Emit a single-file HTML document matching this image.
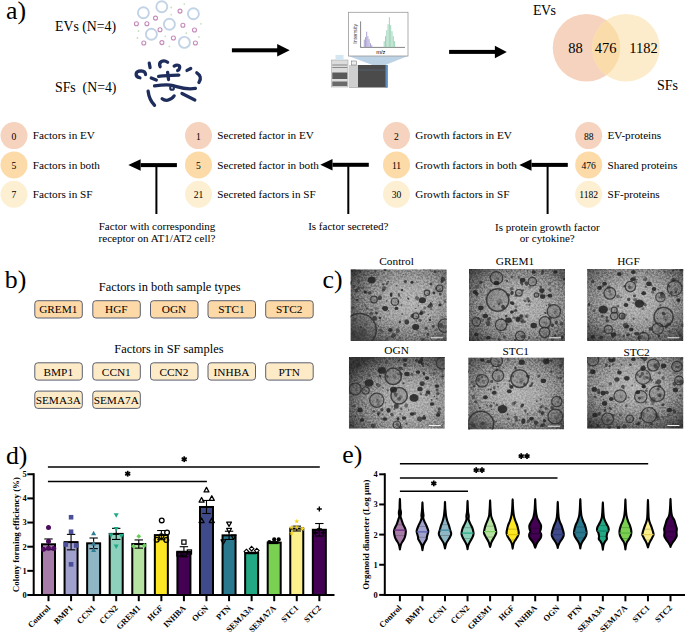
<!DOCTYPE html>
<html><head><meta charset="utf-8"><style>
html,body{margin:0;padding:0;background:#fff;}
body{width:685px;height:632px;overflow:hidden;}
svg{display:block;font-family:"Liberation Serif",serif;}
</style></head><body>
<svg width="685" height="632" viewBox="0 0 685 632">
<text x="6.0" y="19.0" font-size="25.8" text-anchor="start" font-weight="normal" fill="#000" >a)</text>
<text x="55" y="30.8" font-size="13.8" text-anchor="start" font-weight="normal" fill="#000" >EVs (N=4)</text>
<text x="55" y="91.5" font-size="13.8" text-anchor="start" font-weight="normal" fill="#000" >SFs&#160;&#160;(N=4)</text>
<circle cx="143.4" cy="12.8" r="5.5" fill="none" stroke="#c2d3e6" stroke-width="1.9"/>
<circle cx="161.8" cy="6.7" r="5.5" fill="none" stroke="#c2d3e6" stroke-width="1.9"/>
<circle cx="193.4" cy="13.7" r="5.5" fill="none" stroke="#c2d3e6" stroke-width="1.9"/>
<circle cx="169.4" cy="24.3" r="5.5" fill="none" stroke="#c2d3e6" stroke-width="1.9"/>
<circle cx="151.4" cy="34.2" r="5.5" fill="none" stroke="#c2d3e6" stroke-width="1.9"/>
<circle cx="184.4" cy="42.4" r="5.5" fill="none" stroke="#c2d3e6" stroke-width="1.9"/>
<circle cx="155.5" cy="18.1" r="2.0" fill="none" stroke="#c48ab8" stroke-width="1.1"/>
<circle cx="136.4" cy="23.7" r="2.0" fill="none" stroke="#c48ab8" stroke-width="1.1"/>
<circle cx="146.9" cy="23.7" r="2.0" fill="none" stroke="#c48ab8" stroke-width="1.1"/>
<circle cx="180" cy="11.1" r="2.0" fill="none" stroke="#c48ab8" stroke-width="1.1"/>
<circle cx="182.9" cy="25.3" r="2.0" fill="none" stroke="#c48ab8" stroke-width="1.1"/>
<circle cx="194.5" cy="30" r="2.0" fill="none" stroke="#c48ab8" stroke-width="1.1"/>
<circle cx="160" cy="29.8" r="2.0" fill="none" stroke="#c48ab8" stroke-width="1.1"/>
<circle cx="173.4" cy="38" r="2.0" fill="none" stroke="#c48ab8" stroke-width="1.1"/>
<circle cx="143.8" cy="43" r="2.0" fill="none" stroke="#c48ab8" stroke-width="1.1"/>
<circle cx="161.9" cy="42.6" r="2.0" fill="none" stroke="#c48ab8" stroke-width="1.1"/>
<circle cx="195.4" cy="43" r="2.0" fill="none" stroke="#c48ab8" stroke-width="1.1"/>
<circle cx="171.2" cy="7.5" r="0.9" fill="#c5e0bf"/>
<circle cx="184.3" cy="4.1" r="0.9" fill="#c5e0bf"/>
<circle cx="171.2" cy="14.7" r="0.9" fill="#c5e0bf"/>
<circle cx="200.9" cy="23.8" r="0.9" fill="#c5e0bf"/>
<circle cx="138.5" cy="31" r="0.9" fill="#c5e0bf"/>
<circle cx="186.3" cy="33.2" r="0.9" fill="#c5e0bf"/>
<circle cx="165.3" cy="36.3" r="0.9" fill="#c5e0bf"/>
<circle cx="198.9" cy="36.9" r="0.9" fill="#c5e0bf"/>
<circle cx="137.4" cy="38" r="0.9" fill="#c5e0bf"/>
<circle cx="169.4" cy="46.4" r="0.9" fill="#c5e0bf"/>
<g transform="translate(130,55) scale(0.1168)" fill="none" stroke="#1e2d5c" stroke-width="28" stroke-linecap="round">
<path d="M 85 195 C 40 185, 40 135, 95 135 C 120 137, 133 150, 133 168"/>
<path d="M 165 70 L 172 108"/>
<path d="M 258 100 C 240 60, 285 35, 322 62"/>
<path d="M 378 95 C 400 80, 430 85, 425 110 C 422 125, 415 130, 408 133"/>
<path d="M 488 132 L 520 115"/>
<path d="M 572 152 C 600 170, 615 200, 590 235"/>
<path d="M 245 182 C 300 178, 360 172, 418 172"/>
<path d="M 322 148 L 330 210"/>
<path d="M 182 197 L 225 215"/>
<path d="M 210 265 C 260 258, 320 250, 370 262 C 420 275, 470 300, 560 286"/>
<path d="M 155 310 C 160 350, 170 390, 210 430"/>
<path d="M 275 375 C 300 395, 345 395, 378 350"/>
<path d="M 445 330 L 555 385"/>
<circle cx="360" cy="282" r="16" stroke-width="18"/>
</g>
<rect x="231.9" y="48.3" width="46.29999999999998" height="4" fill="#000"/>
<polygon points="277.2,44.05 289.7,50.3 277.2,56.55" fill="#000"/>
<rect x="449.1" y="49.9" width="46.799999999999955" height="4" fill="#000"/>
<polygon points="494.9,45.65 506.8,51.9 494.9,58.15" fill="#000"/>
<g>
<polygon points="348.5,56 408,56 379,67.5" fill="#bcd3e6"/>
<rect x="348.5" y="12.3" width="59.5" height="43.7" fill="#fff" stroke="#9a9a9a" stroke-width="0.8"/>
<line x1="360.6" y1="21.4" x2="360.6" y2="47.6" stroke="#333" stroke-width="0.6"/>
<line x1="360.6" y1="47.4" x2="405" y2="47.4" stroke="#333" stroke-width="0.6"/>
<line x1="364.3" y1="47.2" x2="364.3" y2="39.7" stroke="#a49bd0" stroke-width="0.9"/>
<line x1="365.5" y1="47.2" x2="365.5" y2="37.2" stroke="#a49bd0" stroke-width="0.9"/>
<line x1="366.7" y1="47.2" x2="366.7" y2="31.700000000000003" stroke="#a49bd0" stroke-width="0.9"/>
<line x1="367.9" y1="47.2" x2="367.9" y2="36.2" stroke="#a49bd0" stroke-width="0.9"/>
<line x1="369.1" y1="47.2" x2="369.1" y2="39.2" stroke="#a49bd0" stroke-width="0.9"/>
<line x1="370.5" y1="47.2" x2="370.5" y2="43.2" stroke="#a49bd0" stroke-width="0.9"/>
<line x1="371.8" y1="47.2" x2="371.8" y2="45.2" stroke="#a49bd0" stroke-width="0.9"/>
<line x1="384.2" y1="47.2" x2="384.2" y2="41.2" stroke="#93d0b0" stroke-width="0.9"/>
<line x1="385.5" y1="47.2" x2="385.5" y2="36.2" stroke="#93d0b0" stroke-width="0.9"/>
<line x1="386.8" y1="47.2" x2="386.8" y2="30.200000000000003" stroke="#93d0b0" stroke-width="0.9"/>
<line x1="388.1" y1="47.2" x2="388.1" y2="24.200000000000003" stroke="#93d0b0" stroke-width="0.9"/>
<line x1="389.4" y1="47.2" x2="389.4" y2="17.200000000000003" stroke="#93d0b0" stroke-width="0.9"/>
<line x1="390.7" y1="47.2" x2="390.7" y2="25.200000000000003" stroke="#93d0b0" stroke-width="0.9"/>
<line x1="392.0" y1="47.2" x2="392.0" y2="31.200000000000003" stroke="#93d0b0" stroke-width="0.9"/>
<line x1="393.3" y1="47.2" x2="393.3" y2="36.2" stroke="#93d0b0" stroke-width="0.9"/>
<line x1="394.6" y1="47.2" x2="394.6" y2="41.2" stroke="#93d0b0" stroke-width="0.9"/>
<text x="0" y="0" font-size="5.3" text-anchor="middle" transform="translate(357.4,33.8) rotate(-90)" fill="#333" font-family="Liberation Sans">Intensity</text>
<text x="380.8" y="53.8" font-size="5.8" text-anchor="middle" font-weight="normal" fill="#000" font-family="Liberation Sans" fill="#333">m/z</text>
<rect x="331.5" y="60" width="16.5" height="27" fill="#dcdcdc" stroke="#9a9a9a" stroke-width="0.5"/>
<rect x="332.3" y="64.5" width="15" height="1" fill="#8a8a8a"/>
<rect x="332.3" y="67" width="15" height="1" fill="#8a8a8a"/>
<rect x="332.3" y="72.5" width="15" height="6.5" fill="#5a5a5a"/>
<rect x="332.3" y="81.5" width="15" height="4.5" fill="#6a6a6a"/>
<rect x="335.5" y="55" width="8" height="5" fill="#d3e6f1"/>
<rect x="349" y="65" width="38.5" height="22.5" fill="#4b4b4b"/>
<rect x="349" y="65" width="9" height="22.5" fill="#cfcfcf"/>
<rect x="385.5" y="65" width="2" height="22.5" fill="#5d8fc7"/>
<rect x="351.5" y="61" width="5" height="4" fill="#eee" stroke="#666" stroke-width="0.5"/>
<line x1="358" y1="70" x2="385" y2="70" stroke="#5d7fa8" stroke-width="0.4"/>
</g>
<circle cx="586.5" cy="47.8" r="33.8" fill="#f6d3be"/>
<circle cx="626" cy="47.8" r="33.8" fill="#fdeccb"/>
<clipPath id="vl"><circle cx="586.5" cy="47.8" r="33.8"/></clipPath>
<circle cx="626" cy="47.8" r="33.8" fill="#f9dcaa" clip-path="url(#vl)"/>
<text x="533" y="14.6" font-size="14" text-anchor="start" font-weight="normal" fill="#000" textLength="23">EVs</text>
<text x="575.4" y="53.1" font-size="14.5" text-anchor="middle" font-weight="normal" fill="#000" >88</text>
<text x="605.6" y="53.1" font-size="14.5" text-anchor="middle" font-weight="normal" fill="#000" >476</text>
<text x="643.6" y="53.1" font-size="14.5" text-anchor="middle" font-weight="normal" fill="#000" >1182</text>
<text x="657" y="90.3" font-size="14" text-anchor="start" font-weight="normal" fill="#000" >SFs</text>
<circle cx="14" cy="135.6" r="13.5" fill="#f6d3be"/>
<text x="14" y="139.5" font-size="9.6" text-anchor="middle" font-weight="normal" fill="#000" >0</text>
<text x="32.8" y="139.29999999999998" font-size="11.2" text-anchor="start" font-weight="normal" fill="#000" >Factors in EV</text>
<circle cx="14" cy="164.9" r="13.5" fill="#fcdba9"/>
<text x="14" y="168.8" font-size="9.6" text-anchor="middle" font-weight="normal" fill="#000" >5</text>
<text x="32.8" y="168.6" font-size="11.2" text-anchor="start" font-weight="normal" fill="#000" >Factors in both</text>
<circle cx="14" cy="194.3" r="13.5" fill="#fdf0d2"/>
<text x="14" y="198.20000000000002" font-size="9.6" text-anchor="middle" font-weight="normal" fill="#000" >7</text>
<text x="32.8" y="198.0" font-size="11.2" text-anchor="start" font-weight="normal" fill="#000" >Factors in SF</text>
<circle cx="198.5" cy="135.6" r="13.5" fill="#f6d3be"/>
<text x="198.5" y="139.5" font-size="9.6" text-anchor="middle" font-weight="normal" fill="#000" >1</text>
<text x="217.3" y="139.29999999999998" font-size="11.2" text-anchor="start" font-weight="normal" fill="#000" >Secreted factor in EV</text>
<circle cx="198.5" cy="164.9" r="13.5" fill="#fcdba9"/>
<text x="198.5" y="168.8" font-size="9.6" text-anchor="middle" font-weight="normal" fill="#000" >5</text>
<text x="217.3" y="168.6" font-size="11.2" text-anchor="start" font-weight="normal" fill="#000" >Secreted factor in both</text>
<circle cx="198.5" cy="194.3" r="13.5" fill="#fdf0d2"/>
<text x="198.5" y="198.20000000000002" font-size="9.6" text-anchor="middle" font-weight="normal" fill="#000" >21</text>
<text x="217.3" y="198.0" font-size="11.2" text-anchor="start" font-weight="normal" fill="#000" >Secreted factors in SF</text>
<circle cx="396.5" cy="135.6" r="13.5" fill="#f6d3be"/>
<text x="396.5" y="139.5" font-size="9.6" text-anchor="middle" font-weight="normal" fill="#000" >2</text>
<text x="415.3" y="139.29999999999998" font-size="11.2" text-anchor="start" font-weight="normal" fill="#000" >Growth factors in EV</text>
<circle cx="396.5" cy="164.9" r="13.5" fill="#fcdba9"/>
<text x="396.5" y="168.8" font-size="9.6" text-anchor="middle" font-weight="normal" fill="#000" >11</text>
<text x="415.3" y="168.6" font-size="11.2" text-anchor="start" font-weight="normal" fill="#000" >Growth factors in both</text>
<circle cx="396.5" cy="194.3" r="13.5" fill="#fdf0d2"/>
<text x="396.5" y="198.20000000000002" font-size="9.6" text-anchor="middle" font-weight="normal" fill="#000" >30</text>
<text x="415.3" y="198.0" font-size="11.2" text-anchor="start" font-weight="normal" fill="#000" >Growth factors in SF</text>
<circle cx="588.7" cy="135.6" r="13.5" fill="#f6d3be"/>
<text x="588.7" y="139.5" font-size="9.6" text-anchor="middle" font-weight="normal" fill="#000" >88</text>
<text x="607.5" y="139.29999999999998" font-size="11.2" text-anchor="start" font-weight="normal" fill="#000" >EV-proteins</text>
<circle cx="588.7" cy="164.9" r="13.5" fill="#fcdba9"/>
<text x="588.7" y="168.8" font-size="9.6" text-anchor="middle" font-weight="normal" fill="#000" >476</text>
<text x="607.5" y="168.6" font-size="11.2" text-anchor="start" font-weight="normal" fill="#000" >Shared proteins</text>
<circle cx="588.7" cy="194.3" r="13.5" fill="#fdf0d2"/>
<text x="588.7" y="198.20000000000002" font-size="9.6" text-anchor="middle" font-weight="normal" fill="#000" >1182</text>
<text x="607.5" y="198.0" font-size="11.2" text-anchor="start" font-weight="normal" fill="#000" >SF-proteins</text>
<rect x="140.6" y="163.1" width="36.30000000000001" height="4" fill="#000"/>
<polygon points="140.6,159.35 128.3,165.1 140.6,170.85" fill="#000"/>
<rect x="155.4" y="165.1" width="2" height="48.900000000000006" fill="#000"/>
<rect x="332.5" y="162.8" width="36.30000000000001" height="4" fill="#000"/>
<polygon points="332.5,159.05 320.3,164.8 332.5,170.55" fill="#000"/>
<rect x="347.3" y="164.8" width="2" height="49.19999999999999" fill="#000"/>
<rect x="531.5" y="162.9" width="36.299999999999955" height="4" fill="#000"/>
<polygon points="531.5,159.15 519.3,164.9 531.5,170.65" fill="#000"/>
<rect x="546.6" y="164.9" width="2" height="49.099999999999994" fill="#000"/>
<text x="157" y="230" font-size="11.05" text-anchor="middle" font-weight="normal" fill="#000" >Factor with corresponding</text>
<text x="157" y="242" font-size="11.05" text-anchor="middle" font-weight="normal" fill="#000" >receptor on AT1/AT2 cell?</text>
<text x="348.3" y="230" font-size="11.05" text-anchor="middle" font-weight="normal" fill="#000" >Is factor secreted?</text>
<text x="547.3" y="230.8" font-size="11.05" text-anchor="middle" font-weight="normal" fill="#000" >Is protein growth factor</text>
<text x="547.3" y="242.2" font-size="11.05" text-anchor="middle" font-weight="normal" fill="#000" >or cytokine?</text>
<text x="4.8" y="287.6" font-size="25.8" text-anchor="start" font-weight="normal" fill="#000" >b)</text>
<text x="169.7" y="291.1" font-size="12.4" text-anchor="middle" font-weight="normal" fill="#000" >Factors in both sample types</text>
<text x="168.9" y="353.2" font-size="12.4" text-anchor="middle" font-weight="normal" fill="#000" >Factors in SF samples</text>
<rect x="34.8" y="300.7" width="47.5" height="17.3" rx="3" fill="#fcd9a6" stroke="#5a5f70" stroke-width="1"/>
<text x="58.3" y="313.4" font-size="11.3" text-anchor="middle" font-weight="normal" fill="#000" >GREM1</text>
<rect x="92.8" y="300.7" width="47.5" height="17.3" rx="3" fill="#fcd9a6" stroke="#5a5f70" stroke-width="1"/>
<text x="116.3" y="313.4" font-size="11.3" text-anchor="middle" font-weight="normal" fill="#000" >HGF</text>
<rect x="150.5" y="300.7" width="47.5" height="17.3" rx="3" fill="#fcd9a6" stroke="#5a5f70" stroke-width="1"/>
<text x="174.0" y="313.4" font-size="11.3" text-anchor="middle" font-weight="normal" fill="#000" >OGN</text>
<rect x="208.0" y="300.7" width="47.5" height="17.3" rx="3" fill="#fcd9a6" stroke="#5a5f70" stroke-width="1"/>
<text x="231.5" y="313.4" font-size="11.3" text-anchor="middle" font-weight="normal" fill="#000" >STC1</text>
<rect x="265.7" y="300.7" width="47.5" height="17.3" rx="3" fill="#fcd9a6" stroke="#5a5f70" stroke-width="1"/>
<text x="289.2" y="313.4" font-size="11.3" text-anchor="middle" font-weight="normal" fill="#000" >STC2</text>
<rect x="34.8" y="362.8" width="47.5" height="17.3" rx="3" fill="#fdebc8" stroke="#5a5f70" stroke-width="1"/>
<text x="58.3" y="375.5" font-size="11.3" text-anchor="middle" font-weight="normal" fill="#000" >BMP1</text>
<rect x="92.8" y="362.8" width="47.5" height="17.3" rx="3" fill="#fdebc8" stroke="#5a5f70" stroke-width="1"/>
<text x="116.3" y="375.5" font-size="11.3" text-anchor="middle" font-weight="normal" fill="#000" >CCN1</text>
<rect x="150.5" y="362.8" width="47.5" height="17.3" rx="3" fill="#fdebc8" stroke="#5a5f70" stroke-width="1"/>
<text x="174.0" y="375.5" font-size="11.3" text-anchor="middle" font-weight="normal" fill="#000" >CCN2</text>
<rect x="208.0" y="362.8" width="47.5" height="17.3" rx="3" fill="#fdebc8" stroke="#5a5f70" stroke-width="1"/>
<text x="231.5" y="375.5" font-size="11.3" text-anchor="middle" font-weight="normal" fill="#000" >INHBA</text>
<rect x="265.7" y="362.8" width="47.5" height="17.3" rx="3" fill="#fdebc8" stroke="#5a5f70" stroke-width="1"/>
<text x="289.2" y="375.5" font-size="11.3" text-anchor="middle" font-weight="normal" fill="#000" >PTN</text>
<rect x="34.8" y="391.1" width="47.5" height="17.3" rx="3" fill="#fdebc8" stroke="#5a5f70" stroke-width="1"/>
<text x="58.3" y="403.8" font-size="11.3" text-anchor="middle" font-weight="normal" fill="#000" >SEMA3A</text>
<rect x="92.8" y="391.1" width="47.5" height="17.3" rx="3" fill="#fdebc8" stroke="#5a5f70" stroke-width="1"/>
<text x="116.3" y="403.8" font-size="11.3" text-anchor="middle" font-weight="normal" fill="#000" >SEMA7A</text>
<text x="322.6" y="287.6" font-size="25.8" text-anchor="start" font-weight="normal" fill="#000" >c)</text>
<defs>
<filter id="nz" x="0" y="0" width="100%" height="100%" color-interpolation-filters="sRGB">
<feTurbulence type="fractalNoise" baseFrequency="0.55" numOctaves="2" seed="7" result="t"/>
<feColorMatrix type="matrix" values="2.6 0 0 0 -0.8  2.6 0 0 0 -0.8  2.6 0 0 0 -0.8  0 0 0 0 1" in="t"/>
</filter>
<filter id="bl" x="-5%" y="-5%" width="110%" height="110%"><feGaussianBlur stdDeviation="0.7"/></filter>
<filter id="bl2"><feGaussianBlur stdDeviation="0.45"/></filter>
</defs>
<radialGradient id="g0" cx="0.62" cy="0.45" r="0.74"><stop offset="0" stop-color="#b2b2b2"/><stop offset="0.35" stop-color="#a2a2a2"/><stop offset="0.62" stop-color="#828282"/><stop offset="0.85" stop-color="#575757"/><stop offset="1" stop-color="#333333"/></radialGradient>
<clipPath id="c0"><rect x="350.5" y="269.3" width="96.3" height="71.7"/></clipPath>
<g clip-path="url(#c0)">
<g style="isolation:isolate">
<rect x="350.5" y="269.3" width="96.3" height="71.7" fill="url(#g0)"/>
<rect x="350.5" y="269.3" width="96.3" height="71.7" filter="url(#nz)" style="mix-blend-mode:overlay" opacity="0.22"/>
</g>
<g filter="url(#bl2)">
<circle cx="363.4" cy="330.1" r="1.32" fill="#2a2a2a" fill-opacity="0.46"/>
<circle cx="398.2" cy="301.5" r="1.09" fill="#2a2a2a" fill-opacity="0.70"/>
<circle cx="359.5" cy="271.3" r="1.48" fill="#2a2a2a" fill-opacity="0.54"/>
<circle cx="423.9" cy="269.5" r="0.78" fill="#2a2a2a" fill-opacity="0.67"/>
<circle cx="372.5" cy="337.1" r="1.64" fill="#2a2a2a" fill-opacity="0.36"/>
<circle cx="353.0" cy="308.1" r="1.73" fill="#2a2a2a" fill-opacity="0.52"/>
<circle cx="371.4" cy="299.6" r="0.50" fill="#2a2a2a" fill-opacity="0.45"/>
<circle cx="392.7" cy="304.8" r="0.58" fill="#2a2a2a" fill-opacity="0.45"/>
<circle cx="371.6" cy="302.3" r="0.62" fill="#2a2a2a" fill-opacity="0.36"/>
<circle cx="431.2" cy="309.2" r="1.08" fill="#2a2a2a" fill-opacity="0.43"/>
<circle cx="446.1" cy="331.0" r="0.52" fill="#2a2a2a" fill-opacity="0.50"/>
<circle cx="420.0" cy="320.3" r="1.73" fill="#2a2a2a" fill-opacity="0.54"/>
<circle cx="430.4" cy="317.4" r="0.63" fill="#2a2a2a" fill-opacity="0.61"/>
<circle cx="435.5" cy="330.0" r="0.86" fill="#2a2a2a" fill-opacity="0.62"/>
<circle cx="353.8" cy="286.7" r="1.39" fill="#2a2a2a" fill-opacity="0.54"/>
<circle cx="367.2" cy="308.6" r="1.19" fill="#2a2a2a" fill-opacity="0.65"/>
<circle cx="386.6" cy="300.8" r="0.86" fill="#2a2a2a" fill-opacity="0.70"/>
<circle cx="400.7" cy="297.5" r="0.84" fill="#2a2a2a" fill-opacity="0.36"/>
<circle cx="354.7" cy="319.7" r="1.85" fill="#2a2a2a" fill-opacity="0.62"/>
<circle cx="388.4" cy="281.5" r="0.85" fill="#2a2a2a" fill-opacity="0.79"/>
<circle cx="424.7" cy="308.0" r="1.54" fill="#2a2a2a" fill-opacity="0.45"/>
<circle cx="400.0" cy="337.6" r="0.97" fill="#2a2a2a" fill-opacity="0.56"/>
<circle cx="376.4" cy="308.6" r="1.78" fill="#2a2a2a" fill-opacity="0.35"/>
<circle cx="426.0" cy="328.1" r="1.60" fill="#2a2a2a" fill-opacity="0.68"/>
<circle cx="428.4" cy="306.5" r="0.94" fill="#2a2a2a" fill-opacity="0.54"/>
<circle cx="355.9" cy="331.7" r="0.95" fill="#2a2a2a" fill-opacity="0.44"/>
<circle cx="399.1" cy="304.1" r="0.68" fill="#2a2a2a" fill-opacity="0.51"/>
<circle cx="402.4" cy="314.0" r="1.03" fill="#2a2a2a" fill-opacity="0.56"/>
<circle cx="353.2" cy="285.8" r="0.54" fill="#2a2a2a" fill-opacity="0.61"/>
<circle cx="433.4" cy="326.5" r="1.39" fill="#2a2a2a" fill-opacity="0.72"/>
<circle cx="375.1" cy="329.7" r="1.13" fill="#2a2a2a" fill-opacity="0.39"/>
<circle cx="352.1" cy="270.3" r="1.30" fill="#2a2a2a" fill-opacity="0.46"/>
<circle cx="361.0" cy="314.1" r="0.67" fill="#2a2a2a" fill-opacity="0.38"/>
<circle cx="365.9" cy="307.1" r="0.54" fill="#2a2a2a" fill-opacity="0.47"/>
<circle cx="419.0" cy="301.9" r="0.65" fill="#2a2a2a" fill-opacity="0.56"/>
<circle cx="352.8" cy="297.0" r="0.75" fill="#2a2a2a" fill-opacity="0.43"/>
<circle cx="361.0" cy="333.8" r="0.86" fill="#2a2a2a" fill-opacity="0.44"/>
<circle cx="408.8" cy="327.9" r="0.50" fill="#2a2a2a" fill-opacity="0.36"/>
<circle cx="364.6" cy="320.8" r="0.54" fill="#2a2a2a" fill-opacity="0.67"/>
<circle cx="415.8" cy="308.4" r="0.57" fill="#2a2a2a" fill-opacity="0.79"/>
<circle cx="427.3" cy="306.3" r="0.57" fill="#2a2a2a" fill-opacity="0.64"/>
<circle cx="388.5" cy="310.6" r="0.64" fill="#2a2a2a" fill-opacity="0.63"/>
<circle cx="356.2" cy="290.7" r="1.81" fill="#2a2a2a" fill-opacity="0.74"/>
<circle cx="380.0" cy="330.9" r="0.63" fill="#2a2a2a" fill-opacity="0.77"/>
<circle cx="422.1" cy="299.1" r="0.59" fill="#2a2a2a" fill-opacity="0.35"/>
<circle cx="435.1" cy="272.0" r="1.44" fill="#2a2a2a" fill-opacity="0.78"/>
<circle cx="405.4" cy="281.6" r="1.55" fill="#2a2a2a" fill-opacity="0.79"/>
<circle cx="418.3" cy="305.8" r="0.70" fill="#2a2a2a" fill-opacity="0.51"/>
<circle cx="370.3" cy="317.6" r="0.76" fill="#2a2a2a" fill-opacity="0.44"/>
<circle cx="360.6" cy="317.0" r="0.62" fill="#2a2a2a" fill-opacity="0.57"/>
<circle cx="381.8" cy="331.8" r="1.63" fill="#2a2a2a" fill-opacity="0.36"/>
<circle cx="369.8" cy="292.8" r="1.86" fill="#2a2a2a" fill-opacity="0.70"/>
<circle cx="383.2" cy="284.6" r="1.14" fill="#2a2a2a" fill-opacity="0.73"/>
<circle cx="440.3" cy="294.0" r="1.59" fill="#2a2a2a" fill-opacity="0.66"/>
<circle cx="397.2" cy="340.0" r="0.58" fill="#2a2a2a" fill-opacity="0.68"/>
<circle cx="358.7" cy="281.5" r="1.66" fill="#2a2a2a" fill-opacity="0.45"/>
<circle cx="423.6" cy="312.3" r="1.49" fill="#2a2a2a" fill-opacity="0.52"/>
<circle cx="383.3" cy="290.2" r="1.55" fill="#2a2a2a" fill-opacity="0.62"/>
<circle cx="442.4" cy="332.9" r="0.53" fill="#2a2a2a" fill-opacity="0.60"/>
<circle cx="360.5" cy="272.1" r="0.51" fill="#2a2a2a" fill-opacity="0.74"/>
<circle cx="426.4" cy="328.7" r="0.66" fill="#2a2a2a" fill-opacity="0.63"/>
<circle cx="425.8" cy="296.4" r="0.96" fill="#2a2a2a" fill-opacity="0.45"/>
<circle cx="358.4" cy="288.4" r="1.61" fill="#2a2a2a" fill-opacity="0.60"/>
<circle cx="439.6" cy="302.1" r="0.61" fill="#2a2a2a" fill-opacity="0.70"/>
<circle cx="430.2" cy="270.2" r="1.13" fill="#2a2a2a" fill-opacity="0.39"/>
<circle cx="361.6" cy="332.8" r="0.50" fill="#2a2a2a" fill-opacity="0.46"/>
<circle cx="445.7" cy="299.5" r="0.52" fill="#2a2a2a" fill-opacity="0.43"/>
<circle cx="373.7" cy="322.6" r="0.51" fill="#2a2a2a" fill-opacity="0.76"/>
<circle cx="386.9" cy="338.9" r="1.66" fill="#2a2a2a" fill-opacity="0.48"/>
<circle cx="374.9" cy="303.5" r="0.51" fill="#2a2a2a" fill-opacity="0.64"/>
<circle cx="354.3" cy="270.1" r="1.85" fill="#2a2a2a" fill-opacity="0.48"/>
<circle cx="407.9" cy="301.6" r="0.64" fill="#2a2a2a" fill-opacity="0.38"/>
<circle cx="438.5" cy="338.8" r="1.82" fill="#2a2a2a" fill-opacity="0.40"/>
<circle cx="371.2" cy="313.6" r="1.84" fill="#2a2a2a" fill-opacity="0.59"/>
<circle cx="416.8" cy="316.8" r="0.59" fill="#2a2a2a" fill-opacity="0.59"/>
<circle cx="380.1" cy="287.0" r="0.51" fill="#2a2a2a" fill-opacity="0.48"/>
<circle cx="445.2" cy="301.4" r="1.10" fill="#2a2a2a" fill-opacity="0.64"/>
<circle cx="441.1" cy="297.3" r="0.63" fill="#2a2a2a" fill-opacity="0.50"/>
<circle cx="381.0" cy="330.0" r="1.62" fill="#2a2a2a" fill-opacity="0.49"/>
<circle cx="382.7" cy="308.3" r="0.97" fill="#2a2a2a" fill-opacity="0.62"/>
<circle cx="374.1" cy="270.8" r="0.58" fill="#2a2a2a" fill-opacity="0.38"/>
<circle cx="403.6" cy="274.4" r="0.51" fill="#2a2a2a" fill-opacity="0.64"/>
<circle cx="378.5" cy="326.1" r="0.84" fill="#2a2a2a" fill-opacity="0.74"/>
<circle cx="365.3" cy="305.3" r="1.38" fill="#2a2a2a" fill-opacity="0.38"/>
<circle cx="441.9" cy="281.7" r="1.34" fill="#2a2a2a" fill-opacity="0.79"/>
<circle cx="429.6" cy="292.2" r="0.52" fill="#2a2a2a" fill-opacity="0.58"/>
<circle cx="439.0" cy="290.3" r="1.62" fill="#2a2a2a" fill-opacity="0.41"/>
<circle cx="438.2" cy="271.6" r="0.64" fill="#2a2a2a" fill-opacity="0.76"/>
<circle cx="427.9" cy="334.3" r="1.49" fill="#2a2a2a" fill-opacity="0.69"/>
<circle cx="416.9" cy="282.1" r="0.76" fill="#2a2a2a" fill-opacity="0.42"/>
<circle cx="419.3" cy="317.2" r="0.59" fill="#2a2a2a" fill-opacity="0.38"/>
<circle cx="443.3" cy="327.3" r="0.92" fill="#2a2a2a" fill-opacity="0.59"/>
<circle cx="432.5" cy="301.8" r="0.72" fill="#2a2a2a" fill-opacity="0.50"/>
<circle cx="375.3" cy="271.1" r="1.09" fill="#2a2a2a" fill-opacity="0.54"/>
<circle cx="405.4" cy="273.8" r="0.68" fill="#2a2a2a" fill-opacity="0.41"/>
<circle cx="362.5" cy="287.9" r="1.46" fill="#2a2a2a" fill-opacity="0.53"/>
<circle cx="389.1" cy="313.2" r="0.58" fill="#2a2a2a" fill-opacity="0.35"/>
<circle cx="401.4" cy="305.2" r="1.09" fill="#2a2a2a" fill-opacity="0.55"/>
<circle cx="416.6" cy="321.7" r="0.58" fill="#2a2a2a" fill-opacity="0.57"/>
<circle cx="396.6" cy="285.4" r="0.74" fill="#2a2a2a" fill-opacity="0.60"/>
<circle cx="437.8" cy="335.1" r="0.61" fill="#2a2a2a" fill-opacity="0.64"/>
<circle cx="355.1" cy="274.4" r="0.87" fill="#2a2a2a" fill-opacity="0.74"/>
<circle cx="365.9" cy="324.2" r="1.59" fill="#2a2a2a" fill-opacity="0.49"/>
<circle cx="417.2" cy="330.2" r="0.69" fill="#2a2a2a" fill-opacity="0.67"/>
<circle cx="421.4" cy="311.9" r="1.53" fill="#2a2a2a" fill-opacity="0.75"/>
<circle cx="443.0" cy="310.3" r="0.54" fill="#2a2a2a" fill-opacity="0.46"/>
<circle cx="371.5" cy="310.1" r="1.30" fill="#2a2a2a" fill-opacity="0.37"/>
<circle cx="416.1" cy="320.7" r="0.67" fill="#2a2a2a" fill-opacity="0.58"/>
<circle cx="366.4" cy="321.6" r="0.50" fill="#2a2a2a" fill-opacity="0.79"/>
<circle cx="428.3" cy="314.4" r="0.60" fill="#2a2a2a" fill-opacity="0.76"/>
<ellipse cx="442.9" cy="279.3" rx="2.42" ry="2.27" transform="rotate(119 442.9 279.3)" fill="#262626" fill-opacity="0.78"/>
<ellipse cx="393.4" cy="335.6" rx="2.75" ry="2.07" transform="rotate(144 393.4 335.6)" fill="#262626" fill-opacity="0.67"/>
<ellipse cx="366.4" cy="292.6" rx="1.31" ry="1.27" transform="rotate(173 366.4 292.6)" fill="#262626" fill-opacity="0.55"/>
<ellipse cx="408.3" cy="298.6" rx="1.30" ry="0.93" transform="rotate(45 408.3 298.6)" fill="#262626" fill-opacity="0.80"/>
<ellipse cx="350.9" cy="282.9" rx="1.85" ry="1.12" transform="rotate(113 350.9 282.9)" fill="#262626" fill-opacity="0.74"/>
<ellipse cx="430.9" cy="284.1" rx="1.58" ry="1.29" transform="rotate(49 430.9 284.1)" fill="#262626" fill-opacity="0.73"/>
<ellipse cx="374.7" cy="318.3" rx="2.44" ry="2.26" transform="rotate(175 374.7 318.3)" fill="#262626" fill-opacity="0.72"/>
<ellipse cx="397.8" cy="330.7" rx="2.41" ry="1.99" transform="rotate(69 397.8 330.7)" fill="#262626" fill-opacity="0.61"/>
<ellipse cx="360.9" cy="327.2" rx="1.30" ry="1.17" transform="rotate(98 360.9 327.2)" fill="#262626" fill-opacity="0.89"/>
<ellipse cx="423.8" cy="339.1" rx="1.33" ry="1.07" transform="rotate(103 423.8 339.1)" fill="#262626" fill-opacity="0.62"/>
<ellipse cx="398.9" cy="294.9" rx="2.00" ry="1.20" transform="rotate(80 398.9 294.9)" fill="#262626" fill-opacity="0.68"/>
<ellipse cx="379.9" cy="297.9" rx="2.43" ry="2.12" transform="rotate(89 379.9 297.9)" fill="#262626" fill-opacity="0.76"/>
<ellipse cx="386.9" cy="283.9" rx="1.11" ry="0.79" transform="rotate(108 386.9 283.9)" fill="#262626" fill-opacity="0.85"/>
<ellipse cx="430.4" cy="305.9" rx="2.78" ry="2.18" transform="rotate(150 430.4 305.9)" fill="#262626" fill-opacity="0.66"/>
<ellipse cx="422.2" cy="340.1" rx="1.62" ry="1.08" transform="rotate(112 422.2 340.1)" fill="#262626" fill-opacity="0.71"/>
<ellipse cx="385.1" cy="269.6" rx="1.76" ry="1.36" transform="rotate(73 385.1 269.6)" fill="#262626" fill-opacity="0.84"/>
<ellipse cx="406.8" cy="321.9" rx="2.63" ry="2.36" transform="rotate(89 406.8 321.9)" fill="#262626" fill-opacity="0.80"/>
<ellipse cx="412.2" cy="315.8" rx="2.17" ry="1.66" transform="rotate(113 412.2 315.8)" fill="#262626" fill-opacity="0.75"/>
<ellipse cx="440.7" cy="325.4" rx="2.54" ry="2.30" transform="rotate(147 440.7 325.4)" fill="#262626" fill-opacity="0.74"/>
<ellipse cx="384.2" cy="288.3" rx="2.30" ry="2.19" transform="rotate(98 384.2 288.3)" fill="#262626" fill-opacity="0.56"/>
<ellipse cx="430.7" cy="304.0" rx="1.89" ry="1.17" transform="rotate(92 430.7 304.0)" fill="#262626" fill-opacity="0.80"/>
<ellipse cx="391.2" cy="294.8" rx="2.22" ry="1.35" transform="rotate(91 391.2 294.8)" fill="#262626" fill-opacity="0.88"/>
<ellipse cx="417.0" cy="298.1" rx="2.27" ry="1.91" transform="rotate(38 417.0 298.1)" fill="#262626" fill-opacity="0.58"/>
<ellipse cx="435.8" cy="288.6" rx="1.23" ry="1.14" transform="rotate(94 435.8 288.6)" fill="#262626" fill-opacity="0.65"/>
<ellipse cx="399.8" cy="322.1" rx="1.39" ry="1.19" transform="rotate(128 399.8 322.1)" fill="#262626" fill-opacity="0.83"/>
<ellipse cx="376.5" cy="313.0" rx="1.49" ry="1.23" transform="rotate(31 376.5 313.0)" fill="#262626" fill-opacity="0.82"/>
<ellipse cx="434.0" cy="292.9" rx="1.48" ry="1.46" transform="rotate(127 434.0 292.9)" fill="#262626" fill-opacity="0.84"/>
<ellipse cx="353.4" cy="333.8" rx="2.16" ry="1.57" transform="rotate(78 353.4 333.8)" fill="#262626" fill-opacity="0.80"/>
</g>
<g filter="url(#bl)">
<circle cx="359.9" cy="330" r="16.4" fill="#5a5a5a" fill-opacity="0.25" stroke="#2a2a2a" stroke-opacity="0.8" stroke-width="1.5"/>
<circle cx="363.2" cy="332.5" r="4.1" fill="#333" fill-opacity="0.35"/>
<circle cx="444.8" cy="325.6" r="6.7" fill="#5a5a5a" fill-opacity="0.25" stroke="#2a2a2a" stroke-opacity="0.8" stroke-width="1.2"/>
<circle cx="446.1" cy="326.6" r="1.7" fill="#333" fill-opacity="0.35"/>
<circle cx="374" cy="299.5" r="3.3" fill="#5a5a5a" fill-opacity="0.25" stroke="#2a2a2a" stroke-opacity="0.8" stroke-width="1.2"/>
<circle cx="374.7" cy="300.0" r="0.8" fill="#333" fill-opacity="0.35"/>
<circle cx="394.9" cy="301.7" r="3.7" fill="#5a5a5a" fill-opacity="0.25" stroke="#2a2a2a" stroke-opacity="0.8" stroke-width="1.2"/>
<circle cx="395.6" cy="302.3" r="0.9" fill="#333" fill-opacity="0.35"/>
<circle cx="415.7" cy="315.9" r="3" fill="#5a5a5a" fill-opacity="0.25" stroke="#2a2a2a" stroke-opacity="0.8" stroke-width="1.2"/>
<circle cx="416.3" cy="316.3" r="0.8" fill="#333" fill-opacity="0.35"/>
<circle cx="439.6" cy="288.3" r="3.3" fill="#5a5a5a" fill-opacity="0.25" stroke="#2a2a2a" stroke-opacity="0.8" stroke-width="1.2"/>
<circle cx="440.3" cy="288.8" r="0.8" fill="#333" fill-opacity="0.35"/>
<circle cx="426.9" cy="292.8" r="2.7" fill="#5a5a5a" fill-opacity="0.25" stroke="#2a2a2a" stroke-opacity="0.8" stroke-width="1.2"/>
<circle cx="427.4" cy="293.2" r="0.7" fill="#333" fill-opacity="0.35"/>
<ellipse cx="371.8" cy="280.1" rx="4.00" ry="3.40" fill="#1e1e1e" fill-opacity="0.85"/>
<ellipse cx="422.4" cy="300.2" rx="3.56" ry="3.04" fill="#1e1e1e" fill-opacity="0.85"/>
<ellipse cx="385.2" cy="308.4" rx="2.92" ry="2.48" fill="#1e1e1e" fill-opacity="0.85"/>
<ellipse cx="421" cy="313.6" rx="1.94" ry="1.66" fill="#1e1e1e" fill-opacity="0.85"/>
<ellipse cx="415.7" cy="327" rx="3.56" ry="3.04" fill="#1e1e1e" fill-opacity="0.85"/>
<ellipse cx="390.4" cy="330" rx="2.38" ry="2.02" fill="#1e1e1e" fill-opacity="0.85"/>
<ellipse cx="412" cy="282.4" rx="1.62" ry="1.38" fill="#1e1e1e" fill-opacity="0.85"/>
<ellipse cx="396.4" cy="308.4" rx="1.94" ry="1.66" fill="#1e1e1e" fill-opacity="0.85"/>
<ellipse cx="365" cy="292" rx="1.62" ry="1.38" fill="#1e1e1e" fill-opacity="0.85"/>
<ellipse cx="380" cy="318" rx="1.30" ry="1.10" fill="#1e1e1e" fill-opacity="0.85"/>
<ellipse cx="402" cy="290" rx="1.30" ry="1.10" fill="#1e1e1e" fill-opacity="0.85"/>
<ellipse cx="430" cy="320" rx="1.30" ry="1.10" fill="#1e1e1e" fill-opacity="0.85"/>
<ellipse cx="357" cy="300" rx="1.30" ry="1.10" fill="#1e1e1e" fill-opacity="0.85"/>
<ellipse cx="440" cy="305" rx="1.62" ry="1.38" fill="#1e1e1e" fill-opacity="0.85"/>
</g>
<line x1="430.8" y1="337.8" x2="442.8" y2="337.8" stroke="#f0f0f0" stroke-width="1"/>
</g>
<text x="396.6" y="264.7" font-size="11.3" text-anchor="middle" font-weight="normal" fill="#000" >Control</text>
<radialGradient id="g1" cx="0.55" cy="0.5" r="0.74"><stop offset="0" stop-color="#b2b2b2"/><stop offset="0.35" stop-color="#a2a2a2"/><stop offset="0.62" stop-color="#828282"/><stop offset="0.85" stop-color="#575757"/><stop offset="1" stop-color="#333333"/></radialGradient>
<clipPath id="c1"><rect x="468.9" y="269" width="96.2" height="72"/></clipPath>
<g clip-path="url(#c1)">
<g style="isolation:isolate">
<rect x="468.9" y="269" width="96.2" height="72" fill="url(#g1)"/>
<rect x="468.9" y="269" width="96.2" height="72" filter="url(#nz)" style="mix-blend-mode:overlay" opacity="0.22"/>
</g>
<g filter="url(#bl2)">
<circle cx="490.7" cy="338.3" r="0.52" fill="#2a2a2a" fill-opacity="0.67"/>
<circle cx="477.1" cy="286.8" r="1.90" fill="#2a2a2a" fill-opacity="0.44"/>
<circle cx="530.6" cy="302.1" r="0.79" fill="#2a2a2a" fill-opacity="0.57"/>
<circle cx="487.4" cy="328.8" r="0.51" fill="#2a2a2a" fill-opacity="0.46"/>
<circle cx="470.8" cy="288.2" r="0.73" fill="#2a2a2a" fill-opacity="0.76"/>
<circle cx="505.4" cy="277.2" r="0.59" fill="#2a2a2a" fill-opacity="0.80"/>
<circle cx="475.0" cy="313.7" r="0.70" fill="#2a2a2a" fill-opacity="0.65"/>
<circle cx="501.5" cy="318.8" r="0.85" fill="#2a2a2a" fill-opacity="0.64"/>
<circle cx="555.6" cy="310.9" r="0.53" fill="#2a2a2a" fill-opacity="0.38"/>
<circle cx="559.9" cy="304.2" r="0.55" fill="#2a2a2a" fill-opacity="0.78"/>
<circle cx="524.6" cy="321.5" r="1.59" fill="#2a2a2a" fill-opacity="0.48"/>
<circle cx="503.2" cy="332.2" r="0.53" fill="#2a2a2a" fill-opacity="0.69"/>
<circle cx="478.3" cy="318.7" r="1.19" fill="#2a2a2a" fill-opacity="0.78"/>
<circle cx="550.0" cy="305.3" r="0.55" fill="#2a2a2a" fill-opacity="0.42"/>
<circle cx="519.8" cy="305.7" r="0.51" fill="#2a2a2a" fill-opacity="0.76"/>
<circle cx="517.7" cy="319.5" r="0.57" fill="#2a2a2a" fill-opacity="0.46"/>
<circle cx="470.0" cy="293.7" r="0.60" fill="#2a2a2a" fill-opacity="0.54"/>
<circle cx="505.2" cy="329.1" r="1.61" fill="#2a2a2a" fill-opacity="0.43"/>
<circle cx="507.0" cy="281.0" r="1.12" fill="#2a2a2a" fill-opacity="0.79"/>
<circle cx="488.3" cy="324.2" r="0.63" fill="#2a2a2a" fill-opacity="0.36"/>
<circle cx="542.4" cy="293.6" r="0.54" fill="#2a2a2a" fill-opacity="0.55"/>
<circle cx="491.2" cy="298.5" r="0.78" fill="#2a2a2a" fill-opacity="0.54"/>
<circle cx="525.5" cy="289.8" r="0.51" fill="#2a2a2a" fill-opacity="0.39"/>
<circle cx="479.1" cy="306.5" r="0.68" fill="#2a2a2a" fill-opacity="0.71"/>
<circle cx="517.5" cy="320.0" r="1.84" fill="#2a2a2a" fill-opacity="0.38"/>
<circle cx="470.5" cy="279.1" r="0.71" fill="#2a2a2a" fill-opacity="0.61"/>
<circle cx="540.4" cy="294.3" r="1.80" fill="#2a2a2a" fill-opacity="0.35"/>
<circle cx="549.3" cy="284.1" r="1.57" fill="#2a2a2a" fill-opacity="0.36"/>
<circle cx="561.7" cy="323.7" r="1.87" fill="#2a2a2a" fill-opacity="0.61"/>
<circle cx="486.0" cy="338.8" r="0.77" fill="#2a2a2a" fill-opacity="0.39"/>
<circle cx="527.1" cy="304.8" r="0.81" fill="#2a2a2a" fill-opacity="0.42"/>
<circle cx="480.6" cy="310.8" r="0.79" fill="#2a2a2a" fill-opacity="0.41"/>
<circle cx="511.2" cy="321.2" r="1.22" fill="#2a2a2a" fill-opacity="0.56"/>
<circle cx="506.8" cy="295.0" r="0.57" fill="#2a2a2a" fill-opacity="0.44"/>
<circle cx="511.8" cy="276.8" r="1.24" fill="#2a2a2a" fill-opacity="0.67"/>
<circle cx="527.7" cy="270.6" r="0.69" fill="#2a2a2a" fill-opacity="0.54"/>
<circle cx="477.9" cy="338.7" r="1.30" fill="#2a2a2a" fill-opacity="0.58"/>
<circle cx="536.7" cy="283.4" r="0.57" fill="#2a2a2a" fill-opacity="0.59"/>
<circle cx="540.5" cy="315.6" r="0.50" fill="#2a2a2a" fill-opacity="0.63"/>
<circle cx="556.3" cy="322.5" r="1.70" fill="#2a2a2a" fill-opacity="0.79"/>
<circle cx="490.4" cy="290.3" r="0.92" fill="#2a2a2a" fill-opacity="0.79"/>
<circle cx="504.4" cy="336.8" r="1.51" fill="#2a2a2a" fill-opacity="0.58"/>
<circle cx="529.0" cy="337.9" r="1.36" fill="#2a2a2a" fill-opacity="0.48"/>
<circle cx="550.3" cy="283.1" r="0.69" fill="#2a2a2a" fill-opacity="0.78"/>
<circle cx="550.4" cy="291.5" r="0.62" fill="#2a2a2a" fill-opacity="0.63"/>
<circle cx="550.0" cy="318.3" r="1.73" fill="#2a2a2a" fill-opacity="0.68"/>
<circle cx="547.9" cy="312.6" r="0.68" fill="#2a2a2a" fill-opacity="0.54"/>
<circle cx="516.0" cy="307.1" r="1.48" fill="#2a2a2a" fill-opacity="0.47"/>
<circle cx="475.5" cy="321.8" r="0.60" fill="#2a2a2a" fill-opacity="0.54"/>
<circle cx="480.2" cy="328.7" r="0.61" fill="#2a2a2a" fill-opacity="0.48"/>
<circle cx="546.3" cy="305.3" r="0.61" fill="#2a2a2a" fill-opacity="0.75"/>
<circle cx="508.5" cy="295.0" r="1.80" fill="#2a2a2a" fill-opacity="0.71"/>
<circle cx="540.8" cy="287.0" r="1.43" fill="#2a2a2a" fill-opacity="0.62"/>
<circle cx="548.7" cy="295.5" r="1.35" fill="#2a2a2a" fill-opacity="0.71"/>
<circle cx="506.2" cy="316.1" r="1.35" fill="#2a2a2a" fill-opacity="0.80"/>
<circle cx="557.4" cy="325.6" r="0.53" fill="#2a2a2a" fill-opacity="0.62"/>
<circle cx="534.8" cy="275.3" r="0.80" fill="#2a2a2a" fill-opacity="0.74"/>
<circle cx="556.0" cy="335.6" r="0.51" fill="#2a2a2a" fill-opacity="0.62"/>
<circle cx="552.1" cy="316.0" r="0.64" fill="#2a2a2a" fill-opacity="0.37"/>
<circle cx="557.4" cy="330.9" r="1.10" fill="#2a2a2a" fill-opacity="0.51"/>
<circle cx="548.6" cy="327.7" r="1.24" fill="#2a2a2a" fill-opacity="0.62"/>
<circle cx="499.6" cy="290.4" r="0.68" fill="#2a2a2a" fill-opacity="0.50"/>
<circle cx="518.9" cy="277.2" r="1.23" fill="#2a2a2a" fill-opacity="0.51"/>
<circle cx="484.3" cy="287.4" r="0.71" fill="#2a2a2a" fill-opacity="0.54"/>
<circle cx="544.1" cy="276.2" r="0.57" fill="#2a2a2a" fill-opacity="0.48"/>
<circle cx="485.9" cy="323.0" r="0.52" fill="#2a2a2a" fill-opacity="0.37"/>
<circle cx="522.4" cy="322.0" r="1.45" fill="#2a2a2a" fill-opacity="0.60"/>
<circle cx="500.3" cy="332.5" r="1.26" fill="#2a2a2a" fill-opacity="0.57"/>
<circle cx="523.0" cy="336.4" r="1.89" fill="#2a2a2a" fill-opacity="0.77"/>
<circle cx="481.7" cy="292.5" r="0.73" fill="#2a2a2a" fill-opacity="0.43"/>
<circle cx="542.2" cy="273.4" r="1.60" fill="#2a2a2a" fill-opacity="0.61"/>
<circle cx="527.9" cy="298.9" r="1.73" fill="#2a2a2a" fill-opacity="0.61"/>
<circle cx="555.1" cy="335.4" r="1.17" fill="#2a2a2a" fill-opacity="0.79"/>
<circle cx="516.0" cy="295.4" r="1.50" fill="#2a2a2a" fill-opacity="0.59"/>
<circle cx="498.6" cy="318.0" r="0.82" fill="#2a2a2a" fill-opacity="0.41"/>
<circle cx="549.5" cy="305.0" r="1.82" fill="#2a2a2a" fill-opacity="0.59"/>
<circle cx="559.0" cy="289.8" r="0.57" fill="#2a2a2a" fill-opacity="0.59"/>
<circle cx="542.7" cy="328.4" r="1.09" fill="#2a2a2a" fill-opacity="0.41"/>
<circle cx="506.8" cy="271.5" r="0.69" fill="#2a2a2a" fill-opacity="0.78"/>
<circle cx="502.3" cy="319.3" r="1.04" fill="#2a2a2a" fill-opacity="0.41"/>
<circle cx="535.1" cy="274.7" r="0.55" fill="#2a2a2a" fill-opacity="0.61"/>
<circle cx="481.2" cy="338.4" r="0.75" fill="#2a2a2a" fill-opacity="0.63"/>
<circle cx="561.7" cy="276.8" r="1.90" fill="#2a2a2a" fill-opacity="0.37"/>
<circle cx="526.7" cy="316.2" r="1.86" fill="#2a2a2a" fill-opacity="0.51"/>
<circle cx="560.0" cy="315.8" r="0.82" fill="#2a2a2a" fill-opacity="0.43"/>
<circle cx="491.6" cy="295.3" r="0.67" fill="#2a2a2a" fill-opacity="0.52"/>
<circle cx="546.6" cy="296.0" r="1.05" fill="#2a2a2a" fill-opacity="0.37"/>
<circle cx="482.4" cy="320.1" r="1.61" fill="#2a2a2a" fill-opacity="0.49"/>
<circle cx="472.0" cy="285.7" r="0.68" fill="#2a2a2a" fill-opacity="0.51"/>
<circle cx="522.9" cy="290.7" r="1.09" fill="#2a2a2a" fill-opacity="0.70"/>
<circle cx="544.2" cy="322.4" r="0.98" fill="#2a2a2a" fill-opacity="0.47"/>
<circle cx="549.8" cy="289.8" r="1.54" fill="#2a2a2a" fill-opacity="0.55"/>
<circle cx="529.4" cy="304.9" r="1.10" fill="#2a2a2a" fill-opacity="0.50"/>
<circle cx="524.5" cy="322.0" r="0.68" fill="#2a2a2a" fill-opacity="0.62"/>
<circle cx="512.8" cy="302.8" r="0.71" fill="#2a2a2a" fill-opacity="0.60"/>
<circle cx="537.1" cy="281.5" r="0.53" fill="#2a2a2a" fill-opacity="0.72"/>
<circle cx="477.4" cy="326.1" r="1.31" fill="#2a2a2a" fill-opacity="0.45"/>
<circle cx="530.1" cy="287.2" r="1.59" fill="#2a2a2a" fill-opacity="0.44"/>
<circle cx="480.0" cy="271.6" r="1.22" fill="#2a2a2a" fill-opacity="0.45"/>
<circle cx="499.1" cy="339.3" r="1.26" fill="#2a2a2a" fill-opacity="0.68"/>
<circle cx="524.3" cy="315.1" r="0.50" fill="#2a2a2a" fill-opacity="0.72"/>
<circle cx="500.6" cy="330.5" r="0.74" fill="#2a2a2a" fill-opacity="0.76"/>
<circle cx="468.9" cy="339.6" r="0.51" fill="#2a2a2a" fill-opacity="0.58"/>
<circle cx="515.2" cy="340.0" r="1.22" fill="#2a2a2a" fill-opacity="0.79"/>
<circle cx="556.0" cy="299.6" r="0.53" fill="#2a2a2a" fill-opacity="0.42"/>
<circle cx="537.1" cy="337.5" r="1.12" fill="#2a2a2a" fill-opacity="0.51"/>
<circle cx="526.4" cy="316.3" r="0.59" fill="#2a2a2a" fill-opacity="0.66"/>
<circle cx="488.1" cy="271.0" r="0.51" fill="#2a2a2a" fill-opacity="0.57"/>
<circle cx="535.9" cy="285.2" r="0.72" fill="#2a2a2a" fill-opacity="0.66"/>
<circle cx="494.2" cy="306.6" r="1.01" fill="#2a2a2a" fill-opacity="0.53"/>
<ellipse cx="489.0" cy="318.9" rx="2.29" ry="1.55" transform="rotate(145 489.0 318.9)" fill="#262626" fill-opacity="0.76"/>
<ellipse cx="552.3" cy="325.2" rx="1.94" ry="1.72" transform="rotate(57 552.3 325.2)" fill="#262626" fill-opacity="0.76"/>
<ellipse cx="476.8" cy="293.9" rx="1.96" ry="1.87" transform="rotate(123 476.8 293.9)" fill="#262626" fill-opacity="0.86"/>
<ellipse cx="552.5" cy="338.9" rx="2.15" ry="1.82" transform="rotate(84 552.5 338.9)" fill="#262626" fill-opacity="0.59"/>
<ellipse cx="545.5" cy="312.9" rx="1.37" ry="0.96" transform="rotate(40 545.5 312.9)" fill="#262626" fill-opacity="0.79"/>
<ellipse cx="526.4" cy="283.5" rx="2.27" ry="1.87" transform="rotate(48 526.4 283.5)" fill="#262626" fill-opacity="0.68"/>
<ellipse cx="564.4" cy="279.2" rx="1.50" ry="1.26" transform="rotate(151 564.4 279.2)" fill="#262626" fill-opacity="0.87"/>
<ellipse cx="507.3" cy="324.4" rx="1.30" ry="0.98" transform="rotate(154 507.3 324.4)" fill="#262626" fill-opacity="0.77"/>
<ellipse cx="511.9" cy="312.1" rx="1.93" ry="1.58" transform="rotate(159 511.9 312.1)" fill="#262626" fill-opacity="0.89"/>
<ellipse cx="488.2" cy="323.4" rx="2.71" ry="2.28" transform="rotate(90 488.2 323.4)" fill="#262626" fill-opacity="0.65"/>
<ellipse cx="515.5" cy="310.8" rx="2.14" ry="1.38" transform="rotate(180 515.5 310.8)" fill="#262626" fill-opacity="0.61"/>
<ellipse cx="521.6" cy="283.3" rx="2.17" ry="1.37" transform="rotate(60 521.6 283.3)" fill="#262626" fill-opacity="0.65"/>
<ellipse cx="499.0" cy="304.1" rx="1.37" ry="1.09" transform="rotate(143 499.0 304.1)" fill="#262626" fill-opacity="0.75"/>
<ellipse cx="562.2" cy="337.4" rx="1.91" ry="1.50" transform="rotate(137 562.2 337.4)" fill="#262626" fill-opacity="0.85"/>
<ellipse cx="520.9" cy="317.0" rx="2.27" ry="1.83" transform="rotate(91 520.9 317.0)" fill="#262626" fill-opacity="0.66"/>
<ellipse cx="512.1" cy="303.1" rx="2.46" ry="1.64" transform="rotate(21 512.1 303.1)" fill="#262626" fill-opacity="0.87"/>
<ellipse cx="518.0" cy="319.2" rx="2.66" ry="2.38" transform="rotate(102 518.0 319.2)" fill="#262626" fill-opacity="0.88"/>
<ellipse cx="528.9" cy="301.2" rx="1.41" ry="0.94" transform="rotate(143 528.9 301.2)" fill="#262626" fill-opacity="0.86"/>
<ellipse cx="503.2" cy="307.1" rx="2.25" ry="1.90" transform="rotate(50 503.2 307.1)" fill="#262626" fill-opacity="0.86"/>
<ellipse cx="522.0" cy="320.4" rx="2.27" ry="1.76" transform="rotate(126 522.0 320.4)" fill="#262626" fill-opacity="0.58"/>
<ellipse cx="521.6" cy="315.9" rx="2.17" ry="1.56" transform="rotate(33 521.6 315.9)" fill="#262626" fill-opacity="0.54"/>
<ellipse cx="480.8" cy="282.3" rx="1.93" ry="1.59" transform="rotate(127 480.8 282.3)" fill="#262626" fill-opacity="0.68"/>
<ellipse cx="542.8" cy="271.1" rx="1.69" ry="1.10" transform="rotate(93 542.8 271.1)" fill="#262626" fill-opacity="0.73"/>
<ellipse cx="525.0" cy="300.9" rx="1.73" ry="1.26" transform="rotate(19 525.0 300.9)" fill="#262626" fill-opacity="0.58"/>
<ellipse cx="515.7" cy="309.9" rx="1.27" ry="1.19" transform="rotate(5 515.7 309.9)" fill="#262626" fill-opacity="0.55"/>
<ellipse cx="512.0" cy="293.0" rx="1.98" ry="1.74" transform="rotate(107 512.0 293.0)" fill="#262626" fill-opacity="0.81"/>
<ellipse cx="514.1" cy="317.7" rx="1.81" ry="1.18" transform="rotate(13 514.1 317.7)" fill="#262626" fill-opacity="0.57"/>
<ellipse cx="511.6" cy="288.9" rx="2.05" ry="1.78" transform="rotate(165 511.6 288.9)" fill="#262626" fill-opacity="0.56"/>
</g>
<g filter="url(#bl)">
<circle cx="497.7" cy="300" r="11.2" fill="#5a5a5a" fill-opacity="0.25" stroke="#2a2a2a" stroke-opacity="0.8" stroke-width="1.5"/>
<circle cx="499.9" cy="301.7" r="2.8" fill="#333" fill-opacity="0.35"/>
<circle cx="496.5" cy="277.9" r="6.3" fill="#5a5a5a" fill-opacity="0.25" stroke="#2a2a2a" stroke-opacity="0.8" stroke-width="1.2"/>
<circle cx="497.8" cy="278.8" r="1.6" fill="#333" fill-opacity="0.35"/>
<circle cx="532.3" cy="281.6" r="4.2" fill="#5a5a5a" fill-opacity="0.25" stroke="#2a2a2a" stroke-opacity="0.8" stroke-width="1.2"/>
<circle cx="533.1" cy="282.2" r="1.1" fill="#333" fill-opacity="0.35"/>
<circle cx="518.9" cy="292.8" r="3.3" fill="#5a5a5a" fill-opacity="0.25" stroke="#2a2a2a" stroke-opacity="0.8" stroke-width="1.2"/>
<circle cx="519.6" cy="293.3" r="0.8" fill="#333" fill-opacity="0.35"/>
<circle cx="536.4" cy="295" r="2.2" fill="#5a5a5a" fill-opacity="0.25" stroke="#2a2a2a" stroke-opacity="0.8" stroke-width="1.2"/>
<circle cx="536.8" cy="295.3" r="0.6" fill="#333" fill-opacity="0.35"/>
<circle cx="553.9" cy="311.4" r="6.7" fill="#5a5a5a" fill-opacity="0.25" stroke="#2a2a2a" stroke-opacity="0.8" stroke-width="1.2"/>
<circle cx="555.2" cy="312.4" r="1.7" fill="#333" fill-opacity="0.35"/>
<circle cx="544.9" cy="322.3" r="5.7" fill="#5a5a5a" fill-opacity="0.25" stroke="#2a2a2a" stroke-opacity="0.8" stroke-width="1.2"/>
<circle cx="546.0" cy="323.2" r="1.4" fill="#333" fill-opacity="0.35"/>
<circle cx="544.6" cy="332.3" r="5.2" fill="#5a5a5a" fill-opacity="0.25" stroke="#2a2a2a" stroke-opacity="0.8" stroke-width="1.2"/>
<circle cx="545.6" cy="333.1" r="1.3" fill="#333" fill-opacity="0.35"/>
<circle cx="520.3" cy="336" r="4.8" fill="#5a5a5a" fill-opacity="0.25" stroke="#2a2a2a" stroke-opacity="0.8" stroke-width="1.2"/>
<circle cx="521.3" cy="336.7" r="1.2" fill="#333" fill-opacity="0.35"/>
<circle cx="501" cy="324.8" r="5.7" fill="#5a5a5a" fill-opacity="0.25" stroke="#2a2a2a" stroke-opacity="0.8" stroke-width="1.2"/>
<circle cx="502.1" cy="325.7" r="1.4" fill="#333" fill-opacity="0.35"/>
<circle cx="476.4" cy="321.8" r="4.2" fill="#5a5a5a" fill-opacity="0.25" stroke="#2a2a2a" stroke-opacity="0.8" stroke-width="1.2"/>
<circle cx="477.2" cy="322.4" r="1.1" fill="#333" fill-opacity="0.35"/>
<ellipse cx="522.6" cy="280.1" rx="2.70" ry="2.30" fill="#1e1e1e" fill-opacity="0.85"/>
<ellipse cx="541.9" cy="290.6" rx="2.70" ry="2.30" fill="#1e1e1e" fill-opacity="0.85"/>
<ellipse cx="542.7" cy="296.5" rx="2.70" ry="2.30" fill="#1e1e1e" fill-opacity="0.85"/>
<ellipse cx="550.1" cy="295.8" rx="2.38" ry="2.02" fill="#1e1e1e" fill-opacity="0.85"/>
<ellipse cx="480.9" cy="307.7" rx="2.70" ry="2.30" fill="#1e1e1e" fill-opacity="0.85"/>
<ellipse cx="474.9" cy="292" rx="2.38" ry="2.02" fill="#1e1e1e" fill-opacity="0.85"/>
<ellipse cx="508.4" cy="320.3" rx="3.24" ry="2.76" fill="#1e1e1e" fill-opacity="0.85"/>
<ellipse cx="533.7" cy="325.6" rx="3.24" ry="2.76" fill="#1e1e1e" fill-opacity="0.85"/>
<ellipse cx="555.3" cy="272" rx="2.16" ry="1.84" fill="#1e1e1e" fill-opacity="0.85"/>
<ellipse cx="533.7" cy="272" rx="2.16" ry="1.84" fill="#1e1e1e" fill-opacity="0.85"/>
<ellipse cx="488.3" cy="337.5" rx="2.16" ry="1.84" fill="#1e1e1e" fill-opacity="0.85"/>
<ellipse cx="476.4" cy="334.5" rx="2.16" ry="1.84" fill="#1e1e1e" fill-opacity="0.85"/>
<ellipse cx="485.4" cy="316" rx="2.70" ry="2.30" fill="#1e1e1e" fill-opacity="0.85"/>
<ellipse cx="496.5" cy="283" rx="2.70" ry="2.30" fill="#1e1e1e" fill-opacity="0.85"/>
</g>
<line x1="549.1" y1="337.8" x2="561.1" y2="337.8" stroke="#f0f0f0" stroke-width="1"/>
</g>
<text x="515" y="265.0" font-size="11.3" text-anchor="middle" font-weight="normal" fill="#000" >GREM1</text>
<radialGradient id="g2" cx="0.5" cy="0.45" r="0.74"><stop offset="0" stop-color="#b2b2b2"/><stop offset="0.35" stop-color="#a2a2a2"/><stop offset="0.62" stop-color="#828282"/><stop offset="0.85" stop-color="#575757"/><stop offset="1" stop-color="#333333"/></radialGradient>
<clipPath id="c2"><rect x="587.1" y="269" width="96.3" height="72"/></clipPath>
<g clip-path="url(#c2)">
<g style="isolation:isolate">
<rect x="587.1" y="269" width="96.3" height="72" fill="url(#g2)"/>
<rect x="587.1" y="269" width="96.3" height="72" filter="url(#nz)" style="mix-blend-mode:overlay" opacity="0.22"/>
</g>
<g filter="url(#bl2)">
<circle cx="680.1" cy="269.8" r="1.26" fill="#2a2a2a" fill-opacity="0.42"/>
<circle cx="682.1" cy="270.2" r="1.58" fill="#2a2a2a" fill-opacity="0.66"/>
<circle cx="669.7" cy="341.0" r="0.58" fill="#2a2a2a" fill-opacity="0.50"/>
<circle cx="655.3" cy="289.2" r="0.60" fill="#2a2a2a" fill-opacity="0.45"/>
<circle cx="669.7" cy="332.0" r="1.39" fill="#2a2a2a" fill-opacity="0.45"/>
<circle cx="676.2" cy="305.8" r="0.57" fill="#2a2a2a" fill-opacity="0.55"/>
<circle cx="627.5" cy="274.7" r="0.95" fill="#2a2a2a" fill-opacity="0.51"/>
<circle cx="642.0" cy="336.0" r="1.08" fill="#2a2a2a" fill-opacity="0.53"/>
<circle cx="670.3" cy="340.7" r="0.84" fill="#2a2a2a" fill-opacity="0.78"/>
<circle cx="588.9" cy="279.1" r="0.54" fill="#2a2a2a" fill-opacity="0.77"/>
<circle cx="653.6" cy="320.8" r="0.62" fill="#2a2a2a" fill-opacity="0.57"/>
<circle cx="672.5" cy="276.2" r="0.52" fill="#2a2a2a" fill-opacity="0.37"/>
<circle cx="632.2" cy="329.5" r="0.93" fill="#2a2a2a" fill-opacity="0.53"/>
<circle cx="635.4" cy="281.9" r="1.76" fill="#2a2a2a" fill-opacity="0.51"/>
<circle cx="609.8" cy="291.4" r="1.45" fill="#2a2a2a" fill-opacity="0.49"/>
<circle cx="674.2" cy="293.2" r="0.77" fill="#2a2a2a" fill-opacity="0.38"/>
<circle cx="674.5" cy="326.3" r="0.82" fill="#2a2a2a" fill-opacity="0.40"/>
<circle cx="634.5" cy="296.1" r="1.49" fill="#2a2a2a" fill-opacity="0.77"/>
<circle cx="658.5" cy="289.7" r="0.50" fill="#2a2a2a" fill-opacity="0.75"/>
<circle cx="678.1" cy="280.4" r="0.85" fill="#2a2a2a" fill-opacity="0.57"/>
<circle cx="681.1" cy="272.1" r="0.51" fill="#2a2a2a" fill-opacity="0.73"/>
<circle cx="642.0" cy="302.3" r="1.35" fill="#2a2a2a" fill-opacity="0.62"/>
<circle cx="653.8" cy="287.4" r="0.51" fill="#2a2a2a" fill-opacity="0.35"/>
<circle cx="619.2" cy="315.7" r="0.70" fill="#2a2a2a" fill-opacity="0.51"/>
<circle cx="646.7" cy="319.8" r="1.00" fill="#2a2a2a" fill-opacity="0.49"/>
<circle cx="666.2" cy="326.7" r="1.62" fill="#2a2a2a" fill-opacity="0.75"/>
<circle cx="588.5" cy="317.2" r="0.67" fill="#2a2a2a" fill-opacity="0.52"/>
<circle cx="637.0" cy="279.4" r="0.59" fill="#2a2a2a" fill-opacity="0.79"/>
<circle cx="619.0" cy="334.7" r="1.16" fill="#2a2a2a" fill-opacity="0.49"/>
<circle cx="617.8" cy="312.5" r="1.19" fill="#2a2a2a" fill-opacity="0.50"/>
<circle cx="592.8" cy="281.4" r="1.54" fill="#2a2a2a" fill-opacity="0.68"/>
<circle cx="597.5" cy="329.1" r="0.96" fill="#2a2a2a" fill-opacity="0.50"/>
<circle cx="673.2" cy="278.3" r="0.51" fill="#2a2a2a" fill-opacity="0.50"/>
<circle cx="658.1" cy="308.4" r="0.83" fill="#2a2a2a" fill-opacity="0.76"/>
<circle cx="625.0" cy="325.7" r="0.50" fill="#2a2a2a" fill-opacity="0.70"/>
<circle cx="602.1" cy="316.2" r="1.48" fill="#2a2a2a" fill-opacity="0.65"/>
<circle cx="642.8" cy="308.6" r="1.29" fill="#2a2a2a" fill-opacity="0.52"/>
<circle cx="609.6" cy="309.1" r="0.88" fill="#2a2a2a" fill-opacity="0.40"/>
<circle cx="638.1" cy="302.6" r="0.53" fill="#2a2a2a" fill-opacity="0.67"/>
<circle cx="662.1" cy="293.4" r="1.55" fill="#2a2a2a" fill-opacity="0.79"/>
<circle cx="650.9" cy="298.4" r="0.60" fill="#2a2a2a" fill-opacity="0.41"/>
<circle cx="613.4" cy="340.9" r="0.51" fill="#2a2a2a" fill-opacity="0.76"/>
<circle cx="654.2" cy="325.4" r="0.51" fill="#2a2a2a" fill-opacity="0.64"/>
<circle cx="606.9" cy="317.7" r="1.38" fill="#2a2a2a" fill-opacity="0.67"/>
<circle cx="638.7" cy="332.7" r="0.57" fill="#2a2a2a" fill-opacity="0.42"/>
<circle cx="670.4" cy="273.0" r="0.74" fill="#2a2a2a" fill-opacity="0.54"/>
<circle cx="671.6" cy="295.8" r="0.95" fill="#2a2a2a" fill-opacity="0.58"/>
<circle cx="633.2" cy="303.1" r="0.81" fill="#2a2a2a" fill-opacity="0.62"/>
<circle cx="628.7" cy="299.5" r="1.70" fill="#2a2a2a" fill-opacity="0.79"/>
<circle cx="610.9" cy="337.2" r="0.50" fill="#2a2a2a" fill-opacity="0.50"/>
<circle cx="673.7" cy="281.2" r="1.13" fill="#2a2a2a" fill-opacity="0.80"/>
<circle cx="646.0" cy="302.1" r="0.50" fill="#2a2a2a" fill-opacity="0.55"/>
<circle cx="631.8" cy="325.8" r="0.71" fill="#2a2a2a" fill-opacity="0.71"/>
<circle cx="626.1" cy="314.7" r="1.31" fill="#2a2a2a" fill-opacity="0.42"/>
<circle cx="678.9" cy="301.4" r="0.82" fill="#2a2a2a" fill-opacity="0.79"/>
<circle cx="642.1" cy="306.4" r="0.56" fill="#2a2a2a" fill-opacity="0.45"/>
<circle cx="660.3" cy="305.4" r="1.11" fill="#2a2a2a" fill-opacity="0.66"/>
<circle cx="652.8" cy="292.3" r="1.54" fill="#2a2a2a" fill-opacity="0.55"/>
<circle cx="604.0" cy="331.4" r="1.64" fill="#2a2a2a" fill-opacity="0.40"/>
<circle cx="672.3" cy="318.6" r="0.60" fill="#2a2a2a" fill-opacity="0.61"/>
<circle cx="675.9" cy="279.9" r="1.11" fill="#2a2a2a" fill-opacity="0.46"/>
<circle cx="601.5" cy="337.4" r="1.89" fill="#2a2a2a" fill-opacity="0.64"/>
<circle cx="663.4" cy="297.4" r="0.76" fill="#2a2a2a" fill-opacity="0.63"/>
<circle cx="665.5" cy="319.5" r="0.81" fill="#2a2a2a" fill-opacity="0.63"/>
<circle cx="625.9" cy="327.3" r="1.56" fill="#2a2a2a" fill-opacity="0.70"/>
<circle cx="618.1" cy="296.4" r="1.84" fill="#2a2a2a" fill-opacity="0.52"/>
<circle cx="651.1" cy="275.9" r="0.52" fill="#2a2a2a" fill-opacity="0.45"/>
<circle cx="651.9" cy="285.4" r="1.10" fill="#2a2a2a" fill-opacity="0.38"/>
<circle cx="653.7" cy="319.6" r="0.59" fill="#2a2a2a" fill-opacity="0.46"/>
<circle cx="611.3" cy="304.6" r="0.55" fill="#2a2a2a" fill-opacity="0.46"/>
<circle cx="664.6" cy="336.4" r="0.54" fill="#2a2a2a" fill-opacity="0.58"/>
<circle cx="650.5" cy="337.3" r="0.94" fill="#2a2a2a" fill-opacity="0.59"/>
<circle cx="661.4" cy="325.8" r="1.21" fill="#2a2a2a" fill-opacity="0.63"/>
<circle cx="665.2" cy="272.0" r="1.32" fill="#2a2a2a" fill-opacity="0.45"/>
<circle cx="621.1" cy="297.3" r="0.88" fill="#2a2a2a" fill-opacity="0.62"/>
<circle cx="643.6" cy="291.8" r="0.68" fill="#2a2a2a" fill-opacity="0.65"/>
<circle cx="676.8" cy="296.4" r="0.50" fill="#2a2a2a" fill-opacity="0.73"/>
<circle cx="672.5" cy="329.5" r="1.07" fill="#2a2a2a" fill-opacity="0.54"/>
<circle cx="593.4" cy="335.3" r="0.77" fill="#2a2a2a" fill-opacity="0.41"/>
<circle cx="647.3" cy="272.2" r="0.71" fill="#2a2a2a" fill-opacity="0.62"/>
<circle cx="664.4" cy="294.9" r="0.55" fill="#2a2a2a" fill-opacity="0.50"/>
<circle cx="666.1" cy="275.5" r="0.53" fill="#2a2a2a" fill-opacity="0.51"/>
<circle cx="678.8" cy="332.6" r="1.81" fill="#2a2a2a" fill-opacity="0.37"/>
<circle cx="635.4" cy="279.5" r="0.98" fill="#2a2a2a" fill-opacity="0.71"/>
<circle cx="633.5" cy="318.7" r="1.15" fill="#2a2a2a" fill-opacity="0.58"/>
<circle cx="624.6" cy="286.3" r="1.23" fill="#2a2a2a" fill-opacity="0.79"/>
<circle cx="680.3" cy="335.5" r="1.51" fill="#2a2a2a" fill-opacity="0.65"/>
<circle cx="634.8" cy="277.7" r="1.39" fill="#2a2a2a" fill-opacity="0.43"/>
<circle cx="676.7" cy="330.7" r="0.61" fill="#2a2a2a" fill-opacity="0.76"/>
<circle cx="659.9" cy="327.5" r="0.52" fill="#2a2a2a" fill-opacity="0.47"/>
<circle cx="602.0" cy="336.8" r="0.58" fill="#2a2a2a" fill-opacity="0.55"/>
<circle cx="659.5" cy="297.6" r="1.06" fill="#2a2a2a" fill-opacity="0.63"/>
<circle cx="623.6" cy="335.8" r="1.13" fill="#2a2a2a" fill-opacity="0.68"/>
<circle cx="657.6" cy="313.6" r="0.54" fill="#2a2a2a" fill-opacity="0.76"/>
<circle cx="677.9" cy="276.4" r="0.69" fill="#2a2a2a" fill-opacity="0.43"/>
<circle cx="599.8" cy="310.7" r="0.76" fill="#2a2a2a" fill-opacity="0.41"/>
<circle cx="633.5" cy="319.1" r="0.53" fill="#2a2a2a" fill-opacity="0.64"/>
<circle cx="650.6" cy="328.9" r="1.90" fill="#2a2a2a" fill-opacity="0.75"/>
<circle cx="623.1" cy="275.0" r="0.66" fill="#2a2a2a" fill-opacity="0.43"/>
<circle cx="669.2" cy="295.4" r="0.94" fill="#2a2a2a" fill-opacity="0.68"/>
<circle cx="631.5" cy="340.9" r="1.11" fill="#2a2a2a" fill-opacity="0.62"/>
<circle cx="603.1" cy="286.3" r="1.16" fill="#2a2a2a" fill-opacity="0.55"/>
<circle cx="642.9" cy="332.3" r="1.14" fill="#2a2a2a" fill-opacity="0.73"/>
<circle cx="622.4" cy="273.9" r="0.61" fill="#2a2a2a" fill-opacity="0.76"/>
<circle cx="610.2" cy="277.8" r="0.51" fill="#2a2a2a" fill-opacity="0.80"/>
<circle cx="607.3" cy="274.5" r="0.68" fill="#2a2a2a" fill-opacity="0.37"/>
<circle cx="657.4" cy="318.6" r="0.75" fill="#2a2a2a" fill-opacity="0.68"/>
<circle cx="588.8" cy="326.4" r="1.08" fill="#2a2a2a" fill-opacity="0.69"/>
<circle cx="600.8" cy="337.6" r="1.86" fill="#2a2a2a" fill-opacity="0.57"/>
<circle cx="617.9" cy="306.2" r="1.20" fill="#2a2a2a" fill-opacity="0.56"/>
<ellipse cx="639.5" cy="337.6" rx="2.30" ry="1.74" transform="rotate(164 639.5 337.6)" fill="#262626" fill-opacity="0.82"/>
<ellipse cx="589.1" cy="304.5" rx="1.61" ry="1.16" transform="rotate(67 589.1 304.5)" fill="#262626" fill-opacity="0.83"/>
<ellipse cx="645.9" cy="286.7" rx="1.21" ry="0.80" transform="rotate(68 645.9 286.7)" fill="#262626" fill-opacity="0.72"/>
<ellipse cx="635.1" cy="299.7" rx="2.00" ry="1.45" transform="rotate(171 635.1 299.7)" fill="#262626" fill-opacity="0.59"/>
<ellipse cx="622.6" cy="316.4" rx="2.53" ry="1.92" transform="rotate(114 622.6 316.4)" fill="#262626" fill-opacity="0.60"/>
<ellipse cx="588.2" cy="338.8" rx="1.21" ry="1.10" transform="rotate(6 588.2 338.8)" fill="#262626" fill-opacity="0.62"/>
<ellipse cx="636.7" cy="333.7" rx="2.47" ry="1.78" transform="rotate(1 636.7 333.7)" fill="#262626" fill-opacity="0.80"/>
<ellipse cx="658.9" cy="336.2" rx="1.33" ry="1.15" transform="rotate(111 658.9 336.2)" fill="#262626" fill-opacity="0.85"/>
<ellipse cx="668.7" cy="324.3" rx="2.54" ry="1.61" transform="rotate(178 668.7 324.3)" fill="#262626" fill-opacity="0.74"/>
<ellipse cx="673.4" cy="279.8" rx="1.98" ry="1.89" transform="rotate(174 673.4 279.8)" fill="#262626" fill-opacity="0.74"/>
<ellipse cx="673.2" cy="270.7" rx="1.28" ry="0.90" transform="rotate(157 673.2 270.7)" fill="#262626" fill-opacity="0.79"/>
<ellipse cx="628.1" cy="334.9" rx="1.98" ry="1.30" transform="rotate(170 628.1 334.9)" fill="#262626" fill-opacity="0.80"/>
<ellipse cx="682.9" cy="325.2" rx="1.96" ry="1.87" transform="rotate(24 682.9 325.2)" fill="#262626" fill-opacity="0.50"/>
<ellipse cx="612.5" cy="337.5" rx="1.25" ry="1.13" transform="rotate(97 612.5 337.5)" fill="#262626" fill-opacity="0.55"/>
<ellipse cx="607.2" cy="320.8" rx="1.76" ry="1.68" transform="rotate(9 607.2 320.8)" fill="#262626" fill-opacity="0.73"/>
<ellipse cx="669.1" cy="286.2" rx="1.57" ry="1.31" transform="rotate(31 669.1 286.2)" fill="#262626" fill-opacity="0.76"/>
<ellipse cx="675.9" cy="292.0" rx="1.39" ry="1.32" transform="rotate(10 675.9 292.0)" fill="#262626" fill-opacity="0.84"/>
<ellipse cx="627.6" cy="326.5" rx="1.74" ry="1.71" transform="rotate(118 627.6 326.5)" fill="#262626" fill-opacity="0.74"/>
<ellipse cx="594.2" cy="310.8" rx="1.50" ry="1.33" transform="rotate(57 594.2 310.8)" fill="#262626" fill-opacity="0.59"/>
<ellipse cx="600.6" cy="287.3" rx="1.31" ry="0.93" transform="rotate(97 600.6 287.3)" fill="#262626" fill-opacity="0.84"/>
<ellipse cx="661.9" cy="295.1" rx="2.67" ry="1.98" transform="rotate(77 661.9 295.1)" fill="#262626" fill-opacity="0.72"/>
<ellipse cx="644.8" cy="304.5" rx="2.23" ry="1.51" transform="rotate(38 644.8 304.5)" fill="#262626" fill-opacity="0.63"/>
<ellipse cx="629.4" cy="287.2" rx="2.07" ry="1.30" transform="rotate(76 629.4 287.2)" fill="#262626" fill-opacity="0.68"/>
<ellipse cx="645.3" cy="279.3" rx="2.21" ry="1.74" transform="rotate(167 645.3 279.3)" fill="#262626" fill-opacity="0.56"/>
<ellipse cx="625.7" cy="325.4" rx="2.69" ry="2.49" transform="rotate(160 625.7 325.4)" fill="#262626" fill-opacity="0.68"/>
<ellipse cx="608.8" cy="287.6" rx="2.18" ry="1.89" transform="rotate(76 608.8 287.6)" fill="#262626" fill-opacity="0.58"/>
<ellipse cx="671.4" cy="292.4" rx="1.51" ry="1.41" transform="rotate(140 671.4 292.4)" fill="#262626" fill-opacity="0.77"/>
<ellipse cx="663.7" cy="313.7" rx="2.16" ry="1.63" transform="rotate(31 663.7 313.7)" fill="#262626" fill-opacity="0.87"/>
</g>
<g filter="url(#bl)">
<circle cx="674.7" cy="288.1" r="7.4" fill="#5a5a5a" fill-opacity="0.25" stroke="#2a2a2a" stroke-opacity="0.8" stroke-width="1.2"/>
<circle cx="676.2" cy="289.2" r="1.9" fill="#333" fill-opacity="0.35"/>
<circle cx="663.6" cy="316.9" r="9.6" fill="#5a5a5a" fill-opacity="0.25" stroke="#2a2a2a" stroke-opacity="0.8" stroke-width="1.5"/>
<circle cx="665.5" cy="318.3" r="2.4" fill="#333" fill-opacity="0.35"/>
<circle cx="657.7" cy="328.7" r="5.6" fill="#5a5a5a" fill-opacity="0.25" stroke="#2a2a2a" stroke-opacity="0.8" stroke-width="1.2"/>
<circle cx="658.8" cy="329.5" r="1.4" fill="#333" fill-opacity="0.35"/>
<circle cx="660.4" cy="297.3" r="4.7" fill="#5a5a5a" fill-opacity="0.25" stroke="#2a2a2a" stroke-opacity="0.8" stroke-width="1.2"/>
<circle cx="661.3" cy="298.0" r="1.2" fill="#333" fill-opacity="0.35"/>
<circle cx="630.4" cy="286.6" r="5.2" fill="#5a5a5a" fill-opacity="0.25" stroke="#2a2a2a" stroke-opacity="0.8" stroke-width="1.2"/>
<circle cx="631.4" cy="287.4" r="1.3" fill="#333" fill-opacity="0.35"/>
<circle cx="609.8" cy="293.3" r="5.9" fill="#5a5a5a" fill-opacity="0.25" stroke="#2a2a2a" stroke-opacity="0.8" stroke-width="1.2"/>
<circle cx="611.0" cy="294.2" r="1.5" fill="#333" fill-opacity="0.35"/>
<circle cx="614.2" cy="316.1" r="3.7" fill="#5a5a5a" fill-opacity="0.25" stroke="#2a2a2a" stroke-opacity="0.8" stroke-width="1.2"/>
<circle cx="614.9" cy="316.7" r="0.9" fill="#333" fill-opacity="0.35"/>
<circle cx="614.2" cy="310.2" r="3" fill="#5a5a5a" fill-opacity="0.25" stroke="#2a2a2a" stroke-opacity="0.8" stroke-width="1.2"/>
<circle cx="614.8" cy="310.6" r="0.8" fill="#333" fill-opacity="0.35"/>
<circle cx="622" cy="316.1" r="3" fill="#5a5a5a" fill-opacity="0.25" stroke="#2a2a2a" stroke-opacity="0.8" stroke-width="1.2"/>
<circle cx="622.6" cy="316.6" r="0.8" fill="#333" fill-opacity="0.35"/>
<circle cx="608.3" cy="329.4" r="4.1" fill="#5a5a5a" fill-opacity="0.25" stroke="#2a2a2a" stroke-opacity="0.8" stroke-width="1.2"/>
<circle cx="609.1" cy="330.0" r="1.0" fill="#333" fill-opacity="0.35"/>
<circle cx="643.7" cy="337.5" r="5.2" fill="#5a5a5a" fill-opacity="0.25" stroke="#2a2a2a" stroke-opacity="0.8" stroke-width="1.2"/>
<circle cx="644.7" cy="338.3" r="1.3" fill="#333" fill-opacity="0.35"/>
<ellipse cx="639.3" cy="303.6" rx="4.75" ry="4.05" fill="#1e1e1e" fill-opacity="0.85"/>
<ellipse cx="603.2" cy="309.5" rx="4.75" ry="4.05" fill="#1e1e1e" fill-opacity="0.85"/>
<ellipse cx="619.4" cy="274.1" rx="2.38" ry="2.02" fill="#1e1e1e" fill-opacity="0.85"/>
<ellipse cx="633.4" cy="271.9" rx="2.38" ry="2.02" fill="#1e1e1e" fill-opacity="0.85"/>
<ellipse cx="632.7" cy="279.3" rx="2.38" ry="2.02" fill="#1e1e1e" fill-opacity="0.85"/>
<ellipse cx="648.9" cy="283.7" rx="2.70" ry="2.30" fill="#1e1e1e" fill-opacity="0.85"/>
<ellipse cx="654" cy="288.9" rx="2.38" ry="2.02" fill="#1e1e1e" fill-opacity="0.85"/>
<ellipse cx="599.5" cy="288.1" rx="2.38" ry="2.02" fill="#1e1e1e" fill-opacity="0.85"/>
<ellipse cx="604.6" cy="283.7" rx="2.38" ry="2.02" fill="#1e1e1e" fill-opacity="0.85"/>
<ellipse cx="643.7" cy="293.3" rx="2.38" ry="2.02" fill="#1e1e1e" fill-opacity="0.85"/>
<ellipse cx="626" cy="305" rx="2.38" ry="2.02" fill="#1e1e1e" fill-opacity="0.85"/>
<ellipse cx="631.2" cy="329.4" rx="2.16" ry="1.84" fill="#1e1e1e" fill-opacity="0.85"/>
<ellipse cx="592.8" cy="336.8" rx="2.16" ry="1.84" fill="#1e1e1e" fill-opacity="0.85"/>
<ellipse cx="613.5" cy="334.5" rx="2.70" ry="2.30" fill="#1e1e1e" fill-opacity="0.85"/>
<ellipse cx="678.4" cy="300" rx="2.16" ry="1.84" fill="#1e1e1e" fill-opacity="0.85"/>
</g>
<line x1="667.4" y1="337.8" x2="679.4" y2="337.8" stroke="#f0f0f0" stroke-width="1"/>
</g>
<text x="628.5" y="265.0" font-size="11.3" text-anchor="middle" font-weight="normal" fill="#000" >HGF</text>
<radialGradient id="g3" cx="0.62" cy="0.62" r="0.74"><stop offset="0" stop-color="#b2b2b2"/><stop offset="0.35" stop-color="#a2a2a2"/><stop offset="0.62" stop-color="#828282"/><stop offset="0.85" stop-color="#575757"/><stop offset="1" stop-color="#333333"/></radialGradient>
<clipPath id="c3"><rect x="348.9" y="357" width="95.9" height="71.7"/></clipPath>
<g clip-path="url(#c3)">
<g style="isolation:isolate">
<rect x="348.9" y="357" width="95.9" height="71.7" fill="url(#g3)"/>
<rect x="348.9" y="357" width="95.9" height="71.7" filter="url(#nz)" style="mix-blend-mode:overlay" opacity="0.22"/>
</g>
<g filter="url(#bl2)">
<circle cx="440.8" cy="367.1" r="0.50" fill="#2a2a2a" fill-opacity="0.80"/>
<circle cx="366.6" cy="365.6" r="1.09" fill="#2a2a2a" fill-opacity="0.51"/>
<circle cx="434.2" cy="373.6" r="1.79" fill="#2a2a2a" fill-opacity="0.49"/>
<circle cx="406.5" cy="423.8" r="1.16" fill="#2a2a2a" fill-opacity="0.77"/>
<circle cx="416.8" cy="360.5" r="1.59" fill="#2a2a2a" fill-opacity="0.62"/>
<circle cx="378.7" cy="370.6" r="1.51" fill="#2a2a2a" fill-opacity="0.61"/>
<circle cx="438.9" cy="412.5" r="1.79" fill="#2a2a2a" fill-opacity="0.60"/>
<circle cx="415.9" cy="400.9" r="0.59" fill="#2a2a2a" fill-opacity="0.78"/>
<circle cx="378.9" cy="413.0" r="1.78" fill="#2a2a2a" fill-opacity="0.64"/>
<circle cx="362.5" cy="416.2" r="1.12" fill="#2a2a2a" fill-opacity="0.43"/>
<circle cx="353.6" cy="395.1" r="0.50" fill="#2a2a2a" fill-opacity="0.77"/>
<circle cx="397.5" cy="394.1" r="0.73" fill="#2a2a2a" fill-opacity="0.65"/>
<circle cx="436.8" cy="379.0" r="0.70" fill="#2a2a2a" fill-opacity="0.61"/>
<circle cx="377.4" cy="399.7" r="0.91" fill="#2a2a2a" fill-opacity="0.55"/>
<circle cx="413.5" cy="394.9" r="0.51" fill="#2a2a2a" fill-opacity="0.80"/>
<circle cx="383.0" cy="388.0" r="0.73" fill="#2a2a2a" fill-opacity="0.77"/>
<circle cx="440.2" cy="393.7" r="0.72" fill="#2a2a2a" fill-opacity="0.39"/>
<circle cx="434.8" cy="369.3" r="0.92" fill="#2a2a2a" fill-opacity="0.51"/>
<circle cx="380.4" cy="382.6" r="0.55" fill="#2a2a2a" fill-opacity="0.37"/>
<circle cx="400.2" cy="414.1" r="1.09" fill="#2a2a2a" fill-opacity="0.44"/>
<circle cx="415.4" cy="360.7" r="0.74" fill="#2a2a2a" fill-opacity="0.72"/>
<circle cx="437.2" cy="390.0" r="1.50" fill="#2a2a2a" fill-opacity="0.57"/>
<circle cx="399.1" cy="398.9" r="1.88" fill="#2a2a2a" fill-opacity="0.68"/>
<circle cx="394.3" cy="409.1" r="1.08" fill="#2a2a2a" fill-opacity="0.51"/>
<circle cx="424.1" cy="415.8" r="1.02" fill="#2a2a2a" fill-opacity="0.77"/>
<circle cx="350.6" cy="392.9" r="1.06" fill="#2a2a2a" fill-opacity="0.50"/>
<circle cx="365.3" cy="406.6" r="0.76" fill="#2a2a2a" fill-opacity="0.47"/>
<circle cx="352.9" cy="426.3" r="0.67" fill="#2a2a2a" fill-opacity="0.40"/>
<circle cx="369.6" cy="375.3" r="1.55" fill="#2a2a2a" fill-opacity="0.43"/>
<circle cx="375.4" cy="364.0" r="0.81" fill="#2a2a2a" fill-opacity="0.44"/>
<circle cx="381.9" cy="409.7" r="1.70" fill="#2a2a2a" fill-opacity="0.73"/>
<circle cx="352.6" cy="384.1" r="1.51" fill="#2a2a2a" fill-opacity="0.36"/>
<circle cx="368.4" cy="392.1" r="0.70" fill="#2a2a2a" fill-opacity="0.69"/>
<circle cx="417.8" cy="390.3" r="0.59" fill="#2a2a2a" fill-opacity="0.45"/>
<circle cx="374.4" cy="361.7" r="1.12" fill="#2a2a2a" fill-opacity="0.42"/>
<circle cx="434.2" cy="403.3" r="0.50" fill="#2a2a2a" fill-opacity="0.57"/>
<circle cx="406.8" cy="360.0" r="0.83" fill="#2a2a2a" fill-opacity="0.36"/>
<circle cx="422.4" cy="357.3" r="1.06" fill="#2a2a2a" fill-opacity="0.79"/>
<circle cx="430.1" cy="373.7" r="0.90" fill="#2a2a2a" fill-opacity="0.41"/>
<circle cx="381.7" cy="418.9" r="1.44" fill="#2a2a2a" fill-opacity="0.35"/>
<circle cx="385.3" cy="402.9" r="0.54" fill="#2a2a2a" fill-opacity="0.71"/>
<circle cx="434.5" cy="396.5" r="0.68" fill="#2a2a2a" fill-opacity="0.73"/>
<circle cx="398.1" cy="370.5" r="0.61" fill="#2a2a2a" fill-opacity="0.42"/>
<circle cx="429.3" cy="393.6" r="1.18" fill="#2a2a2a" fill-opacity="0.72"/>
<circle cx="442.3" cy="370.7" r="0.73" fill="#2a2a2a" fill-opacity="0.74"/>
<circle cx="421.9" cy="384.7" r="1.10" fill="#2a2a2a" fill-opacity="0.44"/>
<circle cx="364.4" cy="360.6" r="0.70" fill="#2a2a2a" fill-opacity="0.46"/>
<circle cx="398.5" cy="426.5" r="0.53" fill="#2a2a2a" fill-opacity="0.60"/>
<circle cx="431.8" cy="399.9" r="0.89" fill="#2a2a2a" fill-opacity="0.70"/>
<circle cx="351.0" cy="425.0" r="1.16" fill="#2a2a2a" fill-opacity="0.71"/>
<circle cx="428.0" cy="364.1" r="0.51" fill="#2a2a2a" fill-opacity="0.43"/>
<circle cx="397.3" cy="424.3" r="1.66" fill="#2a2a2a" fill-opacity="0.54"/>
<circle cx="408.6" cy="410.0" r="0.65" fill="#2a2a2a" fill-opacity="0.79"/>
<circle cx="439.2" cy="409.1" r="1.64" fill="#2a2a2a" fill-opacity="0.71"/>
<circle cx="411.4" cy="380.0" r="0.61" fill="#2a2a2a" fill-opacity="0.46"/>
<circle cx="354.4" cy="423.4" r="0.62" fill="#2a2a2a" fill-opacity="0.36"/>
<circle cx="379.2" cy="364.4" r="0.78" fill="#2a2a2a" fill-opacity="0.50"/>
<circle cx="365.7" cy="391.2" r="0.74" fill="#2a2a2a" fill-opacity="0.51"/>
<circle cx="426.9" cy="379.0" r="0.91" fill="#2a2a2a" fill-opacity="0.75"/>
<circle cx="440.9" cy="383.9" r="0.50" fill="#2a2a2a" fill-opacity="0.78"/>
<circle cx="398.2" cy="372.6" r="0.52" fill="#2a2a2a" fill-opacity="0.46"/>
<circle cx="378.7" cy="366.9" r="0.50" fill="#2a2a2a" fill-opacity="0.80"/>
<circle cx="427.6" cy="365.1" r="0.82" fill="#2a2a2a" fill-opacity="0.71"/>
<circle cx="397.3" cy="362.0" r="0.66" fill="#2a2a2a" fill-opacity="0.52"/>
<circle cx="436.6" cy="398.8" r="0.79" fill="#2a2a2a" fill-opacity="0.63"/>
<circle cx="353.6" cy="406.2" r="1.41" fill="#2a2a2a" fill-opacity="0.65"/>
<circle cx="383.5" cy="377.5" r="0.50" fill="#2a2a2a" fill-opacity="0.39"/>
<circle cx="363.7" cy="389.5" r="1.35" fill="#2a2a2a" fill-opacity="0.45"/>
<circle cx="394.2" cy="402.6" r="1.05" fill="#2a2a2a" fill-opacity="0.36"/>
<circle cx="437.2" cy="399.0" r="0.63" fill="#2a2a2a" fill-opacity="0.46"/>
<circle cx="415.0" cy="423.9" r="0.66" fill="#2a2a2a" fill-opacity="0.53"/>
<circle cx="402.3" cy="369.5" r="0.73" fill="#2a2a2a" fill-opacity="0.76"/>
<circle cx="402.3" cy="416.0" r="0.60" fill="#2a2a2a" fill-opacity="0.74"/>
<circle cx="424.0" cy="373.2" r="0.89" fill="#2a2a2a" fill-opacity="0.66"/>
<circle cx="403.8" cy="400.2" r="0.58" fill="#2a2a2a" fill-opacity="0.60"/>
<circle cx="382.9" cy="414.2" r="0.69" fill="#2a2a2a" fill-opacity="0.79"/>
<circle cx="404.6" cy="373.3" r="0.74" fill="#2a2a2a" fill-opacity="0.41"/>
<circle cx="419.5" cy="360.3" r="1.01" fill="#2a2a2a" fill-opacity="0.49"/>
<circle cx="423.4" cy="366.1" r="1.15" fill="#2a2a2a" fill-opacity="0.67"/>
<circle cx="371.3" cy="366.3" r="0.69" fill="#2a2a2a" fill-opacity="0.64"/>
<circle cx="373.9" cy="357.6" r="0.77" fill="#2a2a2a" fill-opacity="0.71"/>
<circle cx="364.0" cy="424.4" r="0.86" fill="#2a2a2a" fill-opacity="0.42"/>
<circle cx="358.5" cy="383.6" r="0.82" fill="#2a2a2a" fill-opacity="0.43"/>
<circle cx="357.0" cy="392.9" r="0.59" fill="#2a2a2a" fill-opacity="0.55"/>
<circle cx="392.1" cy="407.0" r="0.97" fill="#2a2a2a" fill-opacity="0.45"/>
<circle cx="366.1" cy="418.6" r="0.50" fill="#2a2a2a" fill-opacity="0.41"/>
<circle cx="355.6" cy="416.2" r="0.91" fill="#2a2a2a" fill-opacity="0.77"/>
<circle cx="409.0" cy="381.0" r="0.76" fill="#2a2a2a" fill-opacity="0.68"/>
<circle cx="371.1" cy="414.6" r="0.73" fill="#2a2a2a" fill-opacity="0.37"/>
<circle cx="381.9" cy="397.2" r="0.53" fill="#2a2a2a" fill-opacity="0.76"/>
<circle cx="437.7" cy="393.7" r="1.65" fill="#2a2a2a" fill-opacity="0.66"/>
<circle cx="400.5" cy="368.3" r="1.77" fill="#2a2a2a" fill-opacity="0.76"/>
<circle cx="392.2" cy="384.6" r="0.51" fill="#2a2a2a" fill-opacity="0.63"/>
<circle cx="430.9" cy="384.9" r="0.62" fill="#2a2a2a" fill-opacity="0.63"/>
<circle cx="425.0" cy="369.2" r="0.61" fill="#2a2a2a" fill-opacity="0.64"/>
<circle cx="352.9" cy="415.6" r="0.64" fill="#2a2a2a" fill-opacity="0.72"/>
<circle cx="392.5" cy="368.9" r="0.50" fill="#2a2a2a" fill-opacity="0.40"/>
<circle cx="373.9" cy="411.3" r="1.38" fill="#2a2a2a" fill-opacity="0.63"/>
<circle cx="378.4" cy="404.6" r="1.25" fill="#2a2a2a" fill-opacity="0.52"/>
<circle cx="356.7" cy="390.6" r="0.57" fill="#2a2a2a" fill-opacity="0.43"/>
<circle cx="386.4" cy="362.4" r="1.63" fill="#2a2a2a" fill-opacity="0.48"/>
<circle cx="435.1" cy="409.9" r="0.50" fill="#2a2a2a" fill-opacity="0.75"/>
<circle cx="426.5" cy="394.7" r="1.59" fill="#2a2a2a" fill-opacity="0.57"/>
<circle cx="351.3" cy="367.8" r="0.64" fill="#2a2a2a" fill-opacity="0.74"/>
<circle cx="428.4" cy="365.5" r="0.67" fill="#2a2a2a" fill-opacity="0.40"/>
<circle cx="370.8" cy="382.2" r="0.74" fill="#2a2a2a" fill-opacity="0.42"/>
<circle cx="412.0" cy="374.4" r="1.61" fill="#2a2a2a" fill-opacity="0.57"/>
<circle cx="390.1" cy="411.9" r="0.67" fill="#2a2a2a" fill-opacity="0.47"/>
<circle cx="360.7" cy="378.1" r="0.58" fill="#2a2a2a" fill-opacity="0.68"/>
<circle cx="382.9" cy="407.7" r="0.61" fill="#2a2a2a" fill-opacity="0.38"/>
<ellipse cx="378.1" cy="385.2" rx="2.65" ry="1.80" transform="rotate(38 378.1 385.2)" fill="#262626" fill-opacity="0.56"/>
<ellipse cx="373.2" cy="425.9" rx="2.68" ry="1.85" transform="rotate(9 373.2 425.9)" fill="#262626" fill-opacity="0.69"/>
<ellipse cx="405.0" cy="365.0" rx="1.81" ry="1.64" transform="rotate(0 405.0 365.0)" fill="#262626" fill-opacity="0.79"/>
<ellipse cx="414.6" cy="413.4" rx="1.93" ry="1.51" transform="rotate(93 414.6 413.4)" fill="#262626" fill-opacity="0.55"/>
<ellipse cx="398.2" cy="374.2" rx="1.65" ry="1.02" transform="rotate(29 398.2 374.2)" fill="#262626" fill-opacity="0.52"/>
<ellipse cx="400.8" cy="373.9" rx="2.04" ry="1.64" transform="rotate(42 400.8 373.9)" fill="#262626" fill-opacity="0.55"/>
<ellipse cx="406.1" cy="405.5" rx="2.27" ry="1.83" transform="rotate(104 406.1 405.5)" fill="#262626" fill-opacity="0.51"/>
<ellipse cx="378.3" cy="414.4" rx="1.74" ry="1.12" transform="rotate(76 378.3 414.4)" fill="#262626" fill-opacity="0.83"/>
<ellipse cx="358.3" cy="365.0" rx="1.95" ry="1.85" transform="rotate(70 358.3 365.0)" fill="#262626" fill-opacity="0.60"/>
<ellipse cx="422.5" cy="363.8" rx="1.60" ry="1.34" transform="rotate(153 422.5 363.8)" fill="#262626" fill-opacity="0.84"/>
<ellipse cx="380.1" cy="376.1" rx="1.72" ry="1.11" transform="rotate(49 380.1 376.1)" fill="#262626" fill-opacity="0.81"/>
<ellipse cx="442.8" cy="376.4" rx="1.22" ry="1.10" transform="rotate(174 442.8 376.4)" fill="#262626" fill-opacity="0.82"/>
<ellipse cx="388.5" cy="410.3" rx="2.39" ry="2.15" transform="rotate(89 388.5 410.3)" fill="#262626" fill-opacity="0.90"/>
<ellipse cx="423.8" cy="373.9" rx="1.83" ry="1.16" transform="rotate(67 423.8 373.9)" fill="#262626" fill-opacity="0.83"/>
<ellipse cx="395.5" cy="394.6" rx="2.42" ry="1.54" transform="rotate(64 395.5 394.6)" fill="#262626" fill-opacity="0.69"/>
<ellipse cx="396.3" cy="406.1" rx="2.69" ry="2.48" transform="rotate(98 396.3 406.1)" fill="#262626" fill-opacity="0.77"/>
<ellipse cx="400.5" cy="427.7" rx="2.11" ry="1.77" transform="rotate(71 400.5 427.7)" fill="#262626" fill-opacity="0.67"/>
<ellipse cx="422.2" cy="383.7" rx="2.64" ry="2.35" transform="rotate(172 422.2 383.7)" fill="#262626" fill-opacity="0.78"/>
<ellipse cx="403.6" cy="383.3" rx="1.13" ry="0.98" transform="rotate(135 403.6 383.3)" fill="#262626" fill-opacity="0.79"/>
<ellipse cx="421.7" cy="359.6" rx="2.26" ry="1.61" transform="rotate(70 421.7 359.6)" fill="#262626" fill-opacity="0.85"/>
<ellipse cx="387.7" cy="390.5" rx="1.19" ry="0.80" transform="rotate(38 387.7 390.5)" fill="#262626" fill-opacity="0.59"/>
<ellipse cx="399.0" cy="360.4" rx="1.25" ry="0.79" transform="rotate(132 399.0 360.4)" fill="#262626" fill-opacity="0.89"/>
<ellipse cx="420.8" cy="393.9" rx="1.32" ry="1.21" transform="rotate(23 420.8 393.9)" fill="#262626" fill-opacity="0.53"/>
<ellipse cx="398.0" cy="418.8" rx="1.63" ry="1.54" transform="rotate(60 398.0 418.8)" fill="#262626" fill-opacity="0.89"/>
<ellipse cx="419.7" cy="419.0" rx="2.77" ry="2.57" transform="rotate(35 419.7 419.0)" fill="#262626" fill-opacity="0.71"/>
<ellipse cx="401.1" cy="408.8" rx="1.49" ry="1.24" transform="rotate(51 401.1 408.8)" fill="#262626" fill-opacity="0.57"/>
<ellipse cx="392.0" cy="414.6" rx="2.04" ry="1.51" transform="rotate(41 392.0 414.6)" fill="#262626" fill-opacity="0.64"/>
<ellipse cx="387.2" cy="376.5" rx="1.63" ry="1.13" transform="rotate(53 387.2 376.5)" fill="#262626" fill-opacity="0.77"/>
</g>
<g filter="url(#bl)">
<circle cx="393.2" cy="376.3" r="8.2" fill="#5a5a5a" fill-opacity="0.25" stroke="#2a2a2a" stroke-opacity="0.8" stroke-width="1.5"/>
<circle cx="394.8" cy="377.5" r="2.0" fill="#333" fill-opacity="0.35"/>
<circle cx="399.1" cy="395.7" r="8.2" fill="#5a5a5a" fill-opacity="0.25" stroke="#2a2a2a" stroke-opacity="0.8" stroke-width="1.5"/>
<circle cx="400.7" cy="396.9" r="2.0" fill="#333" fill-opacity="0.35"/>
<circle cx="376.8" cy="400.2" r="7.1" fill="#5a5a5a" fill-opacity="0.25" stroke="#2a2a2a" stroke-opacity="0.8" stroke-width="1.2"/>
<circle cx="378.2" cy="401.3" r="1.8" fill="#333" fill-opacity="0.35"/>
<circle cx="355.2" cy="389" r="6" fill="#5a5a5a" fill-opacity="0.25" stroke="#2a2a2a" stroke-opacity="0.8" stroke-width="1.2"/>
<circle cx="356.4" cy="389.9" r="1.5" fill="#333" fill-opacity="0.35"/>
<circle cx="365.6" cy="390.5" r="3.7" fill="#5a5a5a" fill-opacity="0.25" stroke="#2a2a2a" stroke-opacity="0.8" stroke-width="1.2"/>
<circle cx="366.3" cy="391.1" r="0.9" fill="#333" fill-opacity="0.35"/>
<circle cx="396.9" cy="424.7" r="3.7" fill="#5a5a5a" fill-opacity="0.25" stroke="#2a2a2a" stroke-opacity="0.8" stroke-width="1.2"/>
<circle cx="397.6" cy="425.3" r="0.9" fill="#333" fill-opacity="0.35"/>
<circle cx="442.3" cy="363" r="6" fill="#5a5a5a" fill-opacity="0.25" stroke="#2a2a2a" stroke-opacity="0.8" stroke-width="1.2"/>
<circle cx="443.5" cy="363.9" r="1.5" fill="#333" fill-opacity="0.35"/>
<ellipse cx="369" cy="383" rx="4.54" ry="3.86" fill="#1e1e1e" fill-opacity="0.85"/>
<ellipse cx="393.5" cy="389.7" rx="3.56" ry="3.04" fill="#1e1e1e" fill-opacity="0.85"/>
<ellipse cx="414" cy="397.9" rx="4.54" ry="3.86" fill="#1e1e1e" fill-opacity="0.85"/>
<ellipse cx="382" cy="370.4" rx="4.00" ry="3.40" fill="#1e1e1e" fill-opacity="0.85"/>
<ellipse cx="407" cy="374" rx="2.70" ry="2.30" fill="#1e1e1e" fill-opacity="0.85"/>
<ellipse cx="420" cy="389" rx="2.70" ry="2.30" fill="#1e1e1e" fill-opacity="0.85"/>
<ellipse cx="428" cy="392" rx="2.16" ry="1.84" fill="#1e1e1e" fill-opacity="0.85"/>
<ellipse cx="437" cy="386" rx="2.16" ry="1.84" fill="#1e1e1e" fill-opacity="0.85"/>
<ellipse cx="418" cy="372" rx="2.16" ry="1.84" fill="#1e1e1e" fill-opacity="0.85"/>
<ellipse cx="427" cy="378" rx="2.16" ry="1.84" fill="#1e1e1e" fill-opacity="0.85"/>
<ellipse cx="432" cy="404" rx="2.16" ry="1.84" fill="#1e1e1e" fill-opacity="0.85"/>
<ellipse cx="412" cy="414" rx="2.16" ry="1.84" fill="#1e1e1e" fill-opacity="0.85"/>
<ellipse cx="404" cy="418" rx="2.16" ry="1.84" fill="#1e1e1e" fill-opacity="0.85"/>
<ellipse cx="424" cy="418" rx="2.16" ry="1.84" fill="#1e1e1e" fill-opacity="0.85"/>
<ellipse cx="385" cy="419" rx="2.16" ry="1.84" fill="#1e1e1e" fill-opacity="0.85"/>
<ellipse cx="362" cy="420" rx="2.16" ry="1.84" fill="#1e1e1e" fill-opacity="0.85"/>
<ellipse cx="438" cy="415" rx="2.16" ry="1.84" fill="#1e1e1e" fill-opacity="0.85"/>
<ellipse cx="405" cy="360" rx="2.16" ry="1.84" fill="#1e1e1e" fill-opacity="0.85"/>
<ellipse cx="420" cy="362" rx="2.16" ry="1.84" fill="#1e1e1e" fill-opacity="0.85"/>
<ellipse cx="360" cy="410" rx="2.70" ry="2.30" fill="#1e1e1e" fill-opacity="0.85"/>
</g>
<line x1="428.79999999999995" y1="425.5" x2="440.79999999999995" y2="425.5" stroke="#f0f0f0" stroke-width="1"/>
</g>
<text x="396.6" y="353.5" font-size="11.3" text-anchor="middle" font-weight="normal" fill="#000" >OGN</text>
<radialGradient id="g4" cx="0.5" cy="0.5" r="0.74"><stop offset="0" stop-color="#b2b2b2"/><stop offset="0.35" stop-color="#a2a2a2"/><stop offset="0.62" stop-color="#828282"/><stop offset="0.85" stop-color="#575757"/><stop offset="1" stop-color="#333333"/></radialGradient>
<clipPath id="c4"><rect x="468.2" y="357.4" width="95.9" height="72"/></clipPath>
<g clip-path="url(#c4)">
<g style="isolation:isolate">
<rect x="468.2" y="357.4" width="95.9" height="72" fill="url(#g4)"/>
<rect x="468.2" y="357.4" width="95.9" height="72" filter="url(#nz)" style="mix-blend-mode:overlay" opacity="0.22"/>
</g>
<g filter="url(#bl2)">
<circle cx="520.8" cy="382.3" r="1.50" fill="#2a2a2a" fill-opacity="0.48"/>
<circle cx="517.1" cy="382.2" r="0.74" fill="#2a2a2a" fill-opacity="0.79"/>
<circle cx="478.1" cy="389.4" r="0.57" fill="#2a2a2a" fill-opacity="0.51"/>
<circle cx="564.0" cy="381.1" r="1.02" fill="#2a2a2a" fill-opacity="0.54"/>
<circle cx="538.3" cy="389.6" r="0.54" fill="#2a2a2a" fill-opacity="0.55"/>
<circle cx="507.3" cy="414.5" r="0.94" fill="#2a2a2a" fill-opacity="0.44"/>
<circle cx="532.8" cy="378.9" r="0.87" fill="#2a2a2a" fill-opacity="0.45"/>
<circle cx="507.6" cy="414.0" r="0.87" fill="#2a2a2a" fill-opacity="0.69"/>
<circle cx="540.8" cy="399.7" r="1.08" fill="#2a2a2a" fill-opacity="0.53"/>
<circle cx="527.5" cy="413.4" r="0.51" fill="#2a2a2a" fill-opacity="0.77"/>
<circle cx="503.4" cy="367.4" r="0.53" fill="#2a2a2a" fill-opacity="0.50"/>
<circle cx="474.8" cy="386.0" r="0.74" fill="#2a2a2a" fill-opacity="0.64"/>
<circle cx="512.9" cy="424.7" r="1.11" fill="#2a2a2a" fill-opacity="0.49"/>
<circle cx="552.1" cy="407.7" r="1.81" fill="#2a2a2a" fill-opacity="0.68"/>
<circle cx="560.8" cy="372.2" r="0.61" fill="#2a2a2a" fill-opacity="0.79"/>
<circle cx="470.3" cy="423.9" r="1.66" fill="#2a2a2a" fill-opacity="0.41"/>
<circle cx="482.7" cy="423.3" r="1.79" fill="#2a2a2a" fill-opacity="0.74"/>
<circle cx="537.7" cy="412.1" r="0.63" fill="#2a2a2a" fill-opacity="0.35"/>
<circle cx="528.4" cy="420.9" r="1.76" fill="#2a2a2a" fill-opacity="0.58"/>
<circle cx="469.0" cy="370.0" r="0.78" fill="#2a2a2a" fill-opacity="0.45"/>
<circle cx="470.9" cy="371.3" r="0.85" fill="#2a2a2a" fill-opacity="0.41"/>
<circle cx="479.0" cy="369.3" r="0.50" fill="#2a2a2a" fill-opacity="0.70"/>
<circle cx="551.2" cy="371.9" r="1.06" fill="#2a2a2a" fill-opacity="0.74"/>
<circle cx="491.6" cy="381.4" r="1.59" fill="#2a2a2a" fill-opacity="0.69"/>
<circle cx="527.8" cy="414.6" r="0.96" fill="#2a2a2a" fill-opacity="0.49"/>
<circle cx="533.9" cy="413.8" r="0.50" fill="#2a2a2a" fill-opacity="0.49"/>
<circle cx="496.4" cy="421.2" r="0.62" fill="#2a2a2a" fill-opacity="0.65"/>
<circle cx="509.9" cy="384.6" r="0.85" fill="#2a2a2a" fill-opacity="0.75"/>
<circle cx="531.3" cy="385.4" r="0.53" fill="#2a2a2a" fill-opacity="0.50"/>
<circle cx="513.4" cy="403.9" r="1.90" fill="#2a2a2a" fill-opacity="0.50"/>
<circle cx="558.4" cy="423.0" r="0.77" fill="#2a2a2a" fill-opacity="0.45"/>
<circle cx="490.6" cy="423.7" r="0.54" fill="#2a2a2a" fill-opacity="0.64"/>
<circle cx="530.8" cy="369.4" r="0.50" fill="#2a2a2a" fill-opacity="0.64"/>
<circle cx="473.3" cy="396.9" r="1.82" fill="#2a2a2a" fill-opacity="0.56"/>
<circle cx="498.1" cy="365.0" r="0.63" fill="#2a2a2a" fill-opacity="0.49"/>
<circle cx="479.4" cy="408.0" r="1.01" fill="#2a2a2a" fill-opacity="0.67"/>
<circle cx="478.5" cy="375.4" r="1.70" fill="#2a2a2a" fill-opacity="0.35"/>
<circle cx="503.7" cy="416.3" r="0.57" fill="#2a2a2a" fill-opacity="0.45"/>
<circle cx="529.3" cy="375.5" r="0.66" fill="#2a2a2a" fill-opacity="0.53"/>
<circle cx="496.8" cy="404.9" r="1.26" fill="#2a2a2a" fill-opacity="0.69"/>
<circle cx="562.2" cy="362.6" r="0.59" fill="#2a2a2a" fill-opacity="0.79"/>
<circle cx="544.7" cy="412.2" r="0.57" fill="#2a2a2a" fill-opacity="0.41"/>
<circle cx="494.6" cy="421.7" r="1.29" fill="#2a2a2a" fill-opacity="0.52"/>
<circle cx="531.4" cy="410.3" r="0.62" fill="#2a2a2a" fill-opacity="0.40"/>
<circle cx="546.0" cy="408.4" r="1.41" fill="#2a2a2a" fill-opacity="0.68"/>
<circle cx="503.2" cy="404.5" r="0.69" fill="#2a2a2a" fill-opacity="0.76"/>
<circle cx="480.1" cy="407.6" r="0.67" fill="#2a2a2a" fill-opacity="0.76"/>
<circle cx="545.3" cy="370.0" r="0.50" fill="#2a2a2a" fill-opacity="0.46"/>
<circle cx="560.4" cy="412.7" r="1.20" fill="#2a2a2a" fill-opacity="0.44"/>
<circle cx="488.6" cy="389.5" r="0.90" fill="#2a2a2a" fill-opacity="0.63"/>
<circle cx="473.9" cy="418.1" r="0.58" fill="#2a2a2a" fill-opacity="0.67"/>
<circle cx="498.6" cy="378.7" r="1.56" fill="#2a2a2a" fill-opacity="0.45"/>
<circle cx="516.5" cy="420.4" r="1.46" fill="#2a2a2a" fill-opacity="0.67"/>
<circle cx="491.5" cy="402.6" r="0.81" fill="#2a2a2a" fill-opacity="0.49"/>
<circle cx="542.2" cy="406.0" r="1.62" fill="#2a2a2a" fill-opacity="0.54"/>
<circle cx="482.0" cy="376.9" r="1.27" fill="#2a2a2a" fill-opacity="0.67"/>
<circle cx="529.9" cy="386.0" r="0.97" fill="#2a2a2a" fill-opacity="0.38"/>
<circle cx="476.9" cy="415.4" r="0.52" fill="#2a2a2a" fill-opacity="0.63"/>
<circle cx="496.9" cy="369.8" r="1.36" fill="#2a2a2a" fill-opacity="0.75"/>
<circle cx="498.6" cy="368.3" r="0.80" fill="#2a2a2a" fill-opacity="0.40"/>
<circle cx="560.3" cy="359.1" r="0.86" fill="#2a2a2a" fill-opacity="0.42"/>
<circle cx="468.4" cy="429.2" r="1.15" fill="#2a2a2a" fill-opacity="0.67"/>
<circle cx="542.0" cy="414.1" r="1.02" fill="#2a2a2a" fill-opacity="0.65"/>
<circle cx="498.5" cy="364.8" r="1.24" fill="#2a2a2a" fill-opacity="0.68"/>
<circle cx="539.0" cy="404.0" r="0.51" fill="#2a2a2a" fill-opacity="0.64"/>
<circle cx="476.4" cy="420.1" r="0.50" fill="#2a2a2a" fill-opacity="0.47"/>
<circle cx="519.4" cy="420.0" r="1.11" fill="#2a2a2a" fill-opacity="0.41"/>
<circle cx="537.7" cy="372.4" r="0.66" fill="#2a2a2a" fill-opacity="0.51"/>
<circle cx="544.8" cy="372.4" r="0.65" fill="#2a2a2a" fill-opacity="0.48"/>
<circle cx="491.4" cy="372.9" r="0.71" fill="#2a2a2a" fill-opacity="0.43"/>
<circle cx="493.0" cy="366.0" r="0.97" fill="#2a2a2a" fill-opacity="0.66"/>
<circle cx="490.9" cy="389.6" r="1.01" fill="#2a2a2a" fill-opacity="0.79"/>
<circle cx="560.9" cy="365.4" r="1.75" fill="#2a2a2a" fill-opacity="0.71"/>
<circle cx="489.8" cy="371.7" r="0.85" fill="#2a2a2a" fill-opacity="0.48"/>
<circle cx="498.1" cy="386.7" r="0.91" fill="#2a2a2a" fill-opacity="0.59"/>
<circle cx="471.6" cy="388.0" r="0.57" fill="#2a2a2a" fill-opacity="0.76"/>
<circle cx="482.0" cy="366.9" r="0.68" fill="#2a2a2a" fill-opacity="0.46"/>
<circle cx="547.2" cy="360.2" r="1.71" fill="#2a2a2a" fill-opacity="0.62"/>
<circle cx="539.1" cy="376.0" r="0.87" fill="#2a2a2a" fill-opacity="0.45"/>
<circle cx="541.1" cy="396.4" r="0.59" fill="#2a2a2a" fill-opacity="0.49"/>
<circle cx="469.8" cy="363.6" r="0.99" fill="#2a2a2a" fill-opacity="0.80"/>
<circle cx="554.6" cy="381.4" r="0.67" fill="#2a2a2a" fill-opacity="0.64"/>
<circle cx="515.0" cy="414.4" r="0.56" fill="#2a2a2a" fill-opacity="0.52"/>
<circle cx="558.5" cy="378.0" r="1.16" fill="#2a2a2a" fill-opacity="0.55"/>
<circle cx="515.8" cy="417.4" r="1.82" fill="#2a2a2a" fill-opacity="0.61"/>
<circle cx="563.3" cy="376.7" r="0.65" fill="#2a2a2a" fill-opacity="0.51"/>
<circle cx="500.8" cy="428.5" r="0.53" fill="#2a2a2a" fill-opacity="0.73"/>
<circle cx="536.8" cy="401.4" r="0.83" fill="#2a2a2a" fill-opacity="0.73"/>
<circle cx="470.7" cy="424.5" r="0.69" fill="#2a2a2a" fill-opacity="0.46"/>
<circle cx="468.2" cy="414.5" r="0.50" fill="#2a2a2a" fill-opacity="0.72"/>
<circle cx="490.2" cy="427.8" r="1.02" fill="#2a2a2a" fill-opacity="0.79"/>
<circle cx="472.8" cy="381.9" r="1.90" fill="#2a2a2a" fill-opacity="0.37"/>
<circle cx="497.3" cy="383.2" r="0.82" fill="#2a2a2a" fill-opacity="0.65"/>
<circle cx="504.9" cy="383.8" r="0.66" fill="#2a2a2a" fill-opacity="0.52"/>
<circle cx="534.2" cy="421.3" r="0.92" fill="#2a2a2a" fill-opacity="0.48"/>
<circle cx="560.9" cy="377.9" r="1.18" fill="#2a2a2a" fill-opacity="0.68"/>
<circle cx="517.0" cy="377.0" r="0.65" fill="#2a2a2a" fill-opacity="0.68"/>
<circle cx="560.9" cy="423.6" r="0.78" fill="#2a2a2a" fill-opacity="0.64"/>
<circle cx="512.7" cy="376.0" r="1.49" fill="#2a2a2a" fill-opacity="0.63"/>
<circle cx="499.8" cy="367.5" r="1.16" fill="#2a2a2a" fill-opacity="0.36"/>
<circle cx="542.6" cy="360.8" r="1.59" fill="#2a2a2a" fill-opacity="0.38"/>
<circle cx="472.5" cy="422.5" r="1.11" fill="#2a2a2a" fill-opacity="0.56"/>
<circle cx="491.5" cy="409.5" r="0.53" fill="#2a2a2a" fill-opacity="0.77"/>
<circle cx="542.6" cy="412.8" r="1.85" fill="#2a2a2a" fill-opacity="0.79"/>
<circle cx="553.2" cy="358.5" r="0.67" fill="#2a2a2a" fill-opacity="0.40"/>
<circle cx="508.6" cy="418.9" r="1.46" fill="#2a2a2a" fill-opacity="0.61"/>
<circle cx="499.2" cy="361.6" r="1.12" fill="#2a2a2a" fill-opacity="0.49"/>
<circle cx="508.3" cy="359.9" r="1.46" fill="#2a2a2a" fill-opacity="0.42"/>
<circle cx="487.0" cy="390.2" r="0.52" fill="#2a2a2a" fill-opacity="0.52"/>
<circle cx="554.2" cy="394.6" r="0.50" fill="#2a2a2a" fill-opacity="0.58"/>
<ellipse cx="536.0" cy="422.9" rx="2.23" ry="2.22" transform="rotate(135 536.0 422.9)" fill="#262626" fill-opacity="0.72"/>
<ellipse cx="542.5" cy="425.2" rx="2.63" ry="1.78" transform="rotate(166 542.5 425.2)" fill="#262626" fill-opacity="0.72"/>
<ellipse cx="540.7" cy="407.4" rx="1.36" ry="1.11" transform="rotate(4 540.7 407.4)" fill="#262626" fill-opacity="0.70"/>
<ellipse cx="488.4" cy="361.7" rx="2.02" ry="1.65" transform="rotate(10 488.4 361.7)" fill="#262626" fill-opacity="0.77"/>
<ellipse cx="559.9" cy="398.0" rx="1.65" ry="1.31" transform="rotate(66 559.9 398.0)" fill="#262626" fill-opacity="0.71"/>
<ellipse cx="539.6" cy="411.5" rx="1.53" ry="1.51" transform="rotate(177 539.6 411.5)" fill="#262626" fill-opacity="0.67"/>
<ellipse cx="509.5" cy="381.0" rx="1.15" ry="1.01" transform="rotate(128 509.5 381.0)" fill="#262626" fill-opacity="0.67"/>
<ellipse cx="494.1" cy="403.0" rx="1.16" ry="0.92" transform="rotate(48 494.1 403.0)" fill="#262626" fill-opacity="0.58"/>
<ellipse cx="544.5" cy="420.7" rx="1.67" ry="1.51" transform="rotate(26 544.5 420.7)" fill="#262626" fill-opacity="0.85"/>
<ellipse cx="523.4" cy="421.2" rx="2.72" ry="2.11" transform="rotate(103 523.4 421.2)" fill="#262626" fill-opacity="0.85"/>
<ellipse cx="525.4" cy="410.9" rx="1.65" ry="1.23" transform="rotate(75 525.4 410.9)" fill="#262626" fill-opacity="0.62"/>
<ellipse cx="473.8" cy="386.4" rx="1.22" ry="1.10" transform="rotate(2 473.8 386.4)" fill="#262626" fill-opacity="0.74"/>
<ellipse cx="478.4" cy="379.7" rx="2.17" ry="1.75" transform="rotate(156 478.4 379.7)" fill="#262626" fill-opacity="0.61"/>
<ellipse cx="475.9" cy="402.0" rx="2.06" ry="1.30" transform="rotate(40 475.9 402.0)" fill="#262626" fill-opacity="0.65"/>
<ellipse cx="524.4" cy="384.0" rx="1.44" ry="1.26" transform="rotate(112 524.4 384.0)" fill="#262626" fill-opacity="0.76"/>
<ellipse cx="538.7" cy="376.2" rx="1.78" ry="1.27" transform="rotate(129 538.7 376.2)" fill="#262626" fill-opacity="0.52"/>
<ellipse cx="515.5" cy="368.1" rx="1.51" ry="1.14" transform="rotate(108 515.5 368.1)" fill="#262626" fill-opacity="0.79"/>
<ellipse cx="527.8" cy="376.5" rx="2.22" ry="1.36" transform="rotate(35 527.8 376.5)" fill="#262626" fill-opacity="0.87"/>
<ellipse cx="468.3" cy="371.7" rx="1.10" ry="0.86" transform="rotate(109 468.3 371.7)" fill="#262626" fill-opacity="0.87"/>
<ellipse cx="487.0" cy="405.5" rx="1.18" ry="0.79" transform="rotate(39 487.0 405.5)" fill="#262626" fill-opacity="0.65"/>
<ellipse cx="532.1" cy="383.4" rx="1.28" ry="1.16" transform="rotate(131 532.1 383.4)" fill="#262626" fill-opacity="0.66"/>
<ellipse cx="490.9" cy="406.0" rx="1.69" ry="1.44" transform="rotate(37 490.9 406.0)" fill="#262626" fill-opacity="0.59"/>
<ellipse cx="551.3" cy="360.6" rx="1.53" ry="1.07" transform="rotate(175 551.3 360.6)" fill="#262626" fill-opacity="0.74"/>
<ellipse cx="494.3" cy="387.8" rx="1.83" ry="1.29" transform="rotate(89 494.3 387.8)" fill="#262626" fill-opacity="0.58"/>
<ellipse cx="531.0" cy="385.6" rx="1.79" ry="1.23" transform="rotate(149 531.0 385.6)" fill="#262626" fill-opacity="0.67"/>
<ellipse cx="515.0" cy="402.6" rx="1.69" ry="1.31" transform="rotate(146 515.0 402.6)" fill="#262626" fill-opacity="0.56"/>
<ellipse cx="522.2" cy="405.5" rx="2.24" ry="1.61" transform="rotate(129 522.2 405.5)" fill="#262626" fill-opacity="0.81"/>
<ellipse cx="473.5" cy="425.5" rx="2.54" ry="1.75" transform="rotate(36 473.5 425.5)" fill="#262626" fill-opacity="0.81"/>
</g>
<g filter="url(#bl)">
<circle cx="519.6" cy="378.6" r="8.9" fill="#5a5a5a" fill-opacity="0.25" stroke="#2a2a2a" stroke-opacity="0.8" stroke-width="1.5"/>
<circle cx="521.4" cy="379.9" r="2.2" fill="#333" fill-opacity="0.35"/>
<circle cx="482.1" cy="380.8" r="6.3" fill="#5a5a5a" fill-opacity="0.25" stroke="#2a2a2a" stroke-opacity="0.8" stroke-width="1.2"/>
<circle cx="483.4" cy="381.7" r="1.6" fill="#333" fill-opacity="0.35"/>
<circle cx="498" cy="375.6" r="5.7" fill="#5a5a5a" fill-opacity="0.25" stroke="#2a2a2a" stroke-opacity="0.8" stroke-width="1.2"/>
<circle cx="499.1" cy="376.5" r="1.4" fill="#333" fill-opacity="0.35"/>
<circle cx="496.5" cy="360.7" r="6" fill="#5a5a5a" fill-opacity="0.25" stroke="#2a2a2a" stroke-opacity="0.8" stroke-width="1.2"/>
<circle cx="497.7" cy="361.6" r="1.5" fill="#333" fill-opacity="0.35"/>
<circle cx="480.9" cy="424" r="12.7" fill="#5a5a5a" fill-opacity="0.25" stroke="#2a2a2a" stroke-opacity="0.8" stroke-width="1.5"/>
<circle cx="483.4" cy="425.9" r="3.2" fill="#333" fill-opacity="0.35"/>
<circle cx="555.3" cy="416.5" r="7.4" fill="#5a5a5a" fill-opacity="0.25" stroke="#2a2a2a" stroke-opacity="0.8" stroke-width="1.2"/>
<circle cx="556.8" cy="417.6" r="1.9" fill="#333" fill-opacity="0.35"/>
<circle cx="556.8" cy="401.6" r="5.2" fill="#5a5a5a" fill-opacity="0.25" stroke="#2a2a2a" stroke-opacity="0.8" stroke-width="1.2"/>
<circle cx="557.8" cy="402.4" r="1.3" fill="#333" fill-opacity="0.35"/>
<ellipse cx="502.5" cy="409.1" rx="4.86" ry="4.14" fill="#1e1e1e" fill-opacity="0.85"/>
<ellipse cx="521.8" cy="362.2" rx="3.02" ry="2.58" fill="#1e1e1e" fill-opacity="0.85"/>
<ellipse cx="546.4" cy="361.4" rx="3.24" ry="2.76" fill="#1e1e1e" fill-opacity="0.85"/>
<ellipse cx="543.4" cy="380.8" rx="2.70" ry="2.30" fill="#1e1e1e" fill-opacity="0.85"/>
<ellipse cx="509.2" cy="391.2" rx="2.38" ry="2.02" fill="#1e1e1e" fill-opacity="0.85"/>
<ellipse cx="494.3" cy="392.7" rx="2.38" ry="2.02" fill="#1e1e1e" fill-opacity="0.85"/>
<ellipse cx="485.4" cy="397.2" rx="2.38" ry="2.02" fill="#1e1e1e" fill-opacity="0.85"/>
<ellipse cx="531.5" cy="418.8" rx="2.38" ry="2.02" fill="#1e1e1e" fill-opacity="0.85"/>
<ellipse cx="511.4" cy="386.8" rx="2.16" ry="1.84" fill="#1e1e1e" fill-opacity="0.85"/>
<ellipse cx="482.4" cy="360" rx="2.16" ry="1.84" fill="#1e1e1e" fill-opacity="0.85"/>
</g>
<line x1="548.1" y1="426.2" x2="560.1" y2="426.2" stroke="#f0f0f0" stroke-width="1"/>
</g>
<text x="515.7" y="355.0" font-size="11.3" text-anchor="middle" font-weight="normal" fill="#000" >STC1</text>
<radialGradient id="g5" cx="0.5" cy="0.4" r="0.74"><stop offset="0" stop-color="#b2b2b2"/><stop offset="0.35" stop-color="#a2a2a2"/><stop offset="0.62" stop-color="#828282"/><stop offset="0.85" stop-color="#575757"/><stop offset="1" stop-color="#333333"/></radialGradient>
<clipPath id="c5"><rect x="587.1" y="357" width="96.3" height="71.7"/></clipPath>
<g clip-path="url(#c5)">
<g style="isolation:isolate">
<rect x="587.1" y="357" width="96.3" height="71.7" fill="url(#g5)"/>
<rect x="587.1" y="357" width="96.3" height="71.7" filter="url(#nz)" style="mix-blend-mode:overlay" opacity="0.22"/>
</g>
<g filter="url(#bl2)">
<circle cx="618.8" cy="427.5" r="1.79" fill="#2a2a2a" fill-opacity="0.76"/>
<circle cx="663.2" cy="419.7" r="0.50" fill="#2a2a2a" fill-opacity="0.63"/>
<circle cx="610.9" cy="409.4" r="0.76" fill="#2a2a2a" fill-opacity="0.60"/>
<circle cx="639.4" cy="398.3" r="1.46" fill="#2a2a2a" fill-opacity="0.79"/>
<circle cx="620.4" cy="414.8" r="1.61" fill="#2a2a2a" fill-opacity="0.53"/>
<circle cx="599.0" cy="392.7" r="1.32" fill="#2a2a2a" fill-opacity="0.59"/>
<circle cx="604.9" cy="407.6" r="0.65" fill="#2a2a2a" fill-opacity="0.75"/>
<circle cx="603.3" cy="399.6" r="0.71" fill="#2a2a2a" fill-opacity="0.79"/>
<circle cx="600.4" cy="420.1" r="0.74" fill="#2a2a2a" fill-opacity="0.52"/>
<circle cx="607.1" cy="392.5" r="1.71" fill="#2a2a2a" fill-opacity="0.80"/>
<circle cx="677.6" cy="400.8" r="0.58" fill="#2a2a2a" fill-opacity="0.58"/>
<circle cx="649.7" cy="378.2" r="1.86" fill="#2a2a2a" fill-opacity="0.39"/>
<circle cx="609.7" cy="371.6" r="0.54" fill="#2a2a2a" fill-opacity="0.38"/>
<circle cx="610.2" cy="383.8" r="1.74" fill="#2a2a2a" fill-opacity="0.60"/>
<circle cx="647.3" cy="382.0" r="0.54" fill="#2a2a2a" fill-opacity="0.60"/>
<circle cx="657.2" cy="363.1" r="1.09" fill="#2a2a2a" fill-opacity="0.44"/>
<circle cx="653.5" cy="382.5" r="0.53" fill="#2a2a2a" fill-opacity="0.41"/>
<circle cx="663.4" cy="395.7" r="0.51" fill="#2a2a2a" fill-opacity="0.76"/>
<circle cx="613.7" cy="377.1" r="0.50" fill="#2a2a2a" fill-opacity="0.49"/>
<circle cx="641.0" cy="421.4" r="0.63" fill="#2a2a2a" fill-opacity="0.57"/>
<circle cx="594.8" cy="406.2" r="0.63" fill="#2a2a2a" fill-opacity="0.52"/>
<circle cx="613.2" cy="415.7" r="1.85" fill="#2a2a2a" fill-opacity="0.41"/>
<circle cx="630.5" cy="364.7" r="1.29" fill="#2a2a2a" fill-opacity="0.76"/>
<circle cx="599.2" cy="405.9" r="0.63" fill="#2a2a2a" fill-opacity="0.55"/>
<circle cx="642.2" cy="384.5" r="1.09" fill="#2a2a2a" fill-opacity="0.50"/>
<circle cx="634.9" cy="382.6" r="0.75" fill="#2a2a2a" fill-opacity="0.41"/>
<circle cx="621.6" cy="364.9" r="1.04" fill="#2a2a2a" fill-opacity="0.54"/>
<circle cx="627.4" cy="421.3" r="0.53" fill="#2a2a2a" fill-opacity="0.59"/>
<circle cx="645.8" cy="402.3" r="1.31" fill="#2a2a2a" fill-opacity="0.51"/>
<circle cx="676.2" cy="404.9" r="0.51" fill="#2a2a2a" fill-opacity="0.62"/>
<circle cx="636.9" cy="424.1" r="1.24" fill="#2a2a2a" fill-opacity="0.65"/>
<circle cx="652.4" cy="407.8" r="0.78" fill="#2a2a2a" fill-opacity="0.57"/>
<circle cx="638.2" cy="358.4" r="0.86" fill="#2a2a2a" fill-opacity="0.54"/>
<circle cx="628.3" cy="397.4" r="1.09" fill="#2a2a2a" fill-opacity="0.53"/>
<circle cx="642.4" cy="373.9" r="1.83" fill="#2a2a2a" fill-opacity="0.65"/>
<circle cx="654.5" cy="409.9" r="0.50" fill="#2a2a2a" fill-opacity="0.43"/>
<circle cx="623.6" cy="388.5" r="0.72" fill="#2a2a2a" fill-opacity="0.58"/>
<circle cx="647.5" cy="410.5" r="1.17" fill="#2a2a2a" fill-opacity="0.53"/>
<circle cx="668.8" cy="415.2" r="1.79" fill="#2a2a2a" fill-opacity="0.36"/>
<circle cx="642.7" cy="369.5" r="1.54" fill="#2a2a2a" fill-opacity="0.78"/>
<circle cx="651.5" cy="380.1" r="1.57" fill="#2a2a2a" fill-opacity="0.58"/>
<circle cx="654.1" cy="370.6" r="0.52" fill="#2a2a2a" fill-opacity="0.73"/>
<circle cx="669.8" cy="384.2" r="0.51" fill="#2a2a2a" fill-opacity="0.48"/>
<circle cx="674.8" cy="372.8" r="1.29" fill="#2a2a2a" fill-opacity="0.49"/>
<circle cx="678.0" cy="381.4" r="1.76" fill="#2a2a2a" fill-opacity="0.58"/>
<circle cx="587.9" cy="385.3" r="0.75" fill="#2a2a2a" fill-opacity="0.42"/>
<circle cx="595.3" cy="397.1" r="1.24" fill="#2a2a2a" fill-opacity="0.68"/>
<circle cx="618.5" cy="369.9" r="0.79" fill="#2a2a2a" fill-opacity="0.67"/>
<circle cx="607.6" cy="420.6" r="1.84" fill="#2a2a2a" fill-opacity="0.50"/>
<circle cx="601.1" cy="396.6" r="0.53" fill="#2a2a2a" fill-opacity="0.75"/>
<circle cx="643.9" cy="386.7" r="1.52" fill="#2a2a2a" fill-opacity="0.70"/>
<circle cx="658.6" cy="364.1" r="0.70" fill="#2a2a2a" fill-opacity="0.50"/>
<circle cx="670.0" cy="375.6" r="0.52" fill="#2a2a2a" fill-opacity="0.55"/>
<circle cx="616.5" cy="404.2" r="0.69" fill="#2a2a2a" fill-opacity="0.41"/>
<circle cx="651.4" cy="423.9" r="1.17" fill="#2a2a2a" fill-opacity="0.61"/>
<circle cx="594.0" cy="371.3" r="1.12" fill="#2a2a2a" fill-opacity="0.78"/>
<circle cx="632.9" cy="426.6" r="0.52" fill="#2a2a2a" fill-opacity="0.48"/>
<circle cx="615.2" cy="406.1" r="0.69" fill="#2a2a2a" fill-opacity="0.64"/>
<circle cx="592.4" cy="405.3" r="1.23" fill="#2a2a2a" fill-opacity="0.43"/>
<circle cx="602.9" cy="386.5" r="0.81" fill="#2a2a2a" fill-opacity="0.56"/>
<circle cx="678.7" cy="366.8" r="1.06" fill="#2a2a2a" fill-opacity="0.58"/>
<circle cx="647.1" cy="377.6" r="1.31" fill="#2a2a2a" fill-opacity="0.72"/>
<circle cx="589.1" cy="381.9" r="0.50" fill="#2a2a2a" fill-opacity="0.62"/>
<circle cx="659.3" cy="386.0" r="1.82" fill="#2a2a2a" fill-opacity="0.70"/>
<circle cx="650.9" cy="364.9" r="0.62" fill="#2a2a2a" fill-opacity="0.72"/>
<circle cx="632.9" cy="373.3" r="0.50" fill="#2a2a2a" fill-opacity="0.68"/>
<circle cx="612.9" cy="364.6" r="0.85" fill="#2a2a2a" fill-opacity="0.67"/>
<circle cx="642.8" cy="357.5" r="1.69" fill="#2a2a2a" fill-opacity="0.53"/>
<circle cx="645.7" cy="376.7" r="0.66" fill="#2a2a2a" fill-opacity="0.40"/>
<circle cx="662.3" cy="368.2" r="0.98" fill="#2a2a2a" fill-opacity="0.69"/>
<circle cx="681.6" cy="358.6" r="1.21" fill="#2a2a2a" fill-opacity="0.49"/>
<circle cx="588.4" cy="397.1" r="0.73" fill="#2a2a2a" fill-opacity="0.55"/>
<circle cx="604.3" cy="367.4" r="0.52" fill="#2a2a2a" fill-opacity="0.57"/>
<circle cx="590.1" cy="421.9" r="1.12" fill="#2a2a2a" fill-opacity="0.77"/>
<circle cx="657.0" cy="415.9" r="1.57" fill="#2a2a2a" fill-opacity="0.69"/>
<circle cx="658.1" cy="389.2" r="1.49" fill="#2a2a2a" fill-opacity="0.74"/>
<circle cx="652.1" cy="424.4" r="1.41" fill="#2a2a2a" fill-opacity="0.44"/>
<circle cx="681.7" cy="372.7" r="0.55" fill="#2a2a2a" fill-opacity="0.66"/>
<circle cx="681.3" cy="409.1" r="0.54" fill="#2a2a2a" fill-opacity="0.50"/>
<circle cx="621.7" cy="410.9" r="0.52" fill="#2a2a2a" fill-opacity="0.69"/>
<circle cx="609.2" cy="359.1" r="1.71" fill="#2a2a2a" fill-opacity="0.72"/>
<circle cx="662.7" cy="417.1" r="0.88" fill="#2a2a2a" fill-opacity="0.75"/>
<circle cx="646.4" cy="390.5" r="1.30" fill="#2a2a2a" fill-opacity="0.70"/>
<circle cx="649.6" cy="382.3" r="0.89" fill="#2a2a2a" fill-opacity="0.42"/>
<circle cx="626.5" cy="405.8" r="1.27" fill="#2a2a2a" fill-opacity="0.58"/>
<circle cx="633.7" cy="418.7" r="0.93" fill="#2a2a2a" fill-opacity="0.59"/>
<circle cx="599.3" cy="413.3" r="1.54" fill="#2a2a2a" fill-opacity="0.79"/>
<circle cx="660.5" cy="360.4" r="0.71" fill="#2a2a2a" fill-opacity="0.45"/>
<circle cx="649.2" cy="369.8" r="0.92" fill="#2a2a2a" fill-opacity="0.78"/>
<circle cx="656.1" cy="382.7" r="1.43" fill="#2a2a2a" fill-opacity="0.53"/>
<circle cx="659.4" cy="372.8" r="1.62" fill="#2a2a2a" fill-opacity="0.55"/>
<circle cx="591.3" cy="376.1" r="0.75" fill="#2a2a2a" fill-opacity="0.45"/>
<circle cx="646.9" cy="373.4" r="0.85" fill="#2a2a2a" fill-opacity="0.70"/>
<circle cx="637.7" cy="374.8" r="1.19" fill="#2a2a2a" fill-opacity="0.62"/>
<circle cx="647.0" cy="388.4" r="0.75" fill="#2a2a2a" fill-opacity="0.73"/>
<circle cx="622.9" cy="386.6" r="1.85" fill="#2a2a2a" fill-opacity="0.70"/>
<circle cx="599.2" cy="414.9" r="0.83" fill="#2a2a2a" fill-opacity="0.67"/>
<circle cx="637.0" cy="380.6" r="0.63" fill="#2a2a2a" fill-opacity="0.58"/>
<circle cx="677.1" cy="371.0" r="0.54" fill="#2a2a2a" fill-opacity="0.72"/>
<circle cx="632.2" cy="385.4" r="0.97" fill="#2a2a2a" fill-opacity="0.55"/>
<circle cx="593.0" cy="396.9" r="0.76" fill="#2a2a2a" fill-opacity="0.68"/>
<circle cx="609.6" cy="366.2" r="1.08" fill="#2a2a2a" fill-opacity="0.80"/>
<circle cx="653.1" cy="403.5" r="1.57" fill="#2a2a2a" fill-opacity="0.38"/>
<circle cx="673.0" cy="424.0" r="0.57" fill="#2a2a2a" fill-opacity="0.40"/>
<circle cx="669.6" cy="422.6" r="0.97" fill="#2a2a2a" fill-opacity="0.51"/>
<circle cx="676.4" cy="417.8" r="0.51" fill="#2a2a2a" fill-opacity="0.44"/>
<circle cx="663.3" cy="378.1" r="1.78" fill="#2a2a2a" fill-opacity="0.56"/>
<circle cx="669.6" cy="366.1" r="0.50" fill="#2a2a2a" fill-opacity="0.54"/>
<circle cx="671.0" cy="406.7" r="0.50" fill="#2a2a2a" fill-opacity="0.76"/>
<circle cx="676.3" cy="366.7" r="1.13" fill="#2a2a2a" fill-opacity="0.78"/>
<ellipse cx="610.2" cy="408.4" rx="1.70" ry="1.04" transform="rotate(35 610.2 408.4)" fill="#262626" fill-opacity="0.76"/>
<ellipse cx="605.0" cy="410.2" rx="1.72" ry="1.11" transform="rotate(117 605.0 410.2)" fill="#262626" fill-opacity="0.76"/>
<ellipse cx="618.3" cy="428.6" rx="2.29" ry="1.64" transform="rotate(75 618.3 428.6)" fill="#262626" fill-opacity="0.75"/>
<ellipse cx="609.3" cy="427.4" rx="2.09" ry="1.56" transform="rotate(170 609.3 427.4)" fill="#262626" fill-opacity="0.60"/>
<ellipse cx="662.9" cy="404.8" rx="1.81" ry="1.32" transform="rotate(147 662.9 404.8)" fill="#262626" fill-opacity="0.81"/>
<ellipse cx="642.4" cy="414.0" rx="2.40" ry="2.15" transform="rotate(43 642.4 414.0)" fill="#262626" fill-opacity="0.54"/>
<ellipse cx="657.9" cy="418.3" rx="2.30" ry="1.70" transform="rotate(18 657.9 418.3)" fill="#262626" fill-opacity="0.58"/>
<ellipse cx="645.2" cy="359.0" rx="2.65" ry="1.77" transform="rotate(134 645.2 359.0)" fill="#262626" fill-opacity="0.72"/>
<ellipse cx="606.3" cy="365.3" rx="2.16" ry="1.37" transform="rotate(121 606.3 365.3)" fill="#262626" fill-opacity="0.66"/>
<ellipse cx="624.4" cy="426.3" rx="2.21" ry="2.05" transform="rotate(162 624.4 426.3)" fill="#262626" fill-opacity="0.62"/>
<ellipse cx="659.9" cy="395.4" rx="1.97" ry="1.75" transform="rotate(107 659.9 395.4)" fill="#262626" fill-opacity="0.80"/>
<ellipse cx="655.9" cy="366.3" rx="2.64" ry="2.09" transform="rotate(54 655.9 366.3)" fill="#262626" fill-opacity="0.73"/>
<ellipse cx="640.3" cy="376.4" rx="1.62" ry="1.38" transform="rotate(148 640.3 376.4)" fill="#262626" fill-opacity="0.73"/>
<ellipse cx="658.7" cy="381.8" rx="2.48" ry="2.48" transform="rotate(109 658.7 381.8)" fill="#262626" fill-opacity="0.66"/>
<ellipse cx="653.0" cy="399.8" rx="2.75" ry="2.73" transform="rotate(16 653.0 399.8)" fill="#262626" fill-opacity="0.58"/>
<ellipse cx="598.6" cy="391.4" rx="2.63" ry="1.66" transform="rotate(85 598.6 391.4)" fill="#262626" fill-opacity="0.62"/>
<ellipse cx="681.7" cy="382.0" rx="2.57" ry="2.41" transform="rotate(37 681.7 382.0)" fill="#262626" fill-opacity="0.75"/>
<ellipse cx="674.5" cy="384.0" rx="2.16" ry="1.99" transform="rotate(57 674.5 384.0)" fill="#262626" fill-opacity="0.59"/>
<ellipse cx="674.3" cy="411.1" rx="2.26" ry="1.67" transform="rotate(56 674.3 411.1)" fill="#262626" fill-opacity="0.68"/>
<ellipse cx="616.9" cy="379.5" rx="2.66" ry="2.24" transform="rotate(177 616.9 379.5)" fill="#262626" fill-opacity="0.81"/>
<ellipse cx="613.8" cy="359.6" rx="2.13" ry="1.63" transform="rotate(83 613.8 359.6)" fill="#262626" fill-opacity="0.87"/>
<ellipse cx="598.1" cy="425.8" rx="1.76" ry="1.27" transform="rotate(65 598.1 425.8)" fill="#262626" fill-opacity="0.90"/>
<ellipse cx="641.6" cy="357.5" rx="2.23" ry="1.40" transform="rotate(24 641.6 357.5)" fill="#262626" fill-opacity="0.77"/>
<ellipse cx="640.2" cy="418.3" rx="1.24" ry="1.23" transform="rotate(34 640.2 418.3)" fill="#262626" fill-opacity="0.87"/>
<ellipse cx="638.6" cy="423.6" rx="2.11" ry="1.33" transform="rotate(99 638.6 423.6)" fill="#262626" fill-opacity="0.89"/>
<ellipse cx="643.1" cy="368.3" rx="2.74" ry="2.45" transform="rotate(144 643.1 368.3)" fill="#262626" fill-opacity="0.86"/>
<ellipse cx="656.0" cy="414.2" rx="1.92" ry="1.52" transform="rotate(164 656.0 414.2)" fill="#262626" fill-opacity="0.60"/>
<ellipse cx="680.5" cy="395.6" rx="1.21" ry="1.06" transform="rotate(83 680.5 395.6)" fill="#262626" fill-opacity="0.67"/>
</g>
<g filter="url(#bl)">
<circle cx="653.3" cy="365.1" r="5.9" fill="#5a5a5a" fill-opacity="0.25" stroke="#2a2a2a" stroke-opacity="0.8" stroke-width="1.2"/>
<circle cx="654.5" cy="366.0" r="1.5" fill="#333" fill-opacity="0.35"/>
<circle cx="643" cy="376.9" r="7.4" fill="#5a5a5a" fill-opacity="0.25" stroke="#2a2a2a" stroke-opacity="0.8" stroke-width="1.2"/>
<circle cx="644.5" cy="378.0" r="1.9" fill="#333" fill-opacity="0.35"/>
<circle cx="657" cy="393.8" r="7.7" fill="#5a5a5a" fill-opacity="0.25" stroke="#2a2a2a" stroke-opacity="0.8" stroke-width="1.2"/>
<circle cx="658.5" cy="395.0" r="1.9" fill="#333" fill-opacity="0.35"/>
<circle cx="640.8" cy="396.8" r="6.2" fill="#5a5a5a" fill-opacity="0.25" stroke="#2a2a2a" stroke-opacity="0.8" stroke-width="1.2"/>
<circle cx="642.0" cy="397.7" r="1.6" fill="#333" fill-opacity="0.35"/>
<circle cx="620.1" cy="396" r="6.2" fill="#5a5a5a" fill-opacity="0.25" stroke="#2a2a2a" stroke-opacity="0.8" stroke-width="1.2"/>
<circle cx="621.3" cy="396.9" r="1.6" fill="#333" fill-opacity="0.35"/>
<circle cx="648.9" cy="415.2" r="7.7" fill="#5a5a5a" fill-opacity="0.25" stroke="#2a2a2a" stroke-opacity="0.8" stroke-width="1.2"/>
<circle cx="650.4" cy="416.4" r="1.9" fill="#333" fill-opacity="0.35"/>
<circle cx="607.6" cy="418.9" r="5.9" fill="#5a5a5a" fill-opacity="0.25" stroke="#2a2a2a" stroke-opacity="0.8" stroke-width="1.2"/>
<circle cx="608.8" cy="419.8" r="1.5" fill="#333" fill-opacity="0.35"/>
<circle cx="629.7" cy="418.9" r="3.7" fill="#5a5a5a" fill-opacity="0.25" stroke="#2a2a2a" stroke-opacity="0.8" stroke-width="1.2"/>
<circle cx="630.4" cy="419.5" r="0.9" fill="#333" fill-opacity="0.35"/>
<circle cx="676.9" cy="366.5" r="5.2" fill="#5a5a5a" fill-opacity="0.25" stroke="#2a2a2a" stroke-opacity="0.8" stroke-width="1.2"/>
<circle cx="677.9" cy="367.3" r="1.3" fill="#333" fill-opacity="0.35"/>
<circle cx="679.1" cy="380.5" r="4.4" fill="#5a5a5a" fill-opacity="0.25" stroke="#2a2a2a" stroke-opacity="0.8" stroke-width="1.2"/>
<circle cx="680.0" cy="381.2" r="1.1" fill="#333" fill-opacity="0.35"/>
<circle cx="592.8" cy="359.9" r="5.9" fill="#5a5a5a" fill-opacity="0.25" stroke="#2a2a2a" stroke-opacity="0.8" stroke-width="1.2"/>
<circle cx="594.0" cy="360.8" r="1.5" fill="#333" fill-opacity="0.35"/>
<ellipse cx="626.8" cy="378.3" rx="2.70" ry="2.30" fill="#1e1e1e" fill-opacity="0.85"/>
<ellipse cx="619.4" cy="372.4" rx="2.38" ry="2.02" fill="#1e1e1e" fill-opacity="0.85"/>
<ellipse cx="611.3" cy="360.6" rx="2.38" ry="2.02" fill="#1e1e1e" fill-opacity="0.85"/>
<ellipse cx="633.4" cy="359.2" rx="2.16" ry="1.84" fill="#1e1e1e" fill-opacity="0.85"/>
<ellipse cx="663.6" cy="365.8" rx="2.70" ry="2.30" fill="#1e1e1e" fill-opacity="0.85"/>
<ellipse cx="592.8" cy="371.7" rx="2.70" ry="2.30" fill="#1e1e1e" fill-opacity="0.85"/>
<ellipse cx="594.3" cy="389.4" rx="2.70" ry="2.30" fill="#1e1e1e" fill-opacity="0.85"/>
<ellipse cx="603.2" cy="393.1" rx="2.70" ry="2.30" fill="#1e1e1e" fill-opacity="0.85"/>
<ellipse cx="604.6" cy="403.4" rx="2.70" ry="2.30" fill="#1e1e1e" fill-opacity="0.85"/>
<ellipse cx="611.3" cy="399" rx="2.38" ry="2.02" fill="#1e1e1e" fill-opacity="0.85"/>
<ellipse cx="669.5" cy="410" rx="2.70" ry="2.30" fill="#1e1e1e" fill-opacity="0.85"/>
<ellipse cx="675.4" cy="390" rx="2.70" ry="2.30" fill="#1e1e1e" fill-opacity="0.85"/>
<ellipse cx="595" cy="415" rx="2.70" ry="2.30" fill="#1e1e1e" fill-opacity="0.85"/>
<ellipse cx="637.8" cy="392.3" rx="2.38" ry="2.02" fill="#1e1e1e" fill-opacity="0.85"/>
<ellipse cx="643.7" cy="386.4" rx="2.16" ry="1.84" fill="#1e1e1e" fill-opacity="0.85"/>
</g>
<line x1="667.4" y1="425.5" x2="679.4" y2="425.5" stroke="#f0f0f0" stroke-width="1"/>
</g>
<text x="636.6" y="355.59999999999997" font-size="11.3" text-anchor="middle" font-weight="normal" fill="#000" >STC2</text>
<text x="5.9" y="463.7" font-size="25.8" text-anchor="start" font-weight="normal" fill="#000" >d)</text>
<g stroke="#000" stroke-width="2" fill="none">
<line x1="33.7" y1="473.25" x2="33.7" y2="596.0"/>
<line x1="32.7" y1="595.0" x2="334.5" y2="595.0"/>
<line x1="27.3" y1="595.0" x2="33.7" y2="595.0"/>
<line x1="27.3" y1="570.85" x2="33.7" y2="570.85"/>
<line x1="27.3" y1="546.7" x2="33.7" y2="546.7"/>
<line x1="27.3" y1="522.55" x2="33.7" y2="522.55"/>
<line x1="27.3" y1="498.4" x2="33.7" y2="498.4"/>
<line x1="27.3" y1="474.25" x2="33.7" y2="474.25"/>
</g>
<text x="26.6" y="597.9" font-size="8.4" text-anchor="end" font-weight="bold" fill="#000" >0</text>
<text x="26.6" y="573.75" font-size="8.4" text-anchor="end" font-weight="bold" fill="#000" >1</text>
<text x="26.6" y="549.6" font-size="8.4" text-anchor="end" font-weight="bold" fill="#000" >2</text>
<text x="26.6" y="525.4499999999999" font-size="8.4" text-anchor="end" font-weight="bold" fill="#000" >3</text>
<text x="26.6" y="501.29999999999995" font-size="8.4" text-anchor="end" font-weight="bold" fill="#000" >4</text>
<text x="26.6" y="477.15" font-size="8.4" text-anchor="end" font-weight="bold" fill="#000" >5</text>
<text x="0" y="0" font-size="8.9" font-weight="bold" text-anchor="middle" transform="translate(18.6,534.6) rotate(-90)">Colony forming efficiency (%)</text>
<rect x="42.0" y="544.285" width="13" height="50.71500000000003" fill="#a77ca9" stroke="#000" stroke-width="2"/>
<line x1="48.5" y1="595.0" x2="48.5" y2="601.2" stroke="#000" stroke-width="2"/>
<rect x="64.57" y="542.1115" width="13" height="52.88850000000002" fill="#a0a1cc" stroke="#000" stroke-width="2"/>
<line x1="71.07" y1="595.0" x2="71.07" y2="601.2" stroke="#000" stroke-width="2"/>
<rect x="87.14" y="543.319" width="13" height="51.68100000000004" fill="#8fb6c5" stroke="#000" stroke-width="2"/>
<line x1="93.64" y1="595.0" x2="93.64" y2="601.2" stroke="#000" stroke-width="2"/>
<rect x="109.71000000000001" y="533.9005" width="13" height="61.099500000000035" fill="#8dd1bd" stroke="#000" stroke-width="2"/>
<line x1="116.21000000000001" y1="595.0" x2="116.21000000000001" y2="601.2" stroke="#000" stroke-width="2"/>
<rect x="132.28" y="544.0435" width="13" height="50.956500000000005" fill="#b6e3a1" stroke="#000" stroke-width="2"/>
<line x1="138.78" y1="595.0" x2="138.78" y2="601.2" stroke="#000" stroke-width="2"/>
<rect x="154.85" y="535.108" width="13" height="59.89200000000005" fill="#fde725" stroke="#000" stroke-width="2"/>
<line x1="161.35" y1="595.0" x2="161.35" y2="601.2" stroke="#000" stroke-width="2"/>
<rect x="177.42000000000002" y="551.7715000000001" width="13" height="43.22849999999994" fill="#440154" stroke="#000" stroke-width="2"/>
<line x1="183.92000000000002" y1="595.0" x2="183.92000000000002" y2="601.2" stroke="#000" stroke-width="2"/>
<rect x="199.99" y="506.97325" width="13" height="88.02674999999999" fill="#3e4a89" stroke="#000" stroke-width="2"/>
<line x1="206.49" y1="595.0" x2="206.49" y2="601.2" stroke="#000" stroke-width="2"/>
<rect x="222.56" y="535.3495" width="13" height="59.650499999999965" fill="#2a788e" stroke="#000" stroke-width="2"/>
<line x1="229.06" y1="595.0" x2="229.06" y2="601.2" stroke="#000" stroke-width="2"/>
<rect x="245.13" y="552.979" width="13" height="42.02099999999996" fill="#22a884" stroke="#000" stroke-width="2"/>
<line x1="251.63" y1="595.0" x2="251.63" y2="601.2" stroke="#000" stroke-width="2"/>
<rect x="267.7" y="542.5945" width="13" height="52.40549999999996" fill="#7ad151" stroke="#000" stroke-width="2"/>
<line x1="274.2" y1="595.0" x2="274.2" y2="601.2" stroke="#000" stroke-width="2"/>
<rect x="290.27" y="528.5875" width="13" height="66.41250000000002" fill="#fcf08c" stroke="#000" stroke-width="2"/>
<line x1="296.77" y1="595.0" x2="296.77" y2="601.2" stroke="#000" stroke-width="2"/>
<rect x="312.84000000000003" y="529.795" width="13" height="65.20500000000004" fill="#440154" stroke="#000" stroke-width="2"/>
<line x1="319.34000000000003" y1="595.0" x2="319.34000000000003" y2="601.2" stroke="#000" stroke-width="2"/>
<g stroke="#000" stroke-width="1.1"><line x1="48.5" y1="538.972" x2="48.5" y2="549.598"/><line x1="44.3" y1="538.972" x2="52.7" y2="538.972"/><line x1="44.3" y1="549.598" x2="52.7" y2="549.598"/></g>
<g stroke="#000" stroke-width="1.1"><line x1="71.07" y1="534.3835" x2="71.07" y2="549.8395"/><line x1="66.86999999999999" y1="534.3835" x2="75.27" y2="534.3835"/><line x1="66.86999999999999" y1="549.8395" x2="75.27" y2="549.8395"/></g>
<g stroke="#000" stroke-width="1.1"><line x1="93.64" y1="538.006" x2="93.64" y2="548.632"/><line x1="89.44" y1="538.006" x2="97.84" y2="538.006"/><line x1="89.44" y1="548.632" x2="97.84" y2="548.632"/></g>
<g stroke="#000" stroke-width="1.1"><line x1="116.21000000000001" y1="528.346" x2="116.21000000000001" y2="539.455"/><line x1="112.01" y1="528.346" x2="120.41000000000001" y2="528.346"/><line x1="112.01" y1="539.455" x2="120.41000000000001" y2="539.455"/></g>
<g stroke="#000" stroke-width="1.1"><line x1="138.78" y1="539.938" x2="138.78" y2="548.149"/><line x1="134.58" y1="539.938" x2="142.98" y2="539.938"/><line x1="134.58" y1="548.149" x2="142.98" y2="548.149"/></g>
<g stroke="#000" stroke-width="1.1"><line x1="161.35" y1="530.5195" x2="161.35" y2="539.6965"/><line x1="157.15" y1="530.5195" x2="165.54999999999998" y2="530.5195"/><line x1="157.15" y1="539.6965" x2="165.54999999999998" y2="539.6965"/></g>
<g stroke="#000" stroke-width="1.1"><line x1="183.92000000000002" y1="546.7" x2="183.92000000000002" y2="556.843"/><line x1="179.72000000000003" y1="546.7" x2="188.12" y2="546.7"/><line x1="179.72000000000003" y1="556.843" x2="188.12" y2="556.843"/></g>
<g stroke="#000" stroke-width="1.1"><line x1="206.49" y1="500.45275000000004" x2="206.49" y2="513.49375"/><line x1="202.29000000000002" y1="500.45275000000004" x2="210.69" y2="500.45275000000004"/><line x1="202.29000000000002" y1="513.49375" x2="210.69" y2="513.49375"/></g>
<g stroke="#000" stroke-width="1.1"><line x1="229.06" y1="531.244" x2="229.06" y2="539.455"/><line x1="224.86" y1="531.244" x2="233.26" y2="531.244"/><line x1="224.86" y1="539.455" x2="233.26" y2="539.455"/></g>
<g stroke="#000" stroke-width="1.1"><line x1="251.63" y1="552.2545" x2="251.63" y2="553.7035"/><line x1="247.43" y1="552.2545" x2="255.82999999999998" y2="552.2545"/><line x1="247.43" y1="553.7035" x2="255.82999999999998" y2="553.7035"/></g>
<g stroke="#000" stroke-width="1.1"><line x1="274.2" y1="541.6285" x2="274.2" y2="543.5605"/><line x1="270.0" y1="541.6285" x2="278.4" y2="541.6285"/><line x1="270.0" y1="543.5605" x2="278.4" y2="543.5605"/></g>
<g stroke="#000" stroke-width="1.1"><line x1="296.77" y1="526.1725" x2="296.77" y2="531.0025"/><line x1="292.57" y1="526.1725" x2="300.96999999999997" y2="526.1725"/><line x1="292.57" y1="531.0025" x2="300.96999999999997" y2="531.0025"/></g>
<g stroke="#000" stroke-width="1.1"><line x1="319.34000000000003" y1="523.516" x2="319.34000000000003" y2="536.074"/><line x1="315.14000000000004" y1="523.516" x2="323.54" y2="523.516"/><line x1="315.14000000000004" y1="536.074" x2="323.54" y2="536.074"/></g>
<circle cx="48.5" cy="527.6215" r="2.5" fill="#4b0c5e"/>
<circle cx="48.5" cy="541.1455" r="2.5" fill="#4b0c5e"/>
<circle cx="43.5" cy="549.3565" r="2.5" fill="#4b0c5e"/>
<circle cx="48.5" cy="548.149" r="2.5" fill="#4b0c5e"/>
<circle cx="53.8" cy="548.3905" r="2.5" fill="#4b0c5e"/>
<rect x="68.77" y="514.937" width="4.6" height="4.6" fill="#4a4f98"/>
<rect x="68.77" y="529.427" width="4.6" height="4.6" fill="#4a4f98"/>
<rect x="63.47" y="542.2265000000001" width="4.6" height="4.6" fill="#4a4f98"/>
<rect x="73.97" y="543.1925000000001" width="4.6" height="4.6" fill="#4a4f98"/>
<rect x="68.77" y="562.0295000000001" width="4.6" height="4.6" fill="#4a4f98"/>
<polygon points="93.64,530.8175 96.14,535.3175 91.14,535.3175" fill="#2f7e95"/>
<polygon points="93.64,540.9605 96.14,545.4605 91.14,545.4605" fill="#2f7e95"/>
<polygon points="93.64,547.481 96.14,551.981 91.14,551.981" fill="#2f7e95"/>
<polygon points="116.21000000000001,517.6635 118.71000000000001,513.1635 113.71000000000001,513.1635" fill="#1faa86"/>
<polygon points="116.21000000000001,531.429 118.71000000000001,526.929 113.71000000000001,526.929" fill="#1faa86"/>
<polygon points="111.01,537.708 113.51,533.208 108.51,533.208" fill="#1faa86"/>
<polygon points="121.51,538.4325 124.01,533.9325 119.01,533.9325" fill="#1faa86"/>
<polygon points="116.21000000000001,549.0585 118.71000000000001,544.5585 113.71000000000001,544.5585" fill="#1faa86"/>
<polygon points="138.78,533.9155000000001 141.18,536.3155 138.78,538.7155 136.38,536.3155" fill="#6dcc5c"/>
<polygon points="133.48,543.817 135.88,546.217 133.48,548.617 131.07999999999998,546.217" fill="#6dcc5c"/>
<polygon points="144.38,543.0925000000001 146.78,545.4925000000001 144.38,547.8925 141.98,545.4925000000001" fill="#6dcc5c"/>
<circle cx="161.75" cy="520.3765" r="2.35" fill="none" stroke="#000" stroke-width="1.3"/>
<circle cx="167.04999999999998" cy="532.4515" r="2.35" fill="none" stroke="#000" stroke-width="1.3"/>
<circle cx="156.75" cy="539.6965" r="2.35" fill="none" stroke="#000" stroke-width="1.3"/>
<circle cx="161.35" cy="536.3155" r="2.35" fill="none" stroke="#000" stroke-width="1.3"/>
<circle cx="166.25" cy="539.938" r="2.35" fill="none" stroke="#000" stroke-width="1.3"/>
<rect x="181.82000000000002" y="540.0115" width="4.2" height="4.2" fill="none" stroke="#000" stroke-width="1.2"/>
<rect x="176.82000000000002" y="551.845" width="4.2" height="4.2" fill="none" stroke="#000" stroke-width="1.2"/>
<rect x="187.32000000000002" y="549.913" width="4.2" height="4.2" fill="none" stroke="#000" stroke-width="1.2"/>
<rect x="182.02" y="551.845" width="4.2" height="4.2" fill="none" stroke="#000" stroke-width="1.2"/>
<polygon points="206.49,487.34749999999997 208.99,491.9475 203.99,491.9475" fill="none" stroke="#000" stroke-width="1.3" stroke-linejoin="round"/>
<polygon points="201.59,497.4905 204.09,502.0905 199.09,502.0905" fill="none" stroke="#000" stroke-width="1.3" stroke-linejoin="round"/>
<polygon points="211.79000000000002,495.79999999999995 214.29000000000002,500.4 209.29000000000002,500.4" fill="none" stroke="#000" stroke-width="1.3" stroke-linejoin="round"/>
<polygon points="201.59,518.018 204.09,522.618 199.09,522.618" fill="none" stroke="#000" stroke-width="1.3" stroke-linejoin="round"/>
<polygon points="211.79000000000002,518.018 214.29000000000002,522.618 209.29000000000002,522.618" fill="none" stroke="#000" stroke-width="1.3" stroke-linejoin="round"/>
<polygon points="229.06,526.399 231.46,522.099 226.66,522.099" fill="none" stroke="#000" stroke-width="1.2" stroke-linejoin="round"/>
<polygon points="229.06,532.678 231.46,528.378 226.66,528.378" fill="none" stroke="#000" stroke-width="1.2" stroke-linejoin="round"/>
<polygon points="223.36,544.0285 225.76000000000002,539.7285 220.96,539.7285" fill="none" stroke="#000" stroke-width="1.2" stroke-linejoin="round"/>
<polygon points="233.56,539.4399999999999 235.96,535.14 231.16,535.14" fill="none" stroke="#000" stroke-width="1.2" stroke-linejoin="round"/>
<polygon points="246.43,549.23 248.73000000000002,551.53 246.43,553.8299999999999 244.13,551.53" fill="none" stroke="#000" stroke-width="1.1"/>
<polygon points="251.63,546.3320000000001 253.93,548.6320000000001 251.63,550.932 249.32999999999998,548.6320000000001" fill="none" stroke="#000" stroke-width="1.1"/>
<polygon points="256.83,548.264 259.13,550.564 256.83,552.8639999999999 254.52999999999997,550.564" fill="none" stroke="#000" stroke-width="1.1"/>
<circle cx="269.4" cy="542.1115" r="2.1" fill="#000"/>
<circle cx="274.2" cy="539.455" r="2.1" fill="#000"/>
<circle cx="278.7" cy="539.455" r="2.1" fill="#000"/>
<polygon points="296.77,518.74 297.39,520.49 299.24,520.54 297.77,521.67 298.30,523.45 296.77,522.39 295.24,523.45 295.77,521.67 294.30,520.54 296.15,520.49" fill="#f5d51a"/>
<polygon points="291.57,524.78 292.19,526.53 294.04,526.58 292.57,527.70 293.10,529.48 291.57,528.43 290.04,529.48 290.57,527.70 289.10,526.58 290.95,526.53" fill="#f5d51a"/>
<polygon points="296.77,524.78 297.39,526.53 299.24,526.58 297.77,527.70 298.30,529.48 296.77,528.43 295.24,529.48 295.77,527.70 294.30,526.58 296.15,526.53" fill="#f5d51a"/>
<polygon points="302.47,526.23 303.09,527.98 304.94,528.03 303.47,529.15 304.00,530.93 302.47,529.88 300.94,530.93 301.47,529.15 300.00,528.03 301.85,527.98" fill="#f5d51a"/>
<polygon points="291.57,530.58 292.19,532.33 294.04,532.37 292.57,533.50 293.10,535.28 291.57,534.23 290.04,535.28 290.57,533.50 289.10,532.37 290.95,532.33" fill="#f5d51a"/>
<path d="M316.84000000000003 509.026H321.84000000000003M319.34000000000003 506.526V511.526" stroke="#000" stroke-width="1.4"/>
<path d="M312.84000000000003 532.693H317.84000000000003M315.34000000000003 530.193V535.193" stroke="#000" stroke-width="1.4"/>
<path d="M320.84000000000003 532.693H325.84000000000003M323.34000000000003 530.193V535.193" stroke="#000" stroke-width="1.4"/>
<path d="M316.84000000000003 529.0705H321.84000000000003M319.34000000000003 526.5705V531.5705" stroke="#000" stroke-width="1.4"/>
<g stroke="#000" stroke-width="1.4">
<line x1="47.9" y1="467.0" x2="319.8" y2="467.0"/>
<line x1="47.9" y1="481.5" x2="206.9" y2="481.5"/>
</g>
<g transform="translate(184.20,459.20)" fill="#000">
<rect x="-0.85" y="-2.90" width="1.7" height="5.8" transform="rotate(0)"/>
<rect x="-0.85" y="-2.90" width="1.7" height="5.8" transform="rotate(60)"/>
<rect x="-0.85" y="-2.90" width="1.7" height="5.8" transform="rotate(120)"/>
</g>
<g transform="translate(127.70,473.70)" fill="#000">
<rect x="-0.85" y="-2.90" width="1.7" height="5.8" transform="rotate(0)"/>
<rect x="-0.85" y="-2.90" width="1.7" height="5.8" transform="rotate(60)"/>
<rect x="-0.85" y="-2.90" width="1.7" height="5.8" transform="rotate(120)"/>
</g>
<text x="0" y="0" font-size="8.4" font-weight="bold" text-anchor="end" transform="translate(50.8,608.6) rotate(-45)">Control</text>
<text x="0" y="0" font-size="8.4" font-weight="bold" text-anchor="end" transform="translate(73.36999999999999,608.6) rotate(-45)">BMP1</text>
<text x="0" y="0" font-size="8.4" font-weight="bold" text-anchor="end" transform="translate(95.94,608.6) rotate(-45)">CCN1</text>
<text x="0" y="0" font-size="8.4" font-weight="bold" text-anchor="end" transform="translate(118.51,608.6) rotate(-45)">CCN2</text>
<text x="0" y="0" font-size="8.4" font-weight="bold" text-anchor="end" transform="translate(141.08,608.6) rotate(-45)">GREM1</text>
<text x="0" y="0" font-size="8.4" font-weight="bold" text-anchor="end" transform="translate(163.65,608.6) rotate(-45)">HGF</text>
<text x="0" y="0" font-size="8.4" font-weight="bold" text-anchor="end" transform="translate(186.22000000000003,608.6) rotate(-45)">INHBA</text>
<text x="0" y="0" font-size="8.4" font-weight="bold" text-anchor="end" transform="translate(208.79000000000002,608.6) rotate(-45)">OGN</text>
<text x="0" y="0" font-size="8.4" font-weight="bold" text-anchor="end" transform="translate(231.36,608.6) rotate(-45)">PTN</text>
<text x="0" y="0" font-size="8.4" font-weight="bold" text-anchor="end" transform="translate(253.93,608.6) rotate(-45)">SEMA3A</text>
<text x="0" y="0" font-size="8.4" font-weight="bold" text-anchor="end" transform="translate(276.5,608.6) rotate(-45)">SEMA7A</text>
<text x="0" y="0" font-size="8.4" font-weight="bold" text-anchor="end" transform="translate(299.07,608.6) rotate(-45)">STC1</text>
<text x="0" y="0" font-size="8.4" font-weight="bold" text-anchor="end" transform="translate(321.64000000000004,608.6) rotate(-45)">STC2</text>
<text x="342.2" y="463.3" font-size="25.8" text-anchor="start" font-weight="normal" fill="#000" >e)</text>
<g stroke="#000" stroke-width="2" fill="none">
<line x1="384.8" y1="473.29999999999995" x2="384.8" y2="595.9"/>
<line x1="383.8" y1="594.9" x2="685" y2="594.9"/>
<line x1="379.2" y1="594.9" x2="384.8" y2="594.9"/>
<line x1="379.2" y1="564.75" x2="384.8" y2="564.75"/>
<line x1="379.2" y1="534.6" x2="384.8" y2="534.6"/>
<line x1="379.2" y1="504.45" x2="384.8" y2="504.45"/>
<line x1="379.2" y1="474.29999999999995" x2="384.8" y2="474.29999999999995"/>
</g>
<text x="377.7" y="597.8" font-size="8.4" text-anchor="end" font-weight="bold" fill="#000" >0</text>
<text x="377.7" y="567.65" font-size="8.4" text-anchor="end" font-weight="bold" fill="#000" >1</text>
<text x="377.7" y="537.5" font-size="8.4" text-anchor="end" font-weight="bold" fill="#000" >2</text>
<text x="377.7" y="507.34999999999997" font-size="8.4" text-anchor="end" font-weight="bold" fill="#000" >3</text>
<text x="377.7" y="477.19999999999993" font-size="8.4" text-anchor="end" font-weight="bold" fill="#000" >4</text>
<text x="0" y="0" font-size="8.9" font-weight="bold" text-anchor="middle" transform="translate(369.3,534.7) rotate(-90)">Organoid diameter (Log µm)</text>
<path d="M399.95,499.32 C400.00,500.18 400.10,502.84 400.16,504.45 C400.22,506.06 400.18,507.87 400.29,508.97 C400.40,510.08 400.70,510.33 400.81,511.08 C400.92,511.84 400.98,512.59 400.94,513.50 C400.90,514.40 400.46,515.50 400.55,516.51 C400.64,517.51 401.05,518.27 401.46,519.52 C401.87,520.78 402.39,522.54 403.02,524.05 C403.64,525.56 404.74,527.41 405.20,528.57 C405.66,529.73 405.73,530.08 405.80,530.98 C405.87,531.89 405.78,532.89 405.60,534.00 C405.42,535.10 405.12,536.51 404.70,537.62 C404.28,538.72 403.67,539.62 403.10,540.63 C402.53,541.63 401.75,542.64 401.30,543.64 C400.85,544.65 400.62,545.76 400.40,546.66 C400.17,547.56 400.04,548.67 399.95,549.07 C399.86,549.47 399.94,549.47 399.85,549.07 C399.76,548.67 399.62,547.56 399.40,546.66 C399.17,545.76 398.95,544.65 398.50,543.64 C398.05,542.64 397.27,541.63 396.70,540.63 C396.13,539.62 395.52,538.72 395.10,537.62 C394.68,536.51 394.38,535.10 394.20,534.00 C394.02,532.89 393.93,531.89 394.00,530.98 C394.07,530.08 394.14,529.73 394.60,528.57 C395.06,527.41 396.16,525.56 396.78,524.05 C397.41,522.54 397.93,520.78 398.34,519.52 C398.75,518.27 399.16,517.51 399.25,516.51 C399.34,515.50 398.90,514.40 398.86,513.50 C398.82,512.59 398.88,511.84 398.99,511.08 C399.10,510.33 399.40,510.08 399.51,508.97 C399.62,507.87 399.58,506.06 399.64,504.45 C399.70,502.84 399.80,500.18 399.85,499.32 C399.90,498.47 399.90,498.47 399.95,499.32Z" fill="#a77ca9" stroke="#000" stroke-width="2.1" stroke-linejoin="round"/>
<clipPath id="vc0"><path d="M399.95,499.32 C400.00,500.18 400.10,502.84 400.16,504.45 C400.22,506.06 400.18,507.87 400.29,508.97 C400.40,510.08 400.70,510.33 400.81,511.08 C400.92,511.84 400.98,512.59 400.94,513.50 C400.90,514.40 400.46,515.50 400.55,516.51 C400.64,517.51 401.05,518.27 401.46,519.52 C401.87,520.78 402.39,522.54 403.02,524.05 C403.64,525.56 404.74,527.41 405.20,528.57 C405.66,529.73 405.73,530.08 405.80,530.98 C405.87,531.89 405.78,532.89 405.60,534.00 C405.42,535.10 405.12,536.51 404.70,537.62 C404.28,538.72 403.67,539.62 403.10,540.63 C402.53,541.63 401.75,542.64 401.30,543.64 C400.85,544.65 400.62,545.76 400.40,546.66 C400.17,547.56 400.04,548.67 399.95,549.07 C399.86,549.47 399.94,549.47 399.85,549.07 C399.76,548.67 399.62,547.56 399.40,546.66 C399.17,545.76 398.95,544.65 398.50,543.64 C398.05,542.64 397.27,541.63 396.70,540.63 C396.13,539.62 395.52,538.72 395.10,537.62 C394.68,536.51 394.38,535.10 394.20,534.00 C394.02,532.89 393.93,531.89 394.00,530.98 C394.07,530.08 394.14,529.73 394.60,528.57 C395.06,527.41 396.16,525.56 396.78,524.05 C397.41,522.54 397.93,520.78 398.34,519.52 C398.75,518.27 399.16,517.51 399.25,516.51 C399.34,515.50 398.90,514.40 398.86,513.50 C398.82,512.59 398.88,511.84 398.99,511.08 C399.10,510.33 399.40,510.08 399.51,508.97 C399.62,507.87 399.58,506.06 399.64,504.45 C399.70,502.84 399.80,500.18 399.85,499.32 C399.90,498.47 399.90,498.47 399.95,499.32Z"/></clipPath>
<g clip-path="url(#vc0)">
<line x1="391.9" y1="530.20" x2="407.9" y2="530.20" stroke="#6a2a7a" stroke-width="1.3"/>
<line x1="391.9" y1="524.77" x2="407.9" y2="524.77" stroke="#000" stroke-opacity="0.35" stroke-width="0.6"/>
<line x1="391.9" y1="535.63" x2="407.9" y2="535.63" stroke="#000" stroke-opacity="0.35" stroke-width="0.6"/>
</g>
<line x1="399.9" y1="594.9" x2="399.9" y2="601.3" stroke="#000" stroke-width="2"/>
<path d="M422.50,502.94 C422.55,503.70 422.63,506.11 422.71,507.46 C422.79,508.82 422.84,509.73 422.97,511.08 C423.10,512.44 423.45,514.45 423.49,515.61 C423.53,516.76 423.05,516.96 423.23,518.02 C423.41,519.07 424.01,520.58 424.58,521.94 C425.15,523.29 426.04,524.65 426.65,526.16 C427.26,527.67 428.08,529.68 428.25,530.98 C428.42,532.29 427.88,532.99 427.65,534.00 C427.42,535.00 427.02,536.16 426.85,537.01 C426.68,537.87 426.98,538.27 426.65,539.12 C426.32,539.98 425.40,541.13 424.85,542.14 C424.30,543.14 423.74,543.90 423.35,545.15 C422.96,546.41 422.66,548.92 422.50,549.67 C422.34,550.43 422.56,550.43 422.40,549.67 C422.24,548.92 421.94,546.41 421.55,545.15 C421.16,543.90 420.60,543.14 420.05,542.14 C419.50,541.13 418.58,539.98 418.25,539.12 C417.92,538.27 418.22,537.87 418.05,537.01 C417.88,536.16 417.48,535.00 417.25,534.00 C417.02,532.99 416.48,532.29 416.65,530.98 C416.82,529.68 417.64,527.67 418.25,526.16 C418.86,524.65 419.75,523.29 420.32,521.94 C420.89,520.58 421.49,519.07 421.67,518.02 C421.85,516.96 421.37,516.76 421.41,515.61 C421.45,514.45 421.80,512.44 421.93,511.08 C422.06,509.73 422.11,508.82 422.19,507.46 C422.27,506.11 422.35,503.70 422.40,502.94 C422.45,502.19 422.45,502.19 422.50,502.94Z" fill="#a0a1cc" stroke="#000" stroke-width="2.1" stroke-linejoin="round"/>
<clipPath id="vc1"><path d="M422.50,502.94 C422.55,503.70 422.63,506.11 422.71,507.46 C422.79,508.82 422.84,509.73 422.97,511.08 C423.10,512.44 423.45,514.45 423.49,515.61 C423.53,516.76 423.05,516.96 423.23,518.02 C423.41,519.07 424.01,520.58 424.58,521.94 C425.15,523.29 426.04,524.65 426.65,526.16 C427.26,527.67 428.08,529.68 428.25,530.98 C428.42,532.29 427.88,532.99 427.65,534.00 C427.42,535.00 427.02,536.16 426.85,537.01 C426.68,537.87 426.98,538.27 426.65,539.12 C426.32,539.98 425.40,541.13 424.85,542.14 C424.30,543.14 423.74,543.90 423.35,545.15 C422.96,546.41 422.66,548.92 422.50,549.67 C422.34,550.43 422.56,550.43 422.40,549.67 C422.24,548.92 421.94,546.41 421.55,545.15 C421.16,543.90 420.60,543.14 420.05,542.14 C419.50,541.13 418.58,539.98 418.25,539.12 C417.92,538.27 418.22,537.87 418.05,537.01 C417.88,536.16 417.48,535.00 417.25,534.00 C417.02,532.99 416.48,532.29 416.65,530.98 C416.82,529.68 417.64,527.67 418.25,526.16 C418.86,524.65 419.75,523.29 420.32,521.94 C420.89,520.58 421.49,519.07 421.67,518.02 C421.85,516.96 421.37,516.76 421.41,515.61 C421.45,514.45 421.80,512.44 421.93,511.08 C422.06,509.73 422.11,508.82 422.19,507.46 C422.27,506.11 422.35,503.70 422.40,502.94 C422.45,502.19 422.45,502.19 422.50,502.94Z"/></clipPath>
<g clip-path="url(#vc1)">
<line x1="414.45" y1="531.89" x2="430.45" y2="531.89" stroke="#5560b0" stroke-width="1.3"/>
<line x1="414.45" y1="526.46" x2="430.45" y2="526.46" stroke="#000" stroke-opacity="0.35" stroke-width="0.6"/>
<line x1="414.45" y1="537.31" x2="430.45" y2="537.31" stroke="#000" stroke-opacity="0.35" stroke-width="0.6"/>
</g>
<line x1="422.45" y1="594.9" x2="422.45" y2="601.3" stroke="#000" stroke-width="2"/>
<path d="M445.05,502.34 C445.10,503.19 445.16,505.86 445.26,507.46 C445.36,509.07 445.50,510.48 445.65,511.99 C445.80,513.50 445.90,515.00 446.17,516.51 C446.44,518.02 446.82,519.53 447.30,521.03 C447.77,522.54 448.52,524.05 449.00,525.55 C449.48,527.06 449.83,528.72 450.20,530.08 C450.57,531.43 451.23,532.54 451.20,533.70 C451.17,534.85 450.50,535.96 450.00,537.01 C449.50,538.07 448.80,539.02 448.20,540.03 C447.60,541.03 446.83,542.09 446.40,543.04 C445.97,544.00 445.83,544.90 445.60,545.76 C445.38,546.61 445.16,547.77 445.05,548.17 C444.94,548.57 445.06,548.57 444.95,548.17 C444.84,547.77 444.62,546.61 444.40,545.76 C444.17,544.90 444.03,544.00 443.60,543.04 C443.17,542.09 442.40,541.03 441.80,540.03 C441.20,539.02 440.50,538.07 440.00,537.01 C439.50,535.96 438.83,534.85 438.80,533.70 C438.77,532.54 439.43,531.43 439.80,530.08 C440.17,528.72 440.52,527.06 441.00,525.55 C441.48,524.05 442.23,522.54 442.70,521.03 C443.18,519.53 443.56,518.02 443.83,516.51 C444.10,515.00 444.20,513.50 444.35,511.99 C444.50,510.48 444.64,509.07 444.74,507.46 C444.84,505.86 444.90,503.19 444.95,502.34 C445.00,501.49 445.00,501.49 445.05,502.34Z" fill="#8fb6c5" stroke="#000" stroke-width="2.1" stroke-linejoin="round"/>
<clipPath id="vc2"><path d="M445.05,502.34 C445.10,503.19 445.16,505.86 445.26,507.46 C445.36,509.07 445.50,510.48 445.65,511.99 C445.80,513.50 445.90,515.00 446.17,516.51 C446.44,518.02 446.82,519.53 447.30,521.03 C447.77,522.54 448.52,524.05 449.00,525.55 C449.48,527.06 449.83,528.72 450.20,530.08 C450.57,531.43 451.23,532.54 451.20,533.70 C451.17,534.85 450.50,535.96 450.00,537.01 C449.50,538.07 448.80,539.02 448.20,540.03 C447.60,541.03 446.83,542.09 446.40,543.04 C445.97,544.00 445.83,544.90 445.60,545.76 C445.38,546.61 445.16,547.77 445.05,548.17 C444.94,548.57 445.06,548.57 444.95,548.17 C444.84,547.77 444.62,546.61 444.40,545.76 C444.17,544.90 444.03,544.00 443.60,543.04 C443.17,542.09 442.40,541.03 441.80,540.03 C441.20,539.02 440.50,538.07 440.00,537.01 C439.50,535.96 438.83,534.85 438.80,533.70 C438.77,532.54 439.43,531.43 439.80,530.08 C440.17,528.72 440.52,527.06 441.00,525.55 C441.48,524.05 442.23,522.54 442.70,521.03 C443.18,519.53 443.56,518.02 443.83,516.51 C444.10,515.00 444.20,513.50 444.35,511.99 C444.50,510.48 444.64,509.07 444.74,507.46 C444.84,505.86 444.90,503.19 444.95,502.34 C445.00,501.49 445.00,501.49 445.05,502.34Z"/></clipPath>
<g clip-path="url(#vc2)">
<line x1="437.0" y1="530.08" x2="453.0" y2="530.08" stroke="#3f8aa0" stroke-width="1.3"/>
<line x1="437.0" y1="524.65" x2="453.0" y2="524.65" stroke="#000" stroke-opacity="0.35" stroke-width="0.6"/>
<line x1="437.0" y1="535.50" x2="453.0" y2="535.50" stroke="#000" stroke-opacity="0.35" stroke-width="0.6"/>
</g>
<line x1="445.0" y1="594.9" x2="445.0" y2="601.3" stroke="#000" stroke-width="2"/>
<path d="M467.60,501.43 C467.65,502.34 467.73,505.10 467.81,506.86 C467.89,508.62 467.92,510.48 468.07,511.99 C468.22,513.49 468.63,514.65 468.72,515.91 C468.81,517.16 468.38,518.32 468.59,519.52 C468.80,520.73 469.38,521.74 470.01,523.14 C470.64,524.55 471.76,526.31 472.35,527.97 C472.94,529.63 473.45,531.74 473.55,533.09 C473.65,534.45 473.28,535.10 472.95,536.11 C472.62,537.11 472.08,538.12 471.55,539.12 C471.02,540.13 470.28,541.13 469.75,542.14 C469.22,543.14 468.71,544.05 468.35,545.15 C467.99,546.26 467.74,548.17 467.60,548.77 C467.46,549.37 467.64,549.37 467.50,548.77 C467.36,548.17 467.11,546.26 466.75,545.15 C466.39,544.05 465.88,543.14 465.35,542.14 C464.82,541.13 464.08,540.13 463.55,539.12 C463.02,538.12 462.48,537.11 462.15,536.11 C461.82,535.10 461.45,534.45 461.55,533.09 C461.65,531.74 462.16,529.63 462.75,527.97 C463.34,526.31 464.46,524.55 465.09,523.14 C465.72,521.74 466.29,520.73 466.51,519.52 C466.72,518.32 466.29,517.16 466.38,515.91 C466.47,514.65 466.88,513.49 467.03,511.99 C467.18,510.48 467.21,508.62 467.29,506.86 C467.37,505.10 467.45,502.34 467.50,501.43 C467.55,500.53 467.55,500.53 467.60,501.43Z" fill="#8dd1bd" stroke="#000" stroke-width="2.1" stroke-linejoin="round"/>
<clipPath id="vc3"><path d="M467.60,501.43 C467.65,502.34 467.73,505.10 467.81,506.86 C467.89,508.62 467.92,510.48 468.07,511.99 C468.22,513.49 468.63,514.65 468.72,515.91 C468.81,517.16 468.38,518.32 468.59,519.52 C468.80,520.73 469.38,521.74 470.01,523.14 C470.64,524.55 471.76,526.31 472.35,527.97 C472.94,529.63 473.45,531.74 473.55,533.09 C473.65,534.45 473.28,535.10 472.95,536.11 C472.62,537.11 472.08,538.12 471.55,539.12 C471.02,540.13 470.28,541.13 469.75,542.14 C469.22,543.14 468.71,544.05 468.35,545.15 C467.99,546.26 467.74,548.17 467.60,548.77 C467.46,549.37 467.64,549.37 467.50,548.77 C467.36,548.17 467.11,546.26 466.75,545.15 C466.39,544.05 465.88,543.14 465.35,542.14 C464.82,541.13 464.08,540.13 463.55,539.12 C463.02,538.12 462.48,537.11 462.15,536.11 C461.82,535.10 461.45,534.45 461.55,533.09 C461.65,531.74 462.16,529.63 462.75,527.97 C463.34,526.31 464.46,524.55 465.09,523.14 C465.72,521.74 466.29,520.73 466.51,519.52 C466.72,518.32 466.29,517.16 466.38,515.91 C466.47,514.65 466.88,513.49 467.03,511.99 C467.18,510.48 467.21,508.62 467.29,506.86 C467.37,505.10 467.45,502.34 467.50,501.43 C467.55,500.53 467.55,500.53 467.60,501.43Z"/></clipPath>
<g clip-path="url(#vc3)">
<line x1="459.54999999999995" y1="533.09" x2="475.54999999999995" y2="533.09" stroke="#28a88a" stroke-width="1.3"/>
<line x1="459.54999999999995" y1="527.67" x2="475.54999999999995" y2="527.67" stroke="#000" stroke-opacity="0.35" stroke-width="0.6"/>
<line x1="459.54999999999995" y1="538.52" x2="475.54999999999995" y2="538.52" stroke="#000" stroke-opacity="0.35" stroke-width="0.6"/>
</g>
<line x1="467.54999999999995" y1="594.9" x2="467.54999999999995" y2="601.3" stroke="#000" stroke-width="2"/>
<path d="M490.15,500.83 C490.20,501.69 490.27,504.25 490.36,505.96 C490.45,507.67 490.55,509.42 490.68,511.08 C490.81,512.74 490.83,514.40 491.14,515.91 C491.45,517.41 492.00,518.62 492.56,520.13 C493.12,521.64 493.94,523.29 494.50,524.95 C495.06,526.61 495.62,528.72 495.90,530.08 C496.18,531.43 496.37,532.09 496.20,533.09 C496.03,534.10 495.42,535.10 494.90,536.11 C494.38,537.11 493.67,538.12 493.10,539.12 C492.53,540.13 491.90,541.18 491.50,542.14 C491.10,543.09 490.92,544.10 490.70,544.85 C490.48,545.60 490.26,546.36 490.15,546.66 C490.04,546.96 490.16,546.96 490.05,546.66 C489.94,546.36 489.72,545.60 489.50,544.85 C489.27,544.10 489.10,543.09 488.70,542.14 C488.30,541.18 487.67,540.13 487.10,539.12 C486.53,538.12 485.82,537.11 485.30,536.11 C484.78,535.10 484.17,534.10 484.00,533.09 C483.83,532.09 484.02,531.43 484.30,530.08 C484.58,528.72 485.14,526.61 485.70,524.95 C486.26,523.29 487.08,521.64 487.64,520.13 C488.20,518.62 488.75,517.41 489.06,515.91 C489.37,514.40 489.38,512.74 489.51,511.08 C489.64,509.42 489.75,507.67 489.84,505.96 C489.93,504.25 490.00,501.69 490.05,500.83 C490.10,499.98 490.10,499.98 490.15,500.83Z" fill="#b6e3a1" stroke="#000" stroke-width="2.1" stroke-linejoin="round"/>
<clipPath id="vc4"><path d="M490.15,500.83 C490.20,501.69 490.27,504.25 490.36,505.96 C490.45,507.67 490.55,509.42 490.68,511.08 C490.81,512.74 490.83,514.40 491.14,515.91 C491.45,517.41 492.00,518.62 492.56,520.13 C493.12,521.64 493.94,523.29 494.50,524.95 C495.06,526.61 495.62,528.72 495.90,530.08 C496.18,531.43 496.37,532.09 496.20,533.09 C496.03,534.10 495.42,535.10 494.90,536.11 C494.38,537.11 493.67,538.12 493.10,539.12 C492.53,540.13 491.90,541.18 491.50,542.14 C491.10,543.09 490.92,544.10 490.70,544.85 C490.48,545.60 490.26,546.36 490.15,546.66 C490.04,546.96 490.16,546.96 490.05,546.66 C489.94,546.36 489.72,545.60 489.50,544.85 C489.27,544.10 489.10,543.09 488.70,542.14 C488.30,541.18 487.67,540.13 487.10,539.12 C486.53,538.12 485.82,537.11 485.30,536.11 C484.78,535.10 484.17,534.10 484.00,533.09 C483.83,532.09 484.02,531.43 484.30,530.08 C484.58,528.72 485.14,526.61 485.70,524.95 C486.26,523.29 487.08,521.64 487.64,520.13 C488.20,518.62 488.75,517.41 489.06,515.91 C489.37,514.40 489.38,512.74 489.51,511.08 C489.64,509.42 489.75,507.67 489.84,505.96 C489.93,504.25 490.00,501.69 490.05,500.83 C490.10,499.98 490.10,499.98 490.15,500.83Z"/></clipPath>
<g clip-path="url(#vc4)">
<line x1="482.09999999999997" y1="531.59" x2="498.09999999999997" y2="531.59" stroke="#7fcf63" stroke-width="1.3"/>
<line x1="482.09999999999997" y1="526.16" x2="498.09999999999997" y2="526.16" stroke="#000" stroke-opacity="0.35" stroke-width="0.6"/>
<line x1="482.09999999999997" y1="537.01" x2="498.09999999999997" y2="537.01" stroke="#000" stroke-opacity="0.35" stroke-width="0.6"/>
</g>
<line x1="490.09999999999997" y1="594.9" x2="490.09999999999997" y2="601.3" stroke="#000" stroke-width="2"/>
<path d="M512.70,499.93 C512.75,500.78 512.82,503.29 512.91,505.05 C513.00,506.81 513.06,508.67 513.24,510.48 C513.41,512.29 513.58,514.15 513.95,515.91 C514.32,517.67 514.89,519.42 515.44,521.03 C515.99,522.64 516.76,524.05 517.25,525.55 C517.74,527.06 518.10,528.82 518.35,530.08 C518.60,531.33 518.83,532.09 518.75,533.09 C518.67,534.10 518.30,535.10 517.85,536.11 C517.40,537.11 516.67,538.12 516.05,539.12 C515.43,540.13 514.62,541.18 514.15,542.14 C513.68,543.09 513.49,543.85 513.25,544.85 C513.01,545.86 512.81,547.61 512.70,548.17 C512.59,548.72 512.71,548.72 512.60,548.17 C512.49,547.61 512.29,545.86 512.05,544.85 C511.81,543.85 511.62,543.09 511.15,542.14 C510.68,541.18 509.87,540.13 509.25,539.12 C508.63,538.12 507.90,537.11 507.45,536.11 C507.00,535.10 506.63,534.10 506.55,533.09 C506.47,532.09 506.70,531.33 506.95,530.08 C507.20,528.82 507.56,527.06 508.05,525.55 C508.54,524.05 509.31,522.64 509.86,521.03 C510.41,519.42 510.98,517.67 511.35,515.91 C511.72,514.15 511.89,512.29 512.06,510.48 C512.24,508.67 512.30,506.81 512.39,505.05 C512.48,503.29 512.55,500.78 512.60,499.93 C512.65,499.07 512.65,499.07 512.70,499.93Z" fill="#fde725" stroke="#000" stroke-width="2.1" stroke-linejoin="round"/>
<clipPath id="vc5"><path d="M512.70,499.93 C512.75,500.78 512.82,503.29 512.91,505.05 C513.00,506.81 513.06,508.67 513.24,510.48 C513.41,512.29 513.58,514.15 513.95,515.91 C514.32,517.67 514.89,519.42 515.44,521.03 C515.99,522.64 516.76,524.05 517.25,525.55 C517.74,527.06 518.10,528.82 518.35,530.08 C518.60,531.33 518.83,532.09 518.75,533.09 C518.67,534.10 518.30,535.10 517.85,536.11 C517.40,537.11 516.67,538.12 516.05,539.12 C515.43,540.13 514.62,541.18 514.15,542.14 C513.68,543.09 513.49,543.85 513.25,544.85 C513.01,545.86 512.81,547.61 512.70,548.17 C512.59,548.72 512.71,548.72 512.60,548.17 C512.49,547.61 512.29,545.86 512.05,544.85 C511.81,543.85 511.62,543.09 511.15,542.14 C510.68,541.18 509.87,540.13 509.25,539.12 C508.63,538.12 507.90,537.11 507.45,536.11 C507.00,535.10 506.63,534.10 506.55,533.09 C506.47,532.09 506.70,531.33 506.95,530.08 C507.20,528.82 507.56,527.06 508.05,525.55 C508.54,524.05 509.31,522.64 509.86,521.03 C510.41,519.42 510.98,517.67 511.35,515.91 C511.72,514.15 511.89,512.29 512.06,510.48 C512.24,508.67 512.30,506.81 512.39,505.05 C512.48,503.29 512.55,500.78 512.60,499.93 C512.65,499.07 512.65,499.07 512.70,499.93Z"/></clipPath>
<g clip-path="url(#vc5)">
<line x1="504.65" y1="534.60" x2="520.65" y2="534.60" stroke="#e0c200" stroke-width="1.3"/>
<line x1="504.65" y1="529.17" x2="520.65" y2="529.17" stroke="#000" stroke-opacity="0.35" stroke-width="0.6"/>
<line x1="504.65" y1="540.03" x2="520.65" y2="540.03" stroke="#000" stroke-opacity="0.35" stroke-width="0.6"/>
</g>
<line x1="512.65" y1="594.9" x2="512.65" y2="601.3" stroke="#000" stroke-width="2"/>
<path d="M535.25,499.63 C535.30,500.43 535.38,502.89 535.46,504.45 C535.54,506.01 535.59,507.46 535.72,508.97 C535.85,510.48 535.98,511.99 536.24,513.50 C536.50,515.00 536.77,516.61 537.28,518.02 C537.79,519.42 538.68,520.68 539.30,521.94 C539.92,523.19 540.75,524.35 541.00,525.55 C541.25,526.76 540.97,528.17 540.80,529.17 C540.63,530.18 539.93,530.68 540.00,531.59 C540.07,532.49 541.07,533.60 541.20,534.60 C541.33,535.61 541.23,536.61 540.80,537.62 C540.37,538.62 539.28,539.62 538.60,540.63 C537.92,541.63 537.17,542.74 536.70,543.64 C536.23,544.55 536.04,545.40 535.80,546.06 C535.56,546.71 535.36,547.31 535.25,547.56 C535.14,547.82 535.26,547.82 535.15,547.56 C535.04,547.31 534.84,546.71 534.60,546.06 C534.36,545.40 534.17,544.55 533.70,543.64 C533.23,542.74 532.48,541.63 531.80,540.63 C531.12,539.62 530.03,538.62 529.60,537.62 C529.17,536.61 529.07,535.61 529.20,534.60 C529.33,533.60 530.33,532.49 530.40,531.59 C530.47,530.68 529.77,530.18 529.60,529.17 C529.43,528.17 529.15,526.76 529.40,525.55 C529.65,524.35 530.48,523.19 531.10,521.94 C531.72,520.68 532.61,519.42 533.12,518.02 C533.63,516.61 533.90,515.00 534.16,513.50 C534.42,511.99 534.55,510.48 534.68,508.97 C534.81,507.46 534.86,506.01 534.94,504.45 C535.02,502.89 535.10,500.43 535.15,499.63 C535.20,498.82 535.20,498.82 535.25,499.63Z" fill="#440154" stroke="#000" stroke-width="2.1" stroke-linejoin="round"/>
<clipPath id="vc6"><path d="M535.25,499.63 C535.30,500.43 535.38,502.89 535.46,504.45 C535.54,506.01 535.59,507.46 535.72,508.97 C535.85,510.48 535.98,511.99 536.24,513.50 C536.50,515.00 536.77,516.61 537.28,518.02 C537.79,519.42 538.68,520.68 539.30,521.94 C539.92,523.19 540.75,524.35 541.00,525.55 C541.25,526.76 540.97,528.17 540.80,529.17 C540.63,530.18 539.93,530.68 540.00,531.59 C540.07,532.49 541.07,533.60 541.20,534.60 C541.33,535.61 541.23,536.61 540.80,537.62 C540.37,538.62 539.28,539.62 538.60,540.63 C537.92,541.63 537.17,542.74 536.70,543.64 C536.23,544.55 536.04,545.40 535.80,546.06 C535.56,546.71 535.36,547.31 535.25,547.56 C535.14,547.82 535.26,547.82 535.15,547.56 C535.04,547.31 534.84,546.71 534.60,546.06 C534.36,545.40 534.17,544.55 533.70,543.64 C533.23,542.74 532.48,541.63 531.80,540.63 C531.12,539.62 530.03,538.62 529.60,537.62 C529.17,536.61 529.07,535.61 529.20,534.60 C529.33,533.60 530.33,532.49 530.40,531.59 C530.47,530.68 529.77,530.18 529.60,529.17 C529.43,528.17 529.15,526.76 529.40,525.55 C529.65,524.35 530.48,523.19 531.10,521.94 C531.72,520.68 532.61,519.42 533.12,518.02 C533.63,516.61 533.90,515.00 534.16,513.50 C534.42,511.99 534.55,510.48 534.68,508.97 C534.81,507.46 534.86,506.01 534.94,504.45 C535.02,502.89 535.10,500.43 535.15,499.63 C535.20,498.82 535.20,498.82 535.25,499.63Z"/></clipPath>
<g clip-path="url(#vc6)">
<line x1="527.2" y1="533.70" x2="543.2" y2="533.70" stroke="#2a0038" stroke-width="1.3"/>
<line x1="527.2" y1="528.27" x2="543.2" y2="528.27" stroke="#000" stroke-opacity="0.35" stroke-width="0.6"/>
<line x1="527.2" y1="539.12" x2="543.2" y2="539.12" stroke="#000" stroke-opacity="0.35" stroke-width="0.6"/>
</g>
<line x1="535.2" y1="594.9" x2="535.2" y2="601.3" stroke="#000" stroke-width="2"/>
<path d="M557.80,502.34 C557.85,503.19 557.93,505.71 558.01,507.46 C558.09,509.22 558.14,511.13 558.27,512.89 C558.40,514.65 558.52,516.51 558.79,518.02 C559.06,519.52 559.42,520.68 559.88,521.94 C560.34,523.19 561.04,524.20 561.55,525.55 C562.06,526.91 562.58,528.72 562.95,530.08 C563.32,531.43 563.68,532.59 563.75,533.70 C563.82,534.80 563.72,535.71 563.35,536.71 C562.98,537.72 562.18,538.72 561.55,539.73 C560.92,540.73 560.08,541.79 559.55,542.74 C559.02,543.70 558.64,544.65 558.35,545.45 C558.06,546.26 557.91,547.21 557.80,547.56 C557.69,547.92 557.81,547.92 557.70,547.56 C557.59,547.21 557.44,546.26 557.15,545.45 C556.86,544.65 556.48,543.70 555.95,542.74 C555.42,541.79 554.58,540.73 553.95,539.73 C553.32,538.72 552.52,537.72 552.15,536.71 C551.78,535.71 551.68,534.80 551.75,533.70 C551.82,532.59 552.18,531.43 552.55,530.08 C552.92,528.72 553.44,526.91 553.95,525.55 C554.46,524.20 555.16,523.19 555.62,521.94 C556.08,520.68 556.44,519.52 556.71,518.02 C556.98,516.51 557.10,514.65 557.23,512.89 C557.36,511.13 557.41,509.22 557.49,507.46 C557.57,505.71 557.65,503.19 557.70,502.34 C557.75,501.49 557.75,501.49 557.80,502.34Z" fill="#3e4a89" stroke="#000" stroke-width="2.1" stroke-linejoin="round"/>
<clipPath id="vc7"><path d="M557.80,502.34 C557.85,503.19 557.93,505.71 558.01,507.46 C558.09,509.22 558.14,511.13 558.27,512.89 C558.40,514.65 558.52,516.51 558.79,518.02 C559.06,519.52 559.42,520.68 559.88,521.94 C560.34,523.19 561.04,524.20 561.55,525.55 C562.06,526.91 562.58,528.72 562.95,530.08 C563.32,531.43 563.68,532.59 563.75,533.70 C563.82,534.80 563.72,535.71 563.35,536.71 C562.98,537.72 562.18,538.72 561.55,539.73 C560.92,540.73 560.08,541.79 559.55,542.74 C559.02,543.70 558.64,544.65 558.35,545.45 C558.06,546.26 557.91,547.21 557.80,547.56 C557.69,547.92 557.81,547.92 557.70,547.56 C557.59,547.21 557.44,546.26 557.15,545.45 C556.86,544.65 556.48,543.70 555.95,542.74 C555.42,541.79 554.58,540.73 553.95,539.73 C553.32,538.72 552.52,537.72 552.15,536.71 C551.78,535.71 551.68,534.80 551.75,533.70 C551.82,532.59 552.18,531.43 552.55,530.08 C552.92,528.72 553.44,526.91 553.95,525.55 C554.46,524.20 555.16,523.19 555.62,521.94 C556.08,520.68 556.44,519.52 556.71,518.02 C556.98,516.51 557.10,514.65 557.23,512.89 C557.36,511.13 557.41,509.22 557.49,507.46 C557.57,505.71 557.65,503.19 557.70,502.34 C557.75,501.49 557.75,501.49 557.80,502.34Z"/></clipPath>
<g clip-path="url(#vc7)">
<line x1="549.75" y1="534.60" x2="565.75" y2="534.60" stroke="#2c3a78" stroke-width="1.3"/>
<line x1="549.75" y1="529.17" x2="565.75" y2="529.17" stroke="#000" stroke-opacity="0.35" stroke-width="0.6"/>
<line x1="549.75" y1="540.03" x2="565.75" y2="540.03" stroke="#000" stroke-opacity="0.35" stroke-width="0.6"/>
</g>
<line x1="557.75" y1="594.9" x2="557.75" y2="601.3" stroke="#000" stroke-width="2"/>
<path d="M580.35,499.63 C580.40,500.43 580.48,502.74 580.56,504.45 C580.64,506.16 580.67,507.97 580.82,509.88 C580.97,511.79 581.09,514.05 581.47,515.91 C581.85,517.77 582.48,519.42 583.09,521.03 C583.69,522.64 584.56,524.05 585.10,525.55 C585.64,527.06 586.05,528.82 586.30,530.08 C586.55,531.33 586.67,532.09 586.60,533.09 C586.53,534.10 586.32,535.10 585.90,536.11 C585.48,537.11 584.73,538.12 584.10,539.12 C583.47,540.13 582.63,541.13 582.10,542.14 C581.57,543.14 581.19,544.15 580.90,545.15 C580.61,546.16 580.46,547.66 580.35,548.17 C580.24,548.67 580.36,548.67 580.25,548.17 C580.14,547.66 579.99,546.16 579.70,545.15 C579.41,544.15 579.03,543.14 578.50,542.14 C577.97,541.13 577.13,540.13 576.50,539.12 C575.87,538.12 575.12,537.11 574.70,536.11 C574.28,535.10 574.07,534.10 574.00,533.09 C573.93,532.09 574.05,531.33 574.30,530.08 C574.55,528.82 574.96,527.06 575.50,525.55 C576.04,524.05 576.91,522.64 577.51,521.03 C578.12,519.42 578.75,517.77 579.13,515.91 C579.51,514.05 579.63,511.79 579.78,509.88 C579.93,507.97 579.96,506.16 580.04,504.45 C580.12,502.74 580.20,500.43 580.25,499.63 C580.30,498.82 580.30,498.82 580.35,499.63Z" fill="#2a788e" stroke="#000" stroke-width="2.1" stroke-linejoin="round"/>
<clipPath id="vc8"><path d="M580.35,499.63 C580.40,500.43 580.48,502.74 580.56,504.45 C580.64,506.16 580.67,507.97 580.82,509.88 C580.97,511.79 581.09,514.05 581.47,515.91 C581.85,517.77 582.48,519.42 583.09,521.03 C583.69,522.64 584.56,524.05 585.10,525.55 C585.64,527.06 586.05,528.82 586.30,530.08 C586.55,531.33 586.67,532.09 586.60,533.09 C586.53,534.10 586.32,535.10 585.90,536.11 C585.48,537.11 584.73,538.12 584.10,539.12 C583.47,540.13 582.63,541.13 582.10,542.14 C581.57,543.14 581.19,544.15 580.90,545.15 C580.61,546.16 580.46,547.66 580.35,548.17 C580.24,548.67 580.36,548.67 580.25,548.17 C580.14,547.66 579.99,546.16 579.70,545.15 C579.41,544.15 579.03,543.14 578.50,542.14 C577.97,541.13 577.13,540.13 576.50,539.12 C575.87,538.12 575.12,537.11 574.70,536.11 C574.28,535.10 574.07,534.10 574.00,533.09 C573.93,532.09 574.05,531.33 574.30,530.08 C574.55,528.82 574.96,527.06 575.50,525.55 C576.04,524.05 576.91,522.64 577.51,521.03 C578.12,519.42 578.75,517.77 579.13,515.91 C579.51,514.05 579.63,511.79 579.78,509.88 C579.93,507.97 579.96,506.16 580.04,504.45 C580.12,502.74 580.20,500.43 580.25,499.63 C580.30,498.82 580.30,498.82 580.35,499.63Z"/></clipPath>
<g clip-path="url(#vc8)">
<line x1="572.3" y1="532.49" x2="588.3" y2="532.49" stroke="#1f6578" stroke-width="1.3"/>
<line x1="572.3" y1="527.06" x2="588.3" y2="527.06" stroke="#000" stroke-opacity="0.35" stroke-width="0.6"/>
<line x1="572.3" y1="537.92" x2="588.3" y2="537.92" stroke="#000" stroke-opacity="0.35" stroke-width="0.6"/>
</g>
<line x1="580.3" y1="594.9" x2="580.3" y2="601.3" stroke="#000" stroke-width="2"/>
<path d="M602.90,502.94 C602.95,503.70 603.02,505.81 603.11,507.46 C603.20,509.12 603.28,511.13 603.44,512.89 C603.59,514.65 603.63,516.41 604.02,518.02 C604.41,519.63 605.10,521.03 605.80,522.54 C606.51,524.05 607.78,525.81 608.25,527.06 C608.72,528.32 608.82,529.07 608.65,530.08 C608.48,531.08 607.58,532.09 607.25,533.09 C606.92,534.10 606.72,535.10 606.65,536.11 C606.58,537.11 607.12,538.22 606.85,539.12 C606.58,540.03 605.58,540.63 605.05,541.53 C604.52,542.44 604.01,543.29 603.65,544.55 C603.29,545.81 603.04,548.32 602.90,549.07 C602.76,549.83 602.94,549.83 602.80,549.07 C602.66,548.32 602.41,545.81 602.05,544.55 C601.69,543.29 601.18,542.44 600.65,541.53 C600.12,540.63 599.12,540.03 598.85,539.12 C598.58,538.22 599.12,537.11 599.05,536.11 C598.98,535.10 598.78,534.10 598.45,533.09 C598.12,532.09 597.22,531.08 597.05,530.08 C596.88,529.07 596.98,528.32 597.45,527.06 C597.92,525.81 599.19,524.05 599.90,522.54 C600.60,521.03 601.29,519.63 601.68,518.02 C602.07,516.41 602.11,514.65 602.26,512.89 C602.42,511.13 602.50,509.12 602.59,507.46 C602.68,505.81 602.75,503.70 602.80,502.94 C602.85,502.19 602.85,502.19 602.90,502.94Z" fill="#22a884" stroke="#000" stroke-width="2.1" stroke-linejoin="round"/>
<clipPath id="vc9"><path d="M602.90,502.94 C602.95,503.70 603.02,505.81 603.11,507.46 C603.20,509.12 603.28,511.13 603.44,512.89 C603.59,514.65 603.63,516.41 604.02,518.02 C604.41,519.63 605.10,521.03 605.80,522.54 C606.51,524.05 607.78,525.81 608.25,527.06 C608.72,528.32 608.82,529.07 608.65,530.08 C608.48,531.08 607.58,532.09 607.25,533.09 C606.92,534.10 606.72,535.10 606.65,536.11 C606.58,537.11 607.12,538.22 606.85,539.12 C606.58,540.03 605.58,540.63 605.05,541.53 C604.52,542.44 604.01,543.29 603.65,544.55 C603.29,545.81 603.04,548.32 602.90,549.07 C602.76,549.83 602.94,549.83 602.80,549.07 C602.66,548.32 602.41,545.81 602.05,544.55 C601.69,543.29 601.18,542.44 600.65,541.53 C600.12,540.63 599.12,540.03 598.85,539.12 C598.58,538.22 599.12,537.11 599.05,536.11 C598.98,535.10 598.78,534.10 598.45,533.09 C598.12,532.09 597.22,531.08 597.05,530.08 C596.88,529.07 596.98,528.32 597.45,527.06 C597.92,525.81 599.19,524.05 599.90,522.54 C600.60,521.03 601.29,519.63 601.68,518.02 C602.07,516.41 602.11,514.65 602.26,512.89 C602.42,511.13 602.50,509.12 602.59,507.46 C602.68,505.81 602.75,503.70 602.80,502.94 C602.85,502.19 602.85,502.19 602.90,502.94Z"/></clipPath>
<g clip-path="url(#vc9)">
<line x1="594.85" y1="530.98" x2="610.85" y2="530.98" stroke="#16876a" stroke-width="1.3"/>
<line x1="594.85" y1="525.55" x2="610.85" y2="525.55" stroke="#000" stroke-opacity="0.35" stroke-width="0.6"/>
<line x1="594.85" y1="536.41" x2="610.85" y2="536.41" stroke="#000" stroke-opacity="0.35" stroke-width="0.6"/>
</g>
<line x1="602.85" y1="594.9" x2="602.85" y2="601.3" stroke="#000" stroke-width="2"/>
<path d="M625.45,499.93 C625.50,500.78 625.58,503.29 625.66,505.05 C625.74,506.81 625.77,508.67 625.92,510.48 C626.07,512.29 626.22,514.15 626.57,515.91 C626.92,517.67 627.45,519.42 628.02,521.03 C628.60,522.64 629.47,524.05 630.00,525.55 C630.53,527.06 630.98,528.82 631.20,530.08 C631.42,531.33 631.40,532.09 631.30,533.09 C631.20,534.10 630.98,535.10 630.60,536.11 C630.22,537.11 629.60,538.12 629.00,539.12 C628.40,540.13 627.50,541.13 627.00,542.14 C626.50,543.14 626.26,544.00 626.00,545.15 C625.74,546.31 625.56,548.42 625.45,549.07 C625.34,549.73 625.46,549.73 625.35,549.07 C625.24,548.42 625.06,546.31 624.80,545.15 C624.54,544.00 624.30,543.14 623.80,542.14 C623.30,541.13 622.40,540.13 621.80,539.12 C621.20,538.12 620.58,537.11 620.20,536.11 C619.82,535.10 619.60,534.10 619.50,533.09 C619.40,532.09 619.38,531.33 619.60,530.08 C619.82,528.82 620.27,527.06 620.80,525.55 C621.33,524.05 622.20,522.64 622.78,521.03 C623.35,519.42 623.88,517.67 624.23,515.91 C624.58,514.15 624.73,512.29 624.88,510.48 C625.03,508.67 625.06,506.81 625.14,505.05 C625.22,503.29 625.30,500.78 625.35,499.93 C625.40,499.07 625.40,499.07 625.45,499.93Z" fill="#7ad151" stroke="#000" stroke-width="2.1" stroke-linejoin="round"/>
<clipPath id="vc10"><path d="M625.45,499.93 C625.50,500.78 625.58,503.29 625.66,505.05 C625.74,506.81 625.77,508.67 625.92,510.48 C626.07,512.29 626.22,514.15 626.57,515.91 C626.92,517.67 627.45,519.42 628.02,521.03 C628.60,522.64 629.47,524.05 630.00,525.55 C630.53,527.06 630.98,528.82 631.20,530.08 C631.42,531.33 631.40,532.09 631.30,533.09 C631.20,534.10 630.98,535.10 630.60,536.11 C630.22,537.11 629.60,538.12 629.00,539.12 C628.40,540.13 627.50,541.13 627.00,542.14 C626.50,543.14 626.26,544.00 626.00,545.15 C625.74,546.31 625.56,548.42 625.45,549.07 C625.34,549.73 625.46,549.73 625.35,549.07 C625.24,548.42 625.06,546.31 624.80,545.15 C624.54,544.00 624.30,543.14 623.80,542.14 C623.30,541.13 622.40,540.13 621.80,539.12 C621.20,538.12 620.58,537.11 620.20,536.11 C619.82,535.10 619.60,534.10 619.50,533.09 C619.40,532.09 619.38,531.33 619.60,530.08 C619.82,528.82 620.27,527.06 620.80,525.55 C621.33,524.05 622.20,522.64 622.78,521.03 C623.35,519.42 623.88,517.67 624.23,515.91 C624.58,514.15 624.73,512.29 624.88,510.48 C625.03,508.67 625.06,506.81 625.14,505.05 C625.22,503.29 625.30,500.78 625.35,499.93 C625.40,499.07 625.40,499.07 625.45,499.93Z"/></clipPath>
<g clip-path="url(#vc10)">
<line x1="617.4" y1="533.09" x2="633.4" y2="533.09" stroke="#5fb33e" stroke-width="1.3"/>
<line x1="617.4" y1="527.67" x2="633.4" y2="527.67" stroke="#000" stroke-opacity="0.35" stroke-width="0.6"/>
<line x1="617.4" y1="538.52" x2="633.4" y2="538.52" stroke="#000" stroke-opacity="0.35" stroke-width="0.6"/>
</g>
<line x1="625.4" y1="594.9" x2="625.4" y2="601.3" stroke="#000" stroke-width="2"/>
<path d="M648.00,500.53 C648.05,501.43 648.14,504.05 648.21,505.96 C648.28,507.87 648.32,509.98 648.41,511.99 C648.49,514.00 648.51,516.26 648.73,518.02 C648.95,519.78 649.28,521.03 649.75,522.54 C650.22,524.05 651.02,525.55 651.55,527.06 C652.08,528.57 652.62,530.33 652.95,531.59 C653.28,532.84 653.62,533.70 653.55,534.60 C653.48,535.50 652.98,536.11 652.55,537.01 C652.12,537.92 651.48,539.02 650.95,540.03 C650.42,541.03 649.75,542.14 649.35,543.04 C648.95,543.95 648.78,544.75 648.55,545.45 C648.33,546.16 648.11,546.96 648.00,547.26 C647.89,547.56 648.01,547.56 647.90,547.26 C647.79,546.96 647.58,546.16 647.35,545.45 C647.12,544.75 646.95,543.95 646.55,543.04 C646.15,542.14 645.48,541.03 644.95,540.03 C644.42,539.02 643.78,537.92 643.35,537.01 C642.92,536.11 642.42,535.50 642.35,534.60 C642.28,533.70 642.62,532.84 642.95,531.59 C643.28,530.33 643.82,528.57 644.35,527.06 C644.88,525.55 645.68,524.05 646.15,522.54 C646.62,521.03 646.95,519.78 647.17,518.02 C647.39,516.26 647.41,514.00 647.50,511.99 C647.58,509.98 647.62,507.87 647.69,505.96 C647.76,504.05 647.85,501.43 647.90,500.53 C647.95,499.63 647.95,499.63 648.00,500.53Z" fill="#fcf08c" stroke="#000" stroke-width="2.1" stroke-linejoin="round"/>
<clipPath id="vc11"><path d="M648.00,500.53 C648.05,501.43 648.14,504.05 648.21,505.96 C648.28,507.87 648.32,509.98 648.41,511.99 C648.49,514.00 648.51,516.26 648.73,518.02 C648.95,519.78 649.28,521.03 649.75,522.54 C650.22,524.05 651.02,525.55 651.55,527.06 C652.08,528.57 652.62,530.33 652.95,531.59 C653.28,532.84 653.62,533.70 653.55,534.60 C653.48,535.50 652.98,536.11 652.55,537.01 C652.12,537.92 651.48,539.02 650.95,540.03 C650.42,541.03 649.75,542.14 649.35,543.04 C648.95,543.95 648.78,544.75 648.55,545.45 C648.33,546.16 648.11,546.96 648.00,547.26 C647.89,547.56 648.01,547.56 647.90,547.26 C647.79,546.96 647.58,546.16 647.35,545.45 C647.12,544.75 646.95,543.95 646.55,543.04 C646.15,542.14 645.48,541.03 644.95,540.03 C644.42,539.02 643.78,537.92 643.35,537.01 C642.92,536.11 642.42,535.50 642.35,534.60 C642.28,533.70 642.62,532.84 642.95,531.59 C643.28,530.33 643.82,528.57 644.35,527.06 C644.88,525.55 645.68,524.05 646.15,522.54 C646.62,521.03 646.95,519.78 647.17,518.02 C647.39,516.26 647.41,514.00 647.50,511.99 C647.58,509.98 647.62,507.87 647.69,505.96 C647.76,504.05 647.85,501.43 647.90,500.53 C647.95,499.63 647.95,499.63 648.00,500.53Z"/></clipPath>
<g clip-path="url(#vc11)">
<line x1="639.95" y1="534.60" x2="655.95" y2="534.60" stroke="#e7cf5c" stroke-width="1.3"/>
<line x1="639.95" y1="529.17" x2="655.95" y2="529.17" stroke="#000" stroke-opacity="0.35" stroke-width="0.6"/>
<line x1="639.95" y1="540.03" x2="655.95" y2="540.03" stroke="#000" stroke-opacity="0.35" stroke-width="0.6"/>
</g>
<line x1="647.95" y1="594.9" x2="647.95" y2="601.3" stroke="#000" stroke-width="2"/>
<path d="M670.55,499.32 C670.60,500.18 670.68,502.84 670.76,504.45 C670.84,506.06 670.91,507.57 671.02,508.97 C671.13,510.38 671.21,511.64 671.41,512.89 C671.61,514.15 671.71,515.30 672.19,516.51 C672.67,517.72 673.73,518.87 674.27,520.13 C674.81,521.38 675.00,522.64 675.42,524.05 C675.84,525.45 676.62,527.21 676.80,528.57 C676.98,529.93 676.52,530.93 676.50,532.19 C676.48,533.44 676.93,534.95 676.70,536.11 C676.47,537.26 675.73,538.12 675.10,539.12 C674.47,540.13 673.53,541.18 672.90,542.14 C672.27,543.09 671.69,544.10 671.30,544.85 C670.91,545.60 670.69,546.36 670.55,546.66 C670.41,546.96 670.59,546.96 670.45,546.66 C670.31,546.36 670.09,545.60 669.70,544.85 C669.31,544.10 668.73,543.09 668.10,542.14 C667.47,541.18 666.53,540.13 665.90,539.12 C665.27,538.12 664.53,537.26 664.30,536.11 C664.07,534.95 664.52,533.44 664.50,532.19 C664.48,530.93 664.02,529.93 664.20,528.57 C664.38,527.21 665.16,525.45 665.58,524.05 C666.00,522.64 666.19,521.38 666.73,520.13 C667.27,518.87 668.33,517.72 668.81,516.51 C669.29,515.30 669.39,514.15 669.59,512.89 C669.79,511.64 669.87,510.38 669.98,508.97 C670.09,507.57 670.16,506.06 670.24,504.45 C670.32,502.84 670.40,500.18 670.45,499.32 C670.50,498.47 670.50,498.47 670.55,499.32Z" fill="#440154" stroke="#000" stroke-width="2.1" stroke-linejoin="round"/>
<clipPath id="vc12"><path d="M670.55,499.32 C670.60,500.18 670.68,502.84 670.76,504.45 C670.84,506.06 670.91,507.57 671.02,508.97 C671.13,510.38 671.21,511.64 671.41,512.89 C671.61,514.15 671.71,515.30 672.19,516.51 C672.67,517.72 673.73,518.87 674.27,520.13 C674.81,521.38 675.00,522.64 675.42,524.05 C675.84,525.45 676.62,527.21 676.80,528.57 C676.98,529.93 676.52,530.93 676.50,532.19 C676.48,533.44 676.93,534.95 676.70,536.11 C676.47,537.26 675.73,538.12 675.10,539.12 C674.47,540.13 673.53,541.18 672.90,542.14 C672.27,543.09 671.69,544.10 671.30,544.85 C670.91,545.60 670.69,546.36 670.55,546.66 C670.41,546.96 670.59,546.96 670.45,546.66 C670.31,546.36 670.09,545.60 669.70,544.85 C669.31,544.10 668.73,543.09 668.10,542.14 C667.47,541.18 666.53,540.13 665.90,539.12 C665.27,538.12 664.53,537.26 664.30,536.11 C664.07,534.95 664.52,533.44 664.50,532.19 C664.48,530.93 664.02,529.93 664.20,528.57 C664.38,527.21 665.16,525.45 665.58,524.05 C666.00,522.64 666.19,521.38 666.73,520.13 C667.27,518.87 668.33,517.72 668.81,516.51 C669.29,515.30 669.39,514.15 669.59,512.89 C669.79,511.64 669.87,510.38 669.98,508.97 C670.09,507.57 670.16,506.06 670.24,504.45 C670.32,502.84 670.40,500.18 670.45,499.32 C670.50,498.47 670.50,498.47 670.55,499.32Z"/></clipPath>
<g clip-path="url(#vc12)">
<line x1="662.5" y1="531.59" x2="678.5" y2="531.59" stroke="#2a0038" stroke-width="1.3"/>
<line x1="662.5" y1="526.16" x2="678.5" y2="526.16" stroke="#000" stroke-opacity="0.35" stroke-width="0.6"/>
<line x1="662.5" y1="537.01" x2="678.5" y2="537.01" stroke="#000" stroke-opacity="0.35" stroke-width="0.6"/>
</g>
<line x1="670.5" y1="594.9" x2="670.5" y2="601.3" stroke="#000" stroke-width="2"/>
<g stroke="#000" stroke-width="1.4">
<line x1="399.9" y1="463.7" x2="648.2" y2="463.7"/>
<line x1="399.9" y1="478.0" x2="557.5" y2="478.0"/>
<line x1="399.9" y1="491.3" x2="468" y2="491.3"/>
</g>
<g transform="translate(521.20,456.10)" fill="#000">
<rect x="-0.85" y="-2.90" width="1.7" height="5.8" transform="rotate(0)"/>
<rect x="-0.85" y="-2.90" width="1.7" height="5.8" transform="rotate(60)"/>
<rect x="-0.85" y="-2.90" width="1.7" height="5.8" transform="rotate(120)"/>
</g>
<g transform="translate(527.00,456.10)" fill="#000">
<rect x="-0.85" y="-2.90" width="1.7" height="5.8" transform="rotate(0)"/>
<rect x="-0.85" y="-2.90" width="1.7" height="5.8" transform="rotate(60)"/>
<rect x="-0.85" y="-2.90" width="1.7" height="5.8" transform="rotate(120)"/>
</g>
<g transform="translate(476.20,470.10)" fill="#000">
<rect x="-0.85" y="-2.90" width="1.7" height="5.8" transform="rotate(0)"/>
<rect x="-0.85" y="-2.90" width="1.7" height="5.8" transform="rotate(60)"/>
<rect x="-0.85" y="-2.90" width="1.7" height="5.8" transform="rotate(120)"/>
</g>
<g transform="translate(482.00,470.10)" fill="#000">
<rect x="-0.85" y="-2.90" width="1.7" height="5.8" transform="rotate(0)"/>
<rect x="-0.85" y="-2.90" width="1.7" height="5.8" transform="rotate(60)"/>
<rect x="-0.85" y="-2.90" width="1.7" height="5.8" transform="rotate(120)"/>
</g>
<g transform="translate(433.80,483.40)" fill="#000">
<rect x="-0.85" y="-2.90" width="1.7" height="5.8" transform="rotate(0)"/>
<rect x="-0.85" y="-2.90" width="1.7" height="5.8" transform="rotate(60)"/>
<rect x="-0.85" y="-2.90" width="1.7" height="5.8" transform="rotate(120)"/>
</g>
<text x="0" y="0" font-size="8.4" font-weight="bold" text-anchor="end" transform="translate(402.2,608.5) rotate(-45)">Control</text>
<text x="0" y="0" font-size="8.4" font-weight="bold" text-anchor="end" transform="translate(424.75,608.5) rotate(-45)">BMP1</text>
<text x="0" y="0" font-size="8.4" font-weight="bold" text-anchor="end" transform="translate(447.3,608.5) rotate(-45)">CCN1</text>
<text x="0" y="0" font-size="8.4" font-weight="bold" text-anchor="end" transform="translate(469.84999999999997,608.5) rotate(-45)">CCN2</text>
<text x="0" y="0" font-size="8.4" font-weight="bold" text-anchor="end" transform="translate(492.4,608.5) rotate(-45)">GREM1</text>
<text x="0" y="0" font-size="8.4" font-weight="bold" text-anchor="end" transform="translate(514.9499999999999,608.5) rotate(-45)">HGF</text>
<text x="0" y="0" font-size="8.4" font-weight="bold" text-anchor="end" transform="translate(537.5,608.5) rotate(-45)">INHBA</text>
<text x="0" y="0" font-size="8.4" font-weight="bold" text-anchor="end" transform="translate(560.05,608.5) rotate(-45)">OGN</text>
<text x="0" y="0" font-size="8.4" font-weight="bold" text-anchor="end" transform="translate(582.5999999999999,608.5) rotate(-45)">PTN</text>
<text x="0" y="0" font-size="8.4" font-weight="bold" text-anchor="end" transform="translate(605.15,608.5) rotate(-45)">SEMA3A</text>
<text x="0" y="0" font-size="8.4" font-weight="bold" text-anchor="end" transform="translate(627.6999999999999,608.5) rotate(-45)">SEMA7A</text>
<text x="0" y="0" font-size="8.4" font-weight="bold" text-anchor="end" transform="translate(650.25,608.5) rotate(-45)">STC1</text>
<text x="0" y="0" font-size="8.4" font-weight="bold" text-anchor="end" transform="translate(672.8,608.5) rotate(-45)">STC2</text>
</svg>
</body></html>
